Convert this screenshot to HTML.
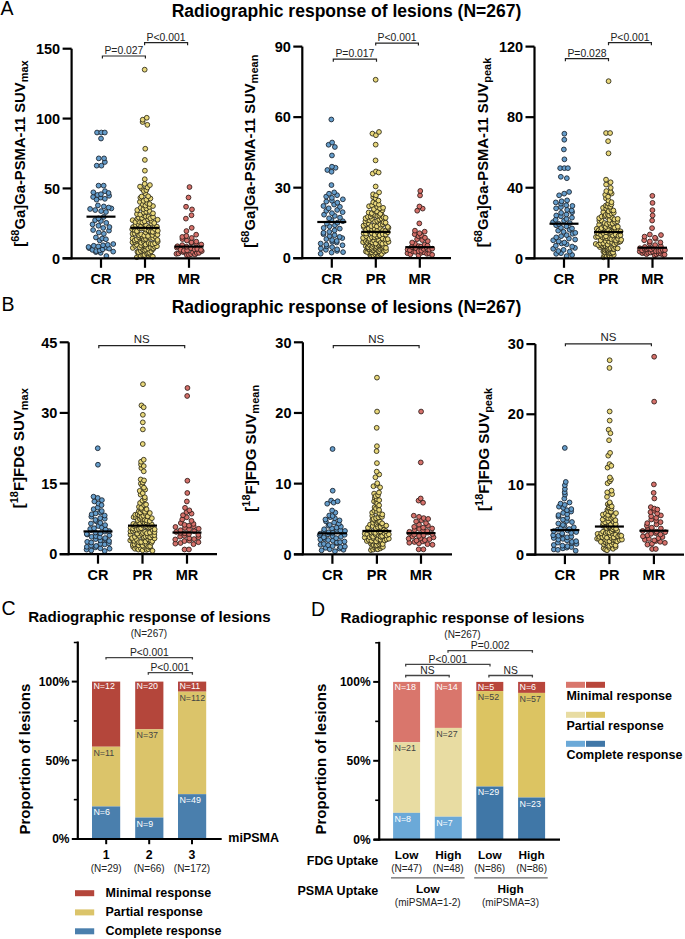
<!DOCTYPE html>
<html><head><meta charset="utf-8"><style>
html,body{margin:0;padding:0;background:#fff;width:685px;height:939px;overflow:hidden}
svg{display:block}
text{font-family:"Liberation Sans", sans-serif}
</style></head><body>
<svg width="685" height="939" viewBox="0 0 685 939" font-family='"Liberation Sans", sans-serif'>
<rect width="685" height="939" fill="#fff"/>
<text x="0.50" y="15.40" font-size="19.5" font-weight="normal" text-anchor="start" fill="#000" >A</text>
<text x="346.50" y="17.30" font-size="17.5" font-weight="bold" text-anchor="middle" fill="#000" >Radiographic response of lesions (N=267)</text>
<text x="1.60" y="311.00" font-size="19.5" font-weight="normal" text-anchor="start" fill="#000" >B</text>
<text x="346.50" y="312.60" font-size="17.5" font-weight="bold" text-anchor="middle" fill="#000" >Radiographic response of lesions (N=267)</text>
<circle cx="95.86" cy="252.08" r="2.4" fill="#659dcb" stroke="#1c2733" stroke-width="0.9"/>
<circle cx="100.65" cy="252.81" r="2.4" fill="#659dcb" stroke="#1c2733" stroke-width="0.9"/>
<circle cx="106.39" cy="256.06" r="2.4" fill="#659dcb" stroke="#1c2733" stroke-width="0.9"/>
<circle cx="89.08" cy="248.10" r="2.4" fill="#659dcb" stroke="#1c2733" stroke-width="0.9"/>
<circle cx="92.38" cy="249.88" r="2.4" fill="#659dcb" stroke="#1c2733" stroke-width="0.9"/>
<circle cx="96.20" cy="251.07" r="2.4" fill="#659dcb" stroke="#1c2733" stroke-width="0.9"/>
<circle cx="99.73" cy="250.41" r="2.4" fill="#659dcb" stroke="#1c2733" stroke-width="0.9"/>
<circle cx="102.69" cy="249.37" r="2.4" fill="#659dcb" stroke="#1c2733" stroke-width="0.9"/>
<circle cx="106.31" cy="247.68" r="2.4" fill="#659dcb" stroke="#1c2733" stroke-width="0.9"/>
<circle cx="109.13" cy="248.63" r="2.4" fill="#659dcb" stroke="#1c2733" stroke-width="0.9"/>
<circle cx="113.20" cy="251.60" r="2.4" fill="#659dcb" stroke="#1c2733" stroke-width="0.9"/>
<circle cx="88.52" cy="247.00" r="2.4" fill="#659dcb" stroke="#1c2733" stroke-width="0.9"/>
<circle cx="93.76" cy="245.77" r="2.4" fill="#659dcb" stroke="#1c2733" stroke-width="0.9"/>
<circle cx="98.27" cy="246.45" r="2.4" fill="#659dcb" stroke="#1c2733" stroke-width="0.9"/>
<circle cx="103.02" cy="245.25" r="2.4" fill="#659dcb" stroke="#1c2733" stroke-width="0.9"/>
<circle cx="107.76" cy="244.83" r="2.4" fill="#659dcb" stroke="#1c2733" stroke-width="0.9"/>
<circle cx="113.27" cy="244.03" r="2.4" fill="#659dcb" stroke="#1c2733" stroke-width="0.9"/>
<circle cx="95.89" cy="237.44" r="2.4" fill="#659dcb" stroke="#1c2733" stroke-width="0.9"/>
<circle cx="99.70" cy="240.39" r="2.4" fill="#659dcb" stroke="#1c2733" stroke-width="0.9"/>
<circle cx="102.25" cy="238.49" r="2.4" fill="#659dcb" stroke="#1c2733" stroke-width="0.9"/>
<circle cx="105.95" cy="239.23" r="2.4" fill="#659dcb" stroke="#1c2733" stroke-width="0.9"/>
<circle cx="93.11" cy="230.03" r="2.4" fill="#659dcb" stroke="#1c2733" stroke-width="0.9"/>
<circle cx="98.79" cy="232.54" r="2.4" fill="#659dcb" stroke="#1c2733" stroke-width="0.9"/>
<circle cx="103.88" cy="233.78" r="2.4" fill="#659dcb" stroke="#1c2733" stroke-width="0.9"/>
<circle cx="108.98" cy="230.65" r="2.4" fill="#659dcb" stroke="#1c2733" stroke-width="0.9"/>
<circle cx="92.55" cy="224.39" r="2.4" fill="#659dcb" stroke="#1c2733" stroke-width="0.9"/>
<circle cx="98.46" cy="225.76" r="2.4" fill="#659dcb" stroke="#1c2733" stroke-width="0.9"/>
<circle cx="103.21" cy="227.96" r="2.4" fill="#659dcb" stroke="#1c2733" stroke-width="0.9"/>
<circle cx="109.43" cy="227.04" r="2.4" fill="#659dcb" stroke="#1c2733" stroke-width="0.9"/>
<circle cx="95.10" cy="220.14" r="2.4" fill="#659dcb" stroke="#1c2733" stroke-width="0.9"/>
<circle cx="100.92" cy="221.01" r="2.4" fill="#659dcb" stroke="#1c2733" stroke-width="0.9"/>
<circle cx="106.27" cy="222.83" r="2.4" fill="#659dcb" stroke="#1c2733" stroke-width="0.9"/>
<circle cx="98.49" cy="218.41" r="2.4" fill="#659dcb" stroke="#1c2733" stroke-width="0.9"/>
<circle cx="103.72" cy="216.96" r="2.4" fill="#659dcb" stroke="#1c2733" stroke-width="0.9"/>
<circle cx="90.10" cy="208.96" r="2.4" fill="#659dcb" stroke="#1c2733" stroke-width="0.9"/>
<circle cx="95.20" cy="210.04" r="2.4" fill="#659dcb" stroke="#1c2733" stroke-width="0.9"/>
<circle cx="101.13" cy="211.09" r="2.4" fill="#659dcb" stroke="#1c2733" stroke-width="0.9"/>
<circle cx="105.96" cy="211.98" r="2.4" fill="#659dcb" stroke="#1c2733" stroke-width="0.9"/>
<circle cx="111.37" cy="208.46" r="2.4" fill="#659dcb" stroke="#1c2733" stroke-width="0.9"/>
<circle cx="97.91" cy="205.40" r="2.4" fill="#659dcb" stroke="#1c2733" stroke-width="0.9"/>
<circle cx="103.80" cy="206.44" r="2.4" fill="#659dcb" stroke="#1c2733" stroke-width="0.9"/>
<circle cx="108.70" cy="207.53" r="2.4" fill="#659dcb" stroke="#1c2733" stroke-width="0.9"/>
<circle cx="93.11" cy="196.99" r="2.4" fill="#659dcb" stroke="#1c2733" stroke-width="0.9"/>
<circle cx="96.57" cy="199.66" r="2.4" fill="#659dcb" stroke="#1c2733" stroke-width="0.9"/>
<circle cx="100.71" cy="197.61" r="2.4" fill="#659dcb" stroke="#1c2733" stroke-width="0.9"/>
<circle cx="104.88" cy="198.82" r="2.4" fill="#659dcb" stroke="#1c2733" stroke-width="0.9"/>
<circle cx="109.13" cy="195.80" r="2.4" fill="#659dcb" stroke="#1c2733" stroke-width="0.9"/>
<circle cx="93.35" cy="192.33" r="2.4" fill="#659dcb" stroke="#1c2733" stroke-width="0.9"/>
<circle cx="97.49" cy="194.96" r="2.4" fill="#659dcb" stroke="#1c2733" stroke-width="0.9"/>
<circle cx="100.97" cy="194.19" r="2.4" fill="#659dcb" stroke="#1c2733" stroke-width="0.9"/>
<circle cx="104.98" cy="191.17" r="2.4" fill="#659dcb" stroke="#1c2733" stroke-width="0.9"/>
<circle cx="108.59" cy="193.01" r="2.4" fill="#659dcb" stroke="#1c2733" stroke-width="0.9"/>
<circle cx="98.54" cy="185.64" r="2.4" fill="#659dcb" stroke="#1c2733" stroke-width="0.9"/>
<circle cx="103.68" cy="185.64" r="2.4" fill="#659dcb" stroke="#1c2733" stroke-width="0.9"/>
<circle cx="96.71" cy="165.66" r="2.4" fill="#659dcb" stroke="#1c2733" stroke-width="0.9"/>
<circle cx="101.45" cy="165.66" r="2.4" fill="#659dcb" stroke="#1c2733" stroke-width="0.9"/>
<circle cx="104.86" cy="162.02" r="2.4" fill="#659dcb" stroke="#1c2733" stroke-width="0.9"/>
<circle cx="98.78" cy="158.39" r="2.4" fill="#659dcb" stroke="#1c2733" stroke-width="0.9"/>
<circle cx="104.06" cy="158.39" r="2.4" fill="#659dcb" stroke="#1c2733" stroke-width="0.9"/>
<circle cx="101.02" cy="138.55" r="2.4" fill="#659dcb" stroke="#1c2733" stroke-width="0.9"/>
<circle cx="97.03" cy="132.54" r="2.4" fill="#659dcb" stroke="#1c2733" stroke-width="0.9"/>
<circle cx="101.28" cy="132.54" r="2.4" fill="#659dcb" stroke="#1c2733" stroke-width="0.9"/>
<circle cx="104.83" cy="132.54" r="2.4" fill="#659dcb" stroke="#1c2733" stroke-width="0.9"/>
<circle cx="136.84" cy="257.22" r="2.4" fill="#e8d77a" stroke="#33301c" stroke-width="0.9"/>
<circle cx="138.70" cy="254.11" r="2.4" fill="#e8d77a" stroke="#33301c" stroke-width="0.9"/>
<circle cx="140.82" cy="256.23" r="2.4" fill="#e8d77a" stroke="#33301c" stroke-width="0.9"/>
<circle cx="143.22" cy="255.51" r="2.4" fill="#e8d77a" stroke="#33301c" stroke-width="0.9"/>
<circle cx="144.52" cy="254.97" r="2.4" fill="#e8d77a" stroke="#33301c" stroke-width="0.9"/>
<circle cx="147.05" cy="253.70" r="2.4" fill="#e8d77a" stroke="#33301c" stroke-width="0.9"/>
<circle cx="148.94" cy="255.96" r="2.4" fill="#e8d77a" stroke="#33301c" stroke-width="0.9"/>
<circle cx="150.52" cy="254.61" r="2.4" fill="#e8d77a" stroke="#33301c" stroke-width="0.9"/>
<circle cx="152.83" cy="256.66" r="2.4" fill="#e8d77a" stroke="#33301c" stroke-width="0.9"/>
<circle cx="137.41" cy="251.86" r="2.4" fill="#e8d77a" stroke="#33301c" stroke-width="0.9"/>
<circle cx="138.46" cy="252.11" r="2.4" fill="#e8d77a" stroke="#33301c" stroke-width="0.9"/>
<circle cx="140.81" cy="250.81" r="2.4" fill="#e8d77a" stroke="#33301c" stroke-width="0.9"/>
<circle cx="142.65" cy="249.35" r="2.4" fill="#e8d77a" stroke="#33301c" stroke-width="0.9"/>
<circle cx="144.46" cy="250.49" r="2.4" fill="#e8d77a" stroke="#33301c" stroke-width="0.9"/>
<circle cx="146.06" cy="249.83" r="2.4" fill="#e8d77a" stroke="#33301c" stroke-width="0.9"/>
<circle cx="148.11" cy="253.08" r="2.4" fill="#e8d77a" stroke="#33301c" stroke-width="0.9"/>
<circle cx="149.35" cy="252.60" r="2.4" fill="#e8d77a" stroke="#33301c" stroke-width="0.9"/>
<circle cx="151.26" cy="251.25" r="2.4" fill="#e8d77a" stroke="#33301c" stroke-width="0.9"/>
<circle cx="153.01" cy="249.10" r="2.4" fill="#e8d77a" stroke="#33301c" stroke-width="0.9"/>
<circle cx="132.83" cy="247.92" r="2.4" fill="#e8d77a" stroke="#33301c" stroke-width="0.9"/>
<circle cx="135.24" cy="245.88" r="2.4" fill="#e8d77a" stroke="#33301c" stroke-width="0.9"/>
<circle cx="136.76" cy="244.76" r="2.4" fill="#e8d77a" stroke="#33301c" stroke-width="0.9"/>
<circle cx="139.77" cy="247.48" r="2.4" fill="#e8d77a" stroke="#33301c" stroke-width="0.9"/>
<circle cx="141.21" cy="245.52" r="2.4" fill="#e8d77a" stroke="#33301c" stroke-width="0.9"/>
<circle cx="144.24" cy="245.18" r="2.4" fill="#e8d77a" stroke="#33301c" stroke-width="0.9"/>
<circle cx="146.07" cy="246.46" r="2.4" fill="#e8d77a" stroke="#33301c" stroke-width="0.9"/>
<circle cx="148.19" cy="248.52" r="2.4" fill="#e8d77a" stroke="#33301c" stroke-width="0.9"/>
<circle cx="150.64" cy="247.24" r="2.4" fill="#e8d77a" stroke="#33301c" stroke-width="0.9"/>
<circle cx="153.25" cy="248.24" r="2.4" fill="#e8d77a" stroke="#33301c" stroke-width="0.9"/>
<circle cx="154.83" cy="246.80" r="2.4" fill="#e8d77a" stroke="#33301c" stroke-width="0.9"/>
<circle cx="156.93" cy="246.24" r="2.4" fill="#e8d77a" stroke="#33301c" stroke-width="0.9"/>
<circle cx="132.49" cy="242.32" r="2.4" fill="#e8d77a" stroke="#33301c" stroke-width="0.9"/>
<circle cx="134.94" cy="241.90" r="2.4" fill="#e8d77a" stroke="#33301c" stroke-width="0.9"/>
<circle cx="136.85" cy="240.94" r="2.4" fill="#e8d77a" stroke="#33301c" stroke-width="0.9"/>
<circle cx="139.26" cy="240.58" r="2.4" fill="#e8d77a" stroke="#33301c" stroke-width="0.9"/>
<circle cx="141.16" cy="242.69" r="2.4" fill="#e8d77a" stroke="#33301c" stroke-width="0.9"/>
<circle cx="143.63" cy="241.20" r="2.4" fill="#e8d77a" stroke="#33301c" stroke-width="0.9"/>
<circle cx="145.63" cy="244.48" r="2.4" fill="#e8d77a" stroke="#33301c" stroke-width="0.9"/>
<circle cx="148.59" cy="243.06" r="2.4" fill="#e8d77a" stroke="#33301c" stroke-width="0.9"/>
<circle cx="150.64" cy="243.81" r="2.4" fill="#e8d77a" stroke="#33301c" stroke-width="0.9"/>
<circle cx="152.52" cy="244.10" r="2.4" fill="#e8d77a" stroke="#33301c" stroke-width="0.9"/>
<circle cx="155.04" cy="243.30" r="2.4" fill="#e8d77a" stroke="#33301c" stroke-width="0.9"/>
<circle cx="157.73" cy="241.65" r="2.4" fill="#e8d77a" stroke="#33301c" stroke-width="0.9"/>
<circle cx="132.60" cy="238.43" r="2.4" fill="#e8d77a" stroke="#33301c" stroke-width="0.9"/>
<circle cx="134.78" cy="240.23" r="2.4" fill="#e8d77a" stroke="#33301c" stroke-width="0.9"/>
<circle cx="136.73" cy="239.26" r="2.4" fill="#e8d77a" stroke="#33301c" stroke-width="0.9"/>
<circle cx="139.04" cy="237.40" r="2.4" fill="#e8d77a" stroke="#33301c" stroke-width="0.9"/>
<circle cx="141.22" cy="236.39" r="2.4" fill="#e8d77a" stroke="#33301c" stroke-width="0.9"/>
<circle cx="144.12" cy="239.55" r="2.4" fill="#e8d77a" stroke="#33301c" stroke-width="0.9"/>
<circle cx="145.87" cy="238.95" r="2.4" fill="#e8d77a" stroke="#33301c" stroke-width="0.9"/>
<circle cx="148.02" cy="237.08" r="2.4" fill="#e8d77a" stroke="#33301c" stroke-width="0.9"/>
<circle cx="150.18" cy="237.80" r="2.4" fill="#e8d77a" stroke="#33301c" stroke-width="0.9"/>
<circle cx="153.17" cy="238.21" r="2.4" fill="#e8d77a" stroke="#33301c" stroke-width="0.9"/>
<circle cx="155.43" cy="236.78" r="2.4" fill="#e8d77a" stroke="#33301c" stroke-width="0.9"/>
<circle cx="157.47" cy="239.99" r="2.4" fill="#e8d77a" stroke="#33301c" stroke-width="0.9"/>
<circle cx="132.56" cy="233.89" r="2.4" fill="#e8d77a" stroke="#33301c" stroke-width="0.9"/>
<circle cx="134.77" cy="233.60" r="2.4" fill="#e8d77a" stroke="#33301c" stroke-width="0.9"/>
<circle cx="137.66" cy="233.24" r="2.4" fill="#e8d77a" stroke="#33301c" stroke-width="0.9"/>
<circle cx="139.23" cy="235.43" r="2.4" fill="#e8d77a" stroke="#33301c" stroke-width="0.9"/>
<circle cx="141.18" cy="234.35" r="2.4" fill="#e8d77a" stroke="#33301c" stroke-width="0.9"/>
<circle cx="144.26" cy="235.64" r="2.4" fill="#e8d77a" stroke="#33301c" stroke-width="0.9"/>
<circle cx="145.84" cy="232.47" r="2.4" fill="#e8d77a" stroke="#33301c" stroke-width="0.9"/>
<circle cx="148.04" cy="236.04" r="2.4" fill="#e8d77a" stroke="#33301c" stroke-width="0.9"/>
<circle cx="150.43" cy="232.22" r="2.4" fill="#e8d77a" stroke="#33301c" stroke-width="0.9"/>
<circle cx="152.41" cy="234.99" r="2.4" fill="#e8d77a" stroke="#33301c" stroke-width="0.9"/>
<circle cx="154.84" cy="232.85" r="2.4" fill="#e8d77a" stroke="#33301c" stroke-width="0.9"/>
<circle cx="157.46" cy="234.70" r="2.4" fill="#e8d77a" stroke="#33301c" stroke-width="0.9"/>
<circle cx="132.22" cy="229.32" r="2.4" fill="#e8d77a" stroke="#33301c" stroke-width="0.9"/>
<circle cx="134.74" cy="230.10" r="2.4" fill="#e8d77a" stroke="#33301c" stroke-width="0.9"/>
<circle cx="136.91" cy="231.15" r="2.4" fill="#e8d77a" stroke="#33301c" stroke-width="0.9"/>
<circle cx="139.49" cy="228.06" r="2.4" fill="#e8d77a" stroke="#33301c" stroke-width="0.9"/>
<circle cx="141.67" cy="228.27" r="2.4" fill="#e8d77a" stroke="#33301c" stroke-width="0.9"/>
<circle cx="144.13" cy="228.63" r="2.4" fill="#e8d77a" stroke="#33301c" stroke-width="0.9"/>
<circle cx="146.28" cy="229.76" r="2.4" fill="#e8d77a" stroke="#33301c" stroke-width="0.9"/>
<circle cx="148.57" cy="230.47" r="2.4" fill="#e8d77a" stroke="#33301c" stroke-width="0.9"/>
<circle cx="150.97" cy="231.50" r="2.4" fill="#e8d77a" stroke="#33301c" stroke-width="0.9"/>
<circle cx="152.72" cy="231.83" r="2.4" fill="#e8d77a" stroke="#33301c" stroke-width="0.9"/>
<circle cx="154.89" cy="229.02" r="2.4" fill="#e8d77a" stroke="#33301c" stroke-width="0.9"/>
<circle cx="157.78" cy="230.77" r="2.4" fill="#e8d77a" stroke="#33301c" stroke-width="0.9"/>
<circle cx="133.03" cy="227.08" r="2.4" fill="#e8d77a" stroke="#33301c" stroke-width="0.9"/>
<circle cx="135.52" cy="224.91" r="2.4" fill="#e8d77a" stroke="#33301c" stroke-width="0.9"/>
<circle cx="138.56" cy="224.33" r="2.4" fill="#e8d77a" stroke="#33301c" stroke-width="0.9"/>
<circle cx="141.08" cy="226.25" r="2.4" fill="#e8d77a" stroke="#33301c" stroke-width="0.9"/>
<circle cx="143.83" cy="223.83" r="2.4" fill="#e8d77a" stroke="#33301c" stroke-width="0.9"/>
<circle cx="146.10" cy="225.25" r="2.4" fill="#e8d77a" stroke="#33301c" stroke-width="0.9"/>
<circle cx="148.63" cy="227.50" r="2.4" fill="#e8d77a" stroke="#33301c" stroke-width="0.9"/>
<circle cx="151.47" cy="223.53" r="2.4" fill="#e8d77a" stroke="#33301c" stroke-width="0.9"/>
<circle cx="154.43" cy="225.87" r="2.4" fill="#e8d77a" stroke="#33301c" stroke-width="0.9"/>
<circle cx="156.90" cy="226.63" r="2.4" fill="#e8d77a" stroke="#33301c" stroke-width="0.9"/>
<circle cx="132.66" cy="220.19" r="2.4" fill="#e8d77a" stroke="#33301c" stroke-width="0.9"/>
<circle cx="135.35" cy="222.07" r="2.4" fill="#e8d77a" stroke="#33301c" stroke-width="0.9"/>
<circle cx="139.28" cy="221.76" r="2.4" fill="#e8d77a" stroke="#33301c" stroke-width="0.9"/>
<circle cx="142.32" cy="222.46" r="2.4" fill="#e8d77a" stroke="#33301c" stroke-width="0.9"/>
<circle cx="144.59" cy="221.32" r="2.4" fill="#e8d77a" stroke="#33301c" stroke-width="0.9"/>
<circle cx="148.10" cy="219.48" r="2.4" fill="#e8d77a" stroke="#33301c" stroke-width="0.9"/>
<circle cx="151.40" cy="220.85" r="2.4" fill="#e8d77a" stroke="#33301c" stroke-width="0.9"/>
<circle cx="154.20" cy="223.07" r="2.4" fill="#e8d77a" stroke="#33301c" stroke-width="0.9"/>
<circle cx="157.61" cy="219.76" r="2.4" fill="#e8d77a" stroke="#33301c" stroke-width="0.9"/>
<circle cx="137.35" cy="218.84" r="2.4" fill="#e8d77a" stroke="#33301c" stroke-width="0.9"/>
<circle cx="138.86" cy="217.60" r="2.4" fill="#e8d77a" stroke="#33301c" stroke-width="0.9"/>
<circle cx="141.98" cy="217.97" r="2.4" fill="#e8d77a" stroke="#33301c" stroke-width="0.9"/>
<circle cx="143.64" cy="215.34" r="2.4" fill="#e8d77a" stroke="#33301c" stroke-width="0.9"/>
<circle cx="145.69" cy="216.32" r="2.4" fill="#e8d77a" stroke="#33301c" stroke-width="0.9"/>
<circle cx="148.56" cy="216.75" r="2.4" fill="#e8d77a" stroke="#33301c" stroke-width="0.9"/>
<circle cx="150.41" cy="218.34" r="2.4" fill="#e8d77a" stroke="#33301c" stroke-width="0.9"/>
<circle cx="153.10" cy="217.09" r="2.4" fill="#e8d77a" stroke="#33301c" stroke-width="0.9"/>
<circle cx="136.98" cy="214.07" r="2.4" fill="#e8d77a" stroke="#33301c" stroke-width="0.9"/>
<circle cx="140.19" cy="214.57" r="2.4" fill="#e8d77a" stroke="#33301c" stroke-width="0.9"/>
<circle cx="143.87" cy="212.57" r="2.4" fill="#e8d77a" stroke="#33301c" stroke-width="0.9"/>
<circle cx="146.20" cy="211.80" r="2.4" fill="#e8d77a" stroke="#33301c" stroke-width="0.9"/>
<circle cx="149.52" cy="211.01" r="2.4" fill="#e8d77a" stroke="#33301c" stroke-width="0.9"/>
<circle cx="152.99" cy="213.35" r="2.4" fill="#e8d77a" stroke="#33301c" stroke-width="0.9"/>
<circle cx="137.27" cy="210.03" r="2.4" fill="#e8d77a" stroke="#33301c" stroke-width="0.9"/>
<circle cx="140.69" cy="207.75" r="2.4" fill="#e8d77a" stroke="#33301c" stroke-width="0.9"/>
<circle cx="143.45" cy="209.12" r="2.4" fill="#e8d77a" stroke="#33301c" stroke-width="0.9"/>
<circle cx="146.41" cy="208.37" r="2.4" fill="#e8d77a" stroke="#33301c" stroke-width="0.9"/>
<circle cx="149.39" cy="206.89" r="2.4" fill="#e8d77a" stroke="#33301c" stroke-width="0.9"/>
<circle cx="152.97" cy="206.04" r="2.4" fill="#e8d77a" stroke="#33301c" stroke-width="0.9"/>
<circle cx="139.89" cy="201.87" r="2.4" fill="#e8d77a" stroke="#33301c" stroke-width="0.9"/>
<circle cx="142.92" cy="204.54" r="2.4" fill="#e8d77a" stroke="#33301c" stroke-width="0.9"/>
<circle cx="145.43" cy="205.59" r="2.4" fill="#e8d77a" stroke="#33301c" stroke-width="0.9"/>
<circle cx="147.07" cy="203.01" r="2.4" fill="#e8d77a" stroke="#33301c" stroke-width="0.9"/>
<circle cx="149.59" cy="204.01" r="2.4" fill="#e8d77a" stroke="#33301c" stroke-width="0.9"/>
<circle cx="140.39" cy="197.78" r="2.4" fill="#e8d77a" stroke="#33301c" stroke-width="0.9"/>
<circle cx="143.54" cy="200.88" r="2.4" fill="#e8d77a" stroke="#33301c" stroke-width="0.9"/>
<circle cx="146.40" cy="199.63" r="2.4" fill="#e8d77a" stroke="#33301c" stroke-width="0.9"/>
<circle cx="150.40" cy="198.47" r="2.4" fill="#e8d77a" stroke="#33301c" stroke-width="0.9"/>
<circle cx="141.66" cy="196.50" r="2.4" fill="#e8d77a" stroke="#33301c" stroke-width="0.9"/>
<circle cx="145.45" cy="193.60" r="2.4" fill="#e8d77a" stroke="#33301c" stroke-width="0.9"/>
<circle cx="148.18" cy="196.26" r="2.4" fill="#e8d77a" stroke="#33301c" stroke-width="0.9"/>
<circle cx="141.84" cy="188.74" r="2.4" fill="#e8d77a" stroke="#33301c" stroke-width="0.9"/>
<circle cx="143.82" cy="190.95" r="2.4" fill="#e8d77a" stroke="#33301c" stroke-width="0.9"/>
<circle cx="146.34" cy="190.06" r="2.4" fill="#e8d77a" stroke="#33301c" stroke-width="0.9"/>
<circle cx="147.50" cy="187.50" r="2.4" fill="#e8d77a" stroke="#33301c" stroke-width="0.9"/>
<circle cx="140.04" cy="186.60" r="2.4" fill="#e8d77a" stroke="#33301c" stroke-width="0.9"/>
<circle cx="144.70" cy="183.89" r="2.4" fill="#e8d77a" stroke="#33301c" stroke-width="0.9"/>
<circle cx="149.91" cy="185.07" r="2.4" fill="#e8d77a" stroke="#33301c" stroke-width="0.9"/>
<circle cx="144.75" cy="179.21" r="2.4" fill="#e8d77a" stroke="#33301c" stroke-width="0.9"/>
<circle cx="144.89" cy="170.69" r="2.4" fill="#e8d77a" stroke="#33301c" stroke-width="0.9"/>
<circle cx="144.86" cy="159.93" r="2.4" fill="#e8d77a" stroke="#33301c" stroke-width="0.9"/>
<circle cx="145.26" cy="148.75" r="2.4" fill="#e8d77a" stroke="#33301c" stroke-width="0.9"/>
<circle cx="142.60" cy="122.02" r="2.4" fill="#e8d77a" stroke="#33301c" stroke-width="0.9"/>
<circle cx="147.33" cy="124.85" r="2.4" fill="#e8d77a" stroke="#33301c" stroke-width="0.9"/>
<circle cx="142.75" cy="119.70" r="2.4" fill="#e8d77a" stroke="#33301c" stroke-width="0.9"/>
<circle cx="146.77" cy="117.77" r="2.4" fill="#e8d77a" stroke="#33301c" stroke-width="0.9"/>
<circle cx="144.69" cy="69.66" r="2.4" fill="#e8d77a" stroke="#33301c" stroke-width="0.9"/>
<circle cx="176.44" cy="253.85" r="2.4" fill="#d5706a" stroke="#38201d" stroke-width="0.9"/>
<circle cx="178.51" cy="253.41" r="2.4" fill="#d5706a" stroke="#38201d" stroke-width="0.9"/>
<circle cx="180.87" cy="251.41" r="2.4" fill="#d5706a" stroke="#38201d" stroke-width="0.9"/>
<circle cx="183.24" cy="252.12" r="2.4" fill="#d5706a" stroke="#38201d" stroke-width="0.9"/>
<circle cx="185.15" cy="251.72" r="2.4" fill="#d5706a" stroke="#38201d" stroke-width="0.9"/>
<circle cx="186.86" cy="255.10" r="2.4" fill="#d5706a" stroke="#38201d" stroke-width="0.9"/>
<circle cx="188.91" cy="254.92" r="2.4" fill="#d5706a" stroke="#38201d" stroke-width="0.9"/>
<circle cx="191.07" cy="254.19" r="2.4" fill="#d5706a" stroke="#38201d" stroke-width="0.9"/>
<circle cx="192.98" cy="252.40" r="2.4" fill="#d5706a" stroke="#38201d" stroke-width="0.9"/>
<circle cx="194.99" cy="254.51" r="2.4" fill="#d5706a" stroke="#38201d" stroke-width="0.9"/>
<circle cx="196.76" cy="253.02" r="2.4" fill="#d5706a" stroke="#38201d" stroke-width="0.9"/>
<circle cx="199.03" cy="252.82" r="2.4" fill="#d5706a" stroke="#38201d" stroke-width="0.9"/>
<circle cx="201.77" cy="251.11" r="2.4" fill="#d5706a" stroke="#38201d" stroke-width="0.9"/>
<circle cx="176.88" cy="247.60" r="2.4" fill="#d5706a" stroke="#38201d" stroke-width="0.9"/>
<circle cx="180.57" cy="249.66" r="2.4" fill="#d5706a" stroke="#38201d" stroke-width="0.9"/>
<circle cx="183.79" cy="250.77" r="2.4" fill="#d5706a" stroke="#38201d" stroke-width="0.9"/>
<circle cx="187.10" cy="250.41" r="2.4" fill="#d5706a" stroke="#38201d" stroke-width="0.9"/>
<circle cx="191.03" cy="248.20" r="2.4" fill="#d5706a" stroke="#38201d" stroke-width="0.9"/>
<circle cx="194.61" cy="249.37" r="2.4" fill="#d5706a" stroke="#38201d" stroke-width="0.9"/>
<circle cx="197.20" cy="248.89" r="2.4" fill="#d5706a" stroke="#38201d" stroke-width="0.9"/>
<circle cx="200.93" cy="249.92" r="2.4" fill="#d5706a" stroke="#38201d" stroke-width="0.9"/>
<circle cx="177.43" cy="246.27" r="2.4" fill="#d5706a" stroke="#38201d" stroke-width="0.9"/>
<circle cx="182.23" cy="245.17" r="2.4" fill="#d5706a" stroke="#38201d" stroke-width="0.9"/>
<circle cx="186.63" cy="246.74" r="2.4" fill="#d5706a" stroke="#38201d" stroke-width="0.9"/>
<circle cx="191.37" cy="242.86" r="2.4" fill="#d5706a" stroke="#38201d" stroke-width="0.9"/>
<circle cx="196.15" cy="243.59" r="2.4" fill="#d5706a" stroke="#38201d" stroke-width="0.9"/>
<circle cx="201.28" cy="244.52" r="2.4" fill="#d5706a" stroke="#38201d" stroke-width="0.9"/>
<circle cx="182.44" cy="239.03" r="2.4" fill="#d5706a" stroke="#38201d" stroke-width="0.9"/>
<circle cx="186.89" cy="240.51" r="2.4" fill="#d5706a" stroke="#38201d" stroke-width="0.9"/>
<circle cx="191.48" cy="242.25" r="2.4" fill="#d5706a" stroke="#38201d" stroke-width="0.9"/>
<circle cx="196.26" cy="241.58" r="2.4" fill="#d5706a" stroke="#38201d" stroke-width="0.9"/>
<circle cx="182.28" cy="236.94" r="2.4" fill="#d5706a" stroke="#38201d" stroke-width="0.9"/>
<circle cx="186.40" cy="235.96" r="2.4" fill="#d5706a" stroke="#38201d" stroke-width="0.9"/>
<circle cx="191.75" cy="237.98" r="2.4" fill="#d5706a" stroke="#38201d" stroke-width="0.9"/>
<circle cx="196.15" cy="234.68" r="2.4" fill="#d5706a" stroke="#38201d" stroke-width="0.9"/>
<circle cx="186.43" cy="231.05" r="2.4" fill="#d5706a" stroke="#38201d" stroke-width="0.9"/>
<circle cx="191.73" cy="227.84" r="2.4" fill="#d5706a" stroke="#38201d" stroke-width="0.9"/>
<circle cx="185.90" cy="218.62" r="2.4" fill="#d5706a" stroke="#38201d" stroke-width="0.9"/>
<circle cx="191.50" cy="215.26" r="2.4" fill="#d5706a" stroke="#38201d" stroke-width="0.9"/>
<circle cx="186.06" cy="206.74" r="2.4" fill="#d5706a" stroke="#38201d" stroke-width="0.9"/>
<circle cx="191.99" cy="209.39" r="2.4" fill="#d5706a" stroke="#38201d" stroke-width="0.9"/>
<circle cx="188.51" cy="197.52" r="2.4" fill="#d5706a" stroke="#38201d" stroke-width="0.9"/>
<circle cx="189.50" cy="187.04" r="2.4" fill="#d5706a" stroke="#38201d" stroke-width="0.9"/>
<line x1="86.50" y1="216.66" x2="115.50" y2="216.66" stroke="#000" stroke-width="2.2" stroke-linecap="butt"/>
<line x1="130.50" y1="227.84" x2="159.50" y2="227.84" stroke="#000" stroke-width="2.2" stroke-linecap="butt"/>
<line x1="174.50" y1="246.56" x2="203.50" y2="246.56" stroke="#000" stroke-width="2.2" stroke-linecap="butt"/>
<line x1="71.60" y1="48.70" x2="71.60" y2="259.30" stroke="#000" stroke-width="2.2" stroke-linecap="butt"/>
<line x1="62.60" y1="258.30" x2="220.00" y2="258.30" stroke="#000" stroke-width="2.2" stroke-linecap="butt"/>
<line x1="62.60" y1="258.30" x2="71.60" y2="258.30" stroke="#000" stroke-width="2.2" stroke-linecap="butt"/>
<text x="60.20" y="263.50" font-size="14.5" font-weight="bold" text-anchor="end" fill="#000" >0</text>
<line x1="62.60" y1="188.43" x2="71.60" y2="188.43" stroke="#000" stroke-width="2.2" stroke-linecap="butt"/>
<text x="60.20" y="193.63" font-size="14.5" font-weight="bold" text-anchor="end" fill="#000" >50</text>
<line x1="62.60" y1="118.57" x2="71.60" y2="118.57" stroke="#000" stroke-width="2.2" stroke-linecap="butt"/>
<text x="60.20" y="123.77" font-size="14.5" font-weight="bold" text-anchor="end" fill="#000" >100</text>
<line x1="62.60" y1="48.70" x2="71.60" y2="48.70" stroke="#000" stroke-width="2.2" stroke-linecap="butt"/>
<text x="60.20" y="53.90" font-size="14.5" font-weight="bold" text-anchor="end" fill="#000" >150</text>
<line x1="101.00" y1="258.30" x2="101.00" y2="267.80" stroke="#000" stroke-width="2.2" stroke-linecap="butt"/>
<text x="101.00" y="283.60" font-size="14.5" font-weight="bold" text-anchor="middle" fill="#000" >CR</text>
<line x1="145.00" y1="258.30" x2="145.00" y2="267.80" stroke="#000" stroke-width="2.2" stroke-linecap="butt"/>
<text x="145.00" y="283.60" font-size="14.5" font-weight="bold" text-anchor="middle" fill="#000" >PR</text>
<line x1="189.00" y1="258.30" x2="189.00" y2="267.80" stroke="#000" stroke-width="2.2" stroke-linecap="butt"/>
<text x="189.00" y="283.60" font-size="14.5" font-weight="bold" text-anchor="middle" fill="#000" >MR</text>
<text transform="translate(24.70,153.50) rotate(-90)" font-size="14.8" font-weight="bold" text-anchor="middle">[<tspan font-size="11" dy="-5.8">68</tspan><tspan dy="5.8">Ga]Ga-PSMA-11 SUV</tspan><tspan font-size="11" dy="3.4">max</tspan></text>
<path d="M102.40,58.50 V56.00 H145.40 V58.50" fill="none" stroke="#222" stroke-width="1.2"/>
<text x="123.90" y="54.20" font-size="10.4" font-weight="normal" text-anchor="middle" fill="#222" >P=0.027</text>
<path d="M144.60,45.20 V42.70 H187.60 V45.20" fill="none" stroke="#222" stroke-width="1.2"/>
<text x="166.10" y="40.90" font-size="10.4" font-weight="normal" text-anchor="middle" fill="#222" >P&lt;0.001</text>
<circle cx="320.67" cy="253.75" r="2.4" fill="#659dcb" stroke="#1c2733" stroke-width="0.9"/>
<circle cx="325.90" cy="249.79" r="2.4" fill="#659dcb" stroke="#1c2733" stroke-width="0.9"/>
<circle cx="331.58" cy="252.58" r="2.4" fill="#659dcb" stroke="#1c2733" stroke-width="0.9"/>
<circle cx="337.05" cy="250.90" r="2.4" fill="#659dcb" stroke="#1c2733" stroke-width="0.9"/>
<circle cx="343.06" cy="252.13" r="2.4" fill="#659dcb" stroke="#1c2733" stroke-width="0.9"/>
<circle cx="320.86" cy="248.43" r="2.4" fill="#659dcb" stroke="#1c2733" stroke-width="0.9"/>
<circle cx="326.72" cy="246.35" r="2.4" fill="#659dcb" stroke="#1c2733" stroke-width="0.9"/>
<circle cx="332.12" cy="247.18" r="2.4" fill="#659dcb" stroke="#1c2733" stroke-width="0.9"/>
<circle cx="337.13" cy="249.34" r="2.4" fill="#659dcb" stroke="#1c2733" stroke-width="0.9"/>
<circle cx="320.69" cy="243.54" r="2.4" fill="#659dcb" stroke="#1c2733" stroke-width="0.9"/>
<circle cx="326.26" cy="244.62" r="2.4" fill="#659dcb" stroke="#1c2733" stroke-width="0.9"/>
<circle cx="332.20" cy="241.76" r="2.4" fill="#659dcb" stroke="#1c2733" stroke-width="0.9"/>
<circle cx="336.73" cy="242.47" r="2.4" fill="#659dcb" stroke="#1c2733" stroke-width="0.9"/>
<circle cx="342.51" cy="245.26" r="2.4" fill="#659dcb" stroke="#1c2733" stroke-width="0.9"/>
<circle cx="326.36" cy="239.06" r="2.4" fill="#659dcb" stroke="#1c2733" stroke-width="0.9"/>
<circle cx="332.10" cy="240.03" r="2.4" fill="#659dcb" stroke="#1c2733" stroke-width="0.9"/>
<circle cx="336.76" cy="240.94" r="2.4" fill="#659dcb" stroke="#1c2733" stroke-width="0.9"/>
<circle cx="342.29" cy="238.11" r="2.4" fill="#659dcb" stroke="#1c2733" stroke-width="0.9"/>
<circle cx="323.47" cy="234.15" r="2.4" fill="#659dcb" stroke="#1c2733" stroke-width="0.9"/>
<circle cx="329.56" cy="236.07" r="2.4" fill="#659dcb" stroke="#1c2733" stroke-width="0.9"/>
<circle cx="334.62" cy="235.17" r="2.4" fill="#659dcb" stroke="#1c2733" stroke-width="0.9"/>
<circle cx="339.66" cy="236.93" r="2.4" fill="#659dcb" stroke="#1c2733" stroke-width="0.9"/>
<circle cx="323.50" cy="232.84" r="2.4" fill="#659dcb" stroke="#1c2733" stroke-width="0.9"/>
<circle cx="329.32" cy="231.85" r="2.4" fill="#659dcb" stroke="#1c2733" stroke-width="0.9"/>
<circle cx="334.60" cy="230.35" r="2.4" fill="#659dcb" stroke="#1c2733" stroke-width="0.9"/>
<circle cx="323.68" cy="227.95" r="2.4" fill="#659dcb" stroke="#1c2733" stroke-width="0.9"/>
<circle cx="329.56" cy="226.33" r="2.4" fill="#659dcb" stroke="#1c2733" stroke-width="0.9"/>
<circle cx="334.95" cy="225.27" r="2.4" fill="#659dcb" stroke="#1c2733" stroke-width="0.9"/>
<circle cx="339.79" cy="228.63" r="2.4" fill="#659dcb" stroke="#1c2733" stroke-width="0.9"/>
<circle cx="326.83" cy="223.55" r="2.4" fill="#659dcb" stroke="#1c2733" stroke-width="0.9"/>
<circle cx="331.48" cy="220.08" r="2.4" fill="#659dcb" stroke="#1c2733" stroke-width="0.9"/>
<circle cx="337.50" cy="222.71" r="2.4" fill="#659dcb" stroke="#1c2733" stroke-width="0.9"/>
<circle cx="342.84" cy="221.21" r="2.4" fill="#659dcb" stroke="#1c2733" stroke-width="0.9"/>
<circle cx="324.06" cy="214.67" r="2.4" fill="#659dcb" stroke="#1c2733" stroke-width="0.9"/>
<circle cx="329.06" cy="218.31" r="2.4" fill="#659dcb" stroke="#1c2733" stroke-width="0.9"/>
<circle cx="334.78" cy="215.94" r="2.4" fill="#659dcb" stroke="#1c2733" stroke-width="0.9"/>
<circle cx="340.00" cy="217.63" r="2.4" fill="#659dcb" stroke="#1c2733" stroke-width="0.9"/>
<circle cx="326.31" cy="210.82" r="2.4" fill="#659dcb" stroke="#1c2733" stroke-width="0.9"/>
<circle cx="331.95" cy="213.16" r="2.4" fill="#659dcb" stroke="#1c2733" stroke-width="0.9"/>
<circle cx="337.18" cy="209.92" r="2.4" fill="#659dcb" stroke="#1c2733" stroke-width="0.9"/>
<circle cx="342.64" cy="212.15" r="2.4" fill="#659dcb" stroke="#1c2733" stroke-width="0.9"/>
<circle cx="323.46" cy="205.98" r="2.4" fill="#659dcb" stroke="#1c2733" stroke-width="0.9"/>
<circle cx="328.68" cy="208.32" r="2.4" fill="#659dcb" stroke="#1c2733" stroke-width="0.9"/>
<circle cx="334.10" cy="204.56" r="2.4" fill="#659dcb" stroke="#1c2733" stroke-width="0.9"/>
<circle cx="339.90" cy="206.82" r="2.4" fill="#659dcb" stroke="#1c2733" stroke-width="0.9"/>
<circle cx="326.32" cy="201.59" r="2.4" fill="#659dcb" stroke="#1c2733" stroke-width="0.9"/>
<circle cx="331.92" cy="200.73" r="2.4" fill="#659dcb" stroke="#1c2733" stroke-width="0.9"/>
<circle cx="337.37" cy="202.71" r="2.4" fill="#659dcb" stroke="#1c2733" stroke-width="0.9"/>
<circle cx="342.85" cy="199.31" r="2.4" fill="#659dcb" stroke="#1c2733" stroke-width="0.9"/>
<circle cx="326.19" cy="196.58" r="2.4" fill="#659dcb" stroke="#1c2733" stroke-width="0.9"/>
<circle cx="331.87" cy="197.84" r="2.4" fill="#659dcb" stroke="#1c2733" stroke-width="0.9"/>
<circle cx="337.07" cy="195.17" r="2.4" fill="#659dcb" stroke="#1c2733" stroke-width="0.9"/>
<circle cx="329.04" cy="193.71" r="2.4" fill="#659dcb" stroke="#1c2733" stroke-width="0.9"/>
<circle cx="334.19" cy="192.38" r="2.4" fill="#659dcb" stroke="#1c2733" stroke-width="0.9"/>
<circle cx="331.45" cy="185.08" r="2.4" fill="#659dcb" stroke="#1c2733" stroke-width="0.9"/>
<circle cx="327.36" cy="170.02" r="2.4" fill="#659dcb" stroke="#1c2733" stroke-width="0.9"/>
<circle cx="331.55" cy="171.76" r="2.4" fill="#659dcb" stroke="#1c2733" stroke-width="0.9"/>
<circle cx="335.55" cy="167.78" r="2.4" fill="#659dcb" stroke="#1c2733" stroke-width="0.9"/>
<circle cx="331.95" cy="166.68" r="2.4" fill="#659dcb" stroke="#1c2733" stroke-width="0.9"/>
<circle cx="331.95" cy="155.46" r="2.4" fill="#659dcb" stroke="#1c2733" stroke-width="0.9"/>
<circle cx="328.60" cy="144.76" r="2.4" fill="#659dcb" stroke="#1c2733" stroke-width="0.9"/>
<circle cx="334.88" cy="146.99" r="2.4" fill="#659dcb" stroke="#1c2733" stroke-width="0.9"/>
<circle cx="332.14" cy="142.53" r="2.4" fill="#659dcb" stroke="#1c2733" stroke-width="0.9"/>
<circle cx="331.34" cy="119.48" r="2.4" fill="#659dcb" stroke="#1c2733" stroke-width="0.9"/>
<circle cx="370.13" cy="254.90" r="2.4" fill="#e8d77a" stroke="#33301c" stroke-width="0.9"/>
<circle cx="370.83" cy="255.27" r="2.4" fill="#e8d77a" stroke="#33301c" stroke-width="0.9"/>
<circle cx="371.40" cy="253.76" r="2.4" fill="#e8d77a" stroke="#33301c" stroke-width="0.9"/>
<circle cx="372.39" cy="253.03" r="2.4" fill="#e8d77a" stroke="#33301c" stroke-width="0.9"/>
<circle cx="373.61" cy="255.51" r="2.4" fill="#e8d77a" stroke="#33301c" stroke-width="0.9"/>
<circle cx="374.82" cy="252.77" r="2.4" fill="#e8d77a" stroke="#33301c" stroke-width="0.9"/>
<circle cx="375.29" cy="254.37" r="2.4" fill="#e8d77a" stroke="#33301c" stroke-width="0.9"/>
<circle cx="376.02" cy="252.55" r="2.4" fill="#e8d77a" stroke="#33301c" stroke-width="0.9"/>
<circle cx="377.65" cy="256.17" r="2.4" fill="#e8d77a" stroke="#33301c" stroke-width="0.9"/>
<circle cx="378.09" cy="256.41" r="2.4" fill="#e8d77a" stroke="#33301c" stroke-width="0.9"/>
<circle cx="379.12" cy="255.87" r="2.4" fill="#e8d77a" stroke="#33301c" stroke-width="0.9"/>
<circle cx="380.07" cy="253.34" r="2.4" fill="#e8d77a" stroke="#33301c" stroke-width="0.9"/>
<circle cx="380.61" cy="254.59" r="2.4" fill="#e8d77a" stroke="#33301c" stroke-width="0.9"/>
<circle cx="381.67" cy="253.96" r="2.4" fill="#e8d77a" stroke="#33301c" stroke-width="0.9"/>
<circle cx="365.86" cy="251.45" r="2.4" fill="#e8d77a" stroke="#33301c" stroke-width="0.9"/>
<circle cx="367.21" cy="252.00" r="2.4" fill="#e8d77a" stroke="#33301c" stroke-width="0.9"/>
<circle cx="368.85" cy="249.77" r="2.4" fill="#e8d77a" stroke="#33301c" stroke-width="0.9"/>
<circle cx="369.40" cy="249.22" r="2.4" fill="#e8d77a" stroke="#33301c" stroke-width="0.9"/>
<circle cx="371.63" cy="252.15" r="2.4" fill="#e8d77a" stroke="#33301c" stroke-width="0.9"/>
<circle cx="372.60" cy="250.35" r="2.4" fill="#e8d77a" stroke="#33301c" stroke-width="0.9"/>
<circle cx="373.69" cy="250.06" r="2.4" fill="#e8d77a" stroke="#33301c" stroke-width="0.9"/>
<circle cx="375.43" cy="248.99" r="2.4" fill="#e8d77a" stroke="#33301c" stroke-width="0.9"/>
<circle cx="376.23" cy="248.73" r="2.4" fill="#e8d77a" stroke="#33301c" stroke-width="0.9"/>
<circle cx="378.29" cy="250.84" r="2.4" fill="#e8d77a" stroke="#33301c" stroke-width="0.9"/>
<circle cx="379.21" cy="251.10" r="2.4" fill="#e8d77a" stroke="#33301c" stroke-width="0.9"/>
<circle cx="380.33" cy="249.53" r="2.4" fill="#e8d77a" stroke="#33301c" stroke-width="0.9"/>
<circle cx="382.06" cy="248.52" r="2.4" fill="#e8d77a" stroke="#33301c" stroke-width="0.9"/>
<circle cx="383.08" cy="248.16" r="2.4" fill="#e8d77a" stroke="#33301c" stroke-width="0.9"/>
<circle cx="384.14" cy="251.60" r="2.4" fill="#e8d77a" stroke="#33301c" stroke-width="0.9"/>
<circle cx="386.04" cy="250.57" r="2.4" fill="#e8d77a" stroke="#33301c" stroke-width="0.9"/>
<circle cx="365.81" cy="246.22" r="2.4" fill="#e8d77a" stroke="#33301c" stroke-width="0.9"/>
<circle cx="367.62" cy="247.34" r="2.4" fill="#e8d77a" stroke="#33301c" stroke-width="0.9"/>
<circle cx="368.29" cy="247.07" r="2.4" fill="#e8d77a" stroke="#33301c" stroke-width="0.9"/>
<circle cx="369.81" cy="245.19" r="2.4" fill="#e8d77a" stroke="#33301c" stroke-width="0.9"/>
<circle cx="371.67" cy="247.69" r="2.4" fill="#e8d77a" stroke="#33301c" stroke-width="0.9"/>
<circle cx="372.47" cy="246.02" r="2.4" fill="#e8d77a" stroke="#33301c" stroke-width="0.9"/>
<circle cx="373.87" cy="244.59" r="2.4" fill="#e8d77a" stroke="#33301c" stroke-width="0.9"/>
<circle cx="375.65" cy="244.10" r="2.4" fill="#e8d77a" stroke="#33301c" stroke-width="0.9"/>
<circle cx="376.83" cy="246.63" r="2.4" fill="#e8d77a" stroke="#33301c" stroke-width="0.9"/>
<circle cx="378.51" cy="245.38" r="2.4" fill="#e8d77a" stroke="#33301c" stroke-width="0.9"/>
<circle cx="379.81" cy="244.82" r="2.4" fill="#e8d77a" stroke="#33301c" stroke-width="0.9"/>
<circle cx="381.60" cy="244.27" r="2.4" fill="#e8d77a" stroke="#33301c" stroke-width="0.9"/>
<circle cx="383.03" cy="245.81" r="2.4" fill="#e8d77a" stroke="#33301c" stroke-width="0.9"/>
<circle cx="384.08" cy="246.85" r="2.4" fill="#e8d77a" stroke="#33301c" stroke-width="0.9"/>
<circle cx="385.92" cy="247.92" r="2.4" fill="#e8d77a" stroke="#33301c" stroke-width="0.9"/>
<circle cx="363.06" cy="242.12" r="2.4" fill="#e8d77a" stroke="#33301c" stroke-width="0.9"/>
<circle cx="365.58" cy="241.01" r="2.4" fill="#e8d77a" stroke="#33301c" stroke-width="0.9"/>
<circle cx="367.41" cy="242.58" r="2.4" fill="#e8d77a" stroke="#33301c" stroke-width="0.9"/>
<circle cx="368.87" cy="241.24" r="2.4" fill="#e8d77a" stroke="#33301c" stroke-width="0.9"/>
<circle cx="370.61" cy="241.50" r="2.4" fill="#e8d77a" stroke="#33301c" stroke-width="0.9"/>
<circle cx="372.39" cy="242.41" r="2.4" fill="#e8d77a" stroke="#33301c" stroke-width="0.9"/>
<circle cx="374.06" cy="240.70" r="2.4" fill="#e8d77a" stroke="#33301c" stroke-width="0.9"/>
<circle cx="375.79" cy="243.53" r="2.4" fill="#e8d77a" stroke="#33301c" stroke-width="0.9"/>
<circle cx="377.22" cy="239.89" r="2.4" fill="#e8d77a" stroke="#33301c" stroke-width="0.9"/>
<circle cx="378.81" cy="240.34" r="2.4" fill="#e8d77a" stroke="#33301c" stroke-width="0.9"/>
<circle cx="380.63" cy="242.86" r="2.4" fill="#e8d77a" stroke="#33301c" stroke-width="0.9"/>
<circle cx="382.35" cy="243.72" r="2.4" fill="#e8d77a" stroke="#33301c" stroke-width="0.9"/>
<circle cx="384.27" cy="240.03" r="2.4" fill="#e8d77a" stroke="#33301c" stroke-width="0.9"/>
<circle cx="386.00" cy="243.22" r="2.4" fill="#e8d77a" stroke="#33301c" stroke-width="0.9"/>
<circle cx="388.51" cy="241.81" r="2.4" fill="#e8d77a" stroke="#33301c" stroke-width="0.9"/>
<circle cx="363.06" cy="237.95" r="2.4" fill="#e8d77a" stroke="#33301c" stroke-width="0.9"/>
<circle cx="366.36" cy="236.24" r="2.4" fill="#e8d77a" stroke="#33301c" stroke-width="0.9"/>
<circle cx="369.46" cy="238.78" r="2.4" fill="#e8d77a" stroke="#33301c" stroke-width="0.9"/>
<circle cx="371.92" cy="237.36" r="2.4" fill="#e8d77a" stroke="#33301c" stroke-width="0.9"/>
<circle cx="374.41" cy="237.10" r="2.4" fill="#e8d77a" stroke="#33301c" stroke-width="0.9"/>
<circle cx="377.21" cy="236.61" r="2.4" fill="#e8d77a" stroke="#33301c" stroke-width="0.9"/>
<circle cx="379.78" cy="235.80" r="2.4" fill="#e8d77a" stroke="#33301c" stroke-width="0.9"/>
<circle cx="382.57" cy="238.38" r="2.4" fill="#e8d77a" stroke="#33301c" stroke-width="0.9"/>
<circle cx="385.78" cy="239.52" r="2.4" fill="#e8d77a" stroke="#33301c" stroke-width="0.9"/>
<circle cx="387.68" cy="239.13" r="2.4" fill="#e8d77a" stroke="#33301c" stroke-width="0.9"/>
<circle cx="363.71" cy="233.30" r="2.4" fill="#e8d77a" stroke="#33301c" stroke-width="0.9"/>
<circle cx="366.00" cy="233.59" r="2.4" fill="#e8d77a" stroke="#33301c" stroke-width="0.9"/>
<circle cx="369.02" cy="231.44" r="2.4" fill="#e8d77a" stroke="#33301c" stroke-width="0.9"/>
<circle cx="371.64" cy="232.92" r="2.4" fill="#e8d77a" stroke="#33301c" stroke-width="0.9"/>
<circle cx="374.72" cy="234.80" r="2.4" fill="#e8d77a" stroke="#33301c" stroke-width="0.9"/>
<circle cx="377.19" cy="231.97" r="2.4" fill="#e8d77a" stroke="#33301c" stroke-width="0.9"/>
<circle cx="379.67" cy="235.26" r="2.4" fill="#e8d77a" stroke="#33301c" stroke-width="0.9"/>
<circle cx="382.78" cy="234.15" r="2.4" fill="#e8d77a" stroke="#33301c" stroke-width="0.9"/>
<circle cx="385.83" cy="234.53" r="2.4" fill="#e8d77a" stroke="#33301c" stroke-width="0.9"/>
<circle cx="387.82" cy="232.27" r="2.4" fill="#e8d77a" stroke="#33301c" stroke-width="0.9"/>
<circle cx="363.88" cy="227.23" r="2.4" fill="#e8d77a" stroke="#33301c" stroke-width="0.9"/>
<circle cx="366.06" cy="229.90" r="2.4" fill="#e8d77a" stroke="#33301c" stroke-width="0.9"/>
<circle cx="368.71" cy="228.51" r="2.4" fill="#e8d77a" stroke="#33301c" stroke-width="0.9"/>
<circle cx="372.11" cy="229.52" r="2.4" fill="#e8d77a" stroke="#33301c" stroke-width="0.9"/>
<circle cx="374.56" cy="228.95" r="2.4" fill="#e8d77a" stroke="#33301c" stroke-width="0.9"/>
<circle cx="377.36" cy="230.57" r="2.4" fill="#e8d77a" stroke="#33301c" stroke-width="0.9"/>
<circle cx="380.07" cy="228.01" r="2.4" fill="#e8d77a" stroke="#33301c" stroke-width="0.9"/>
<circle cx="383.11" cy="230.25" r="2.4" fill="#e8d77a" stroke="#33301c" stroke-width="0.9"/>
<circle cx="385.34" cy="231.12" r="2.4" fill="#e8d77a" stroke="#33301c" stroke-width="0.9"/>
<circle cx="388.44" cy="227.80" r="2.4" fill="#e8d77a" stroke="#33301c" stroke-width="0.9"/>
<circle cx="363.57" cy="225.62" r="2.4" fill="#e8d77a" stroke="#33301c" stroke-width="0.9"/>
<circle cx="365.90" cy="223.87" r="2.4" fill="#e8d77a" stroke="#33301c" stroke-width="0.9"/>
<circle cx="368.50" cy="223.36" r="2.4" fill="#e8d77a" stroke="#33301c" stroke-width="0.9"/>
<circle cx="371.31" cy="226.08" r="2.4" fill="#e8d77a" stroke="#33301c" stroke-width="0.9"/>
<circle cx="374.56" cy="225.13" r="2.4" fill="#e8d77a" stroke="#33301c" stroke-width="0.9"/>
<circle cx="376.83" cy="226.41" r="2.4" fill="#e8d77a" stroke="#33301c" stroke-width="0.9"/>
<circle cx="380.38" cy="224.60" r="2.4" fill="#e8d77a" stroke="#33301c" stroke-width="0.9"/>
<circle cx="382.83" cy="224.39" r="2.4" fill="#e8d77a" stroke="#33301c" stroke-width="0.9"/>
<circle cx="384.90" cy="222.89" r="2.4" fill="#e8d77a" stroke="#33301c" stroke-width="0.9"/>
<circle cx="387.74" cy="226.87" r="2.4" fill="#e8d77a" stroke="#33301c" stroke-width="0.9"/>
<circle cx="365.41" cy="221.27" r="2.4" fill="#e8d77a" stroke="#33301c" stroke-width="0.9"/>
<circle cx="367.73" cy="220.10" r="2.4" fill="#e8d77a" stroke="#33301c" stroke-width="0.9"/>
<circle cx="369.86" cy="220.49" r="2.4" fill="#e8d77a" stroke="#33301c" stroke-width="0.9"/>
<circle cx="372.00" cy="219.03" r="2.4" fill="#e8d77a" stroke="#33301c" stroke-width="0.9"/>
<circle cx="375.04" cy="221.62" r="2.4" fill="#e8d77a" stroke="#33301c" stroke-width="0.9"/>
<circle cx="377.22" cy="220.82" r="2.4" fill="#e8d77a" stroke="#33301c" stroke-width="0.9"/>
<circle cx="379.27" cy="219.57" r="2.4" fill="#e8d77a" stroke="#33301c" stroke-width="0.9"/>
<circle cx="381.68" cy="218.72" r="2.4" fill="#e8d77a" stroke="#33301c" stroke-width="0.9"/>
<circle cx="383.71" cy="222.26" r="2.4" fill="#e8d77a" stroke="#33301c" stroke-width="0.9"/>
<circle cx="385.59" cy="222.66" r="2.4" fill="#e8d77a" stroke="#33301c" stroke-width="0.9"/>
<circle cx="365.56" cy="218.24" r="2.4" fill="#e8d77a" stroke="#33301c" stroke-width="0.9"/>
<circle cx="367.87" cy="216.85" r="2.4" fill="#e8d77a" stroke="#33301c" stroke-width="0.9"/>
<circle cx="370.67" cy="216.53" r="2.4" fill="#e8d77a" stroke="#33301c" stroke-width="0.9"/>
<circle cx="372.02" cy="214.60" r="2.4" fill="#e8d77a" stroke="#33301c" stroke-width="0.9"/>
<circle cx="374.95" cy="215.07" r="2.4" fill="#e8d77a" stroke="#33301c" stroke-width="0.9"/>
<circle cx="377.32" cy="216.08" r="2.4" fill="#e8d77a" stroke="#33301c" stroke-width="0.9"/>
<circle cx="379.40" cy="215.56" r="2.4" fill="#e8d77a" stroke="#33301c" stroke-width="0.9"/>
<circle cx="381.46" cy="214.30" r="2.4" fill="#e8d77a" stroke="#33301c" stroke-width="0.9"/>
<circle cx="383.55" cy="217.23" r="2.4" fill="#e8d77a" stroke="#33301c" stroke-width="0.9"/>
<circle cx="385.59" cy="217.83" r="2.4" fill="#e8d77a" stroke="#33301c" stroke-width="0.9"/>
<circle cx="368.65" cy="212.47" r="2.4" fill="#e8d77a" stroke="#33301c" stroke-width="0.9"/>
<circle cx="371.80" cy="213.16" r="2.4" fill="#e8d77a" stroke="#33301c" stroke-width="0.9"/>
<circle cx="374.44" cy="210.58" r="2.4" fill="#e8d77a" stroke="#33301c" stroke-width="0.9"/>
<circle cx="376.92" cy="211.44" r="2.4" fill="#e8d77a" stroke="#33301c" stroke-width="0.9"/>
<circle cx="380.36" cy="213.84" r="2.4" fill="#e8d77a" stroke="#33301c" stroke-width="0.9"/>
<circle cx="382.39" cy="210.19" r="2.4" fill="#e8d77a" stroke="#33301c" stroke-width="0.9"/>
<circle cx="369.06" cy="206.25" r="2.4" fill="#e8d77a" stroke="#33301c" stroke-width="0.9"/>
<circle cx="372.08" cy="205.44" r="2.4" fill="#e8d77a" stroke="#33301c" stroke-width="0.9"/>
<circle cx="373.90" cy="209.17" r="2.4" fill="#e8d77a" stroke="#33301c" stroke-width="0.9"/>
<circle cx="377.19" cy="206.93" r="2.4" fill="#e8d77a" stroke="#33301c" stroke-width="0.9"/>
<circle cx="379.99" cy="208.38" r="2.4" fill="#e8d77a" stroke="#33301c" stroke-width="0.9"/>
<circle cx="383.10" cy="207.78" r="2.4" fill="#e8d77a" stroke="#33301c" stroke-width="0.9"/>
<circle cx="373.26" cy="202.18" r="2.4" fill="#e8d77a" stroke="#33301c" stroke-width="0.9"/>
<circle cx="375.82" cy="203.55" r="2.4" fill="#e8d77a" stroke="#33301c" stroke-width="0.9"/>
<circle cx="378.88" cy="204.63" r="2.4" fill="#e8d77a" stroke="#33301c" stroke-width="0.9"/>
<circle cx="373.24" cy="197.17" r="2.4" fill="#e8d77a" stroke="#33301c" stroke-width="0.9"/>
<circle cx="375.53" cy="198.34" r="2.4" fill="#e8d77a" stroke="#33301c" stroke-width="0.9"/>
<circle cx="378.47" cy="200.59" r="2.4" fill="#e8d77a" stroke="#33301c" stroke-width="0.9"/>
<circle cx="373.09" cy="194.31" r="2.4" fill="#e8d77a" stroke="#33301c" stroke-width="0.9"/>
<circle cx="376.00" cy="195.32" r="2.4" fill="#e8d77a" stroke="#33301c" stroke-width="0.9"/>
<circle cx="379.09" cy="192.33" r="2.4" fill="#e8d77a" stroke="#33301c" stroke-width="0.9"/>
<circle cx="375.66" cy="186.49" r="2.4" fill="#e8d77a" stroke="#33301c" stroke-width="0.9"/>
<circle cx="372.72" cy="173.56" r="2.4" fill="#e8d77a" stroke="#33301c" stroke-width="0.9"/>
<circle cx="375.95" cy="171.44" r="2.4" fill="#e8d77a" stroke="#33301c" stroke-width="0.9"/>
<circle cx="378.67" cy="172.50" r="2.4" fill="#e8d77a" stroke="#33301c" stroke-width="0.9"/>
<circle cx="375.56" cy="160.39" r="2.4" fill="#e8d77a" stroke="#33301c" stroke-width="0.9"/>
<circle cx="375.68" cy="144.64" r="2.4" fill="#e8d77a" stroke="#33301c" stroke-width="0.9"/>
<circle cx="372.43" cy="133.59" r="2.4" fill="#e8d77a" stroke="#33301c" stroke-width="0.9"/>
<circle cx="375.89" cy="135.24" r="2.4" fill="#e8d77a" stroke="#33301c" stroke-width="0.9"/>
<circle cx="378.99" cy="131.95" r="2.4" fill="#e8d77a" stroke="#33301c" stroke-width="0.9"/>
<circle cx="375.65" cy="79.75" r="2.4" fill="#e8d77a" stroke="#33301c" stroke-width="0.9"/>
<circle cx="407.50" cy="253.20" r="2.4" fill="#d5706a" stroke="#38201d" stroke-width="0.9"/>
<circle cx="410.37" cy="254.30" r="2.4" fill="#d5706a" stroke="#38201d" stroke-width="0.9"/>
<circle cx="412.93" cy="251.55" r="2.4" fill="#d5706a" stroke="#38201d" stroke-width="0.9"/>
<circle cx="415.34" cy="251.88" r="2.4" fill="#d5706a" stroke="#38201d" stroke-width="0.9"/>
<circle cx="418.54" cy="255.25" r="2.4" fill="#d5706a" stroke="#38201d" stroke-width="0.9"/>
<circle cx="421.07" cy="252.77" r="2.4" fill="#d5706a" stroke="#38201d" stroke-width="0.9"/>
<circle cx="424.14" cy="252.34" r="2.4" fill="#d5706a" stroke="#38201d" stroke-width="0.9"/>
<circle cx="427.04" cy="253.85" r="2.4" fill="#d5706a" stroke="#38201d" stroke-width="0.9"/>
<circle cx="429.30" cy="253.61" r="2.4" fill="#d5706a" stroke="#38201d" stroke-width="0.9"/>
<circle cx="432.17" cy="254.81" r="2.4" fill="#d5706a" stroke="#38201d" stroke-width="0.9"/>
<circle cx="407.63" cy="249.51" r="2.4" fill="#d5706a" stroke="#38201d" stroke-width="0.9"/>
<circle cx="409.83" cy="250.12" r="2.4" fill="#d5706a" stroke="#38201d" stroke-width="0.9"/>
<circle cx="412.89" cy="247.28" r="2.4" fill="#d5706a" stroke="#38201d" stroke-width="0.9"/>
<circle cx="415.98" cy="248.21" r="2.4" fill="#d5706a" stroke="#38201d" stroke-width="0.9"/>
<circle cx="418.65" cy="251.10" r="2.4" fill="#d5706a" stroke="#38201d" stroke-width="0.9"/>
<circle cx="421.30" cy="250.72" r="2.4" fill="#d5706a" stroke="#38201d" stroke-width="0.9"/>
<circle cx="423.65" cy="248.89" r="2.4" fill="#d5706a" stroke="#38201d" stroke-width="0.9"/>
<circle cx="426.56" cy="247.65" r="2.4" fill="#d5706a" stroke="#38201d" stroke-width="0.9"/>
<circle cx="429.32" cy="249.77" r="2.4" fill="#d5706a" stroke="#38201d" stroke-width="0.9"/>
<circle cx="432.22" cy="248.69" r="2.4" fill="#d5706a" stroke="#38201d" stroke-width="0.9"/>
<circle cx="411.69" cy="246.89" r="2.4" fill="#d5706a" stroke="#38201d" stroke-width="0.9"/>
<circle cx="414.99" cy="243.94" r="2.4" fill="#d5706a" stroke="#38201d" stroke-width="0.9"/>
<circle cx="418.67" cy="246.20" r="2.4" fill="#d5706a" stroke="#38201d" stroke-width="0.9"/>
<circle cx="420.94" cy="246.55" r="2.4" fill="#d5706a" stroke="#38201d" stroke-width="0.9"/>
<circle cx="424.64" cy="244.73" r="2.4" fill="#d5706a" stroke="#38201d" stroke-width="0.9"/>
<circle cx="427.46" cy="245.68" r="2.4" fill="#d5706a" stroke="#38201d" stroke-width="0.9"/>
<circle cx="412.15" cy="242.54" r="2.4" fill="#d5706a" stroke="#38201d" stroke-width="0.9"/>
<circle cx="417.09" cy="239.16" r="2.4" fill="#d5706a" stroke="#38201d" stroke-width="0.9"/>
<circle cx="422.17" cy="240.04" r="2.4" fill="#d5706a" stroke="#38201d" stroke-width="0.9"/>
<circle cx="427.78" cy="241.10" r="2.4" fill="#d5706a" stroke="#38201d" stroke-width="0.9"/>
<circle cx="414.71" cy="234.25" r="2.4" fill="#d5706a" stroke="#38201d" stroke-width="0.9"/>
<circle cx="418.58" cy="236.21" r="2.4" fill="#d5706a" stroke="#38201d" stroke-width="0.9"/>
<circle cx="421.18" cy="235.48" r="2.4" fill="#d5706a" stroke="#38201d" stroke-width="0.9"/>
<circle cx="424.98" cy="237.72" r="2.4" fill="#d5706a" stroke="#38201d" stroke-width="0.9"/>
<circle cx="414.94" cy="230.67" r="2.4" fill="#d5706a" stroke="#38201d" stroke-width="0.9"/>
<circle cx="419.55" cy="233.24" r="2.4" fill="#d5706a" stroke="#38201d" stroke-width="0.9"/>
<circle cx="424.68" cy="231.67" r="2.4" fill="#d5706a" stroke="#38201d" stroke-width="0.9"/>
<circle cx="419.31" cy="223.40" r="2.4" fill="#d5706a" stroke="#38201d" stroke-width="0.9"/>
<circle cx="417.23" cy="210.71" r="2.4" fill="#d5706a" stroke="#38201d" stroke-width="0.9"/>
<circle cx="422.67" cy="208.59" r="2.4" fill="#d5706a" stroke="#38201d" stroke-width="0.9"/>
<circle cx="419.41" cy="206.48" r="2.4" fill="#d5706a" stroke="#38201d" stroke-width="0.9"/>
<circle cx="420.04" cy="195.43" r="2.4" fill="#d5706a" stroke="#38201d" stroke-width="0.9"/>
<circle cx="420.29" cy="190.96" r="2.4" fill="#d5706a" stroke="#38201d" stroke-width="0.9"/>
<line x1="317.30" y1="221.99" x2="346.30" y2="221.99" stroke="#000" stroke-width="2.2" stroke-linecap="butt"/>
<line x1="361.30" y1="231.87" x2="390.30" y2="231.87" stroke="#000" stroke-width="2.2" stroke-linecap="butt"/>
<line x1="405.30" y1="247.15" x2="434.30" y2="247.15" stroke="#000" stroke-width="2.2" stroke-linecap="butt"/>
<line x1="302.30" y1="46.60" x2="302.30" y2="259.20" stroke="#000" stroke-width="2.2" stroke-linecap="butt"/>
<line x1="293.30" y1="258.20" x2="451.00" y2="258.20" stroke="#000" stroke-width="2.2" stroke-linecap="butt"/>
<line x1="293.30" y1="258.20" x2="302.30" y2="258.20" stroke="#000" stroke-width="2.2" stroke-linecap="butt"/>
<text x="290.90" y="263.40" font-size="14.5" font-weight="bold" text-anchor="end" fill="#000" >0</text>
<line x1="293.30" y1="187.67" x2="302.30" y2="187.67" stroke="#000" stroke-width="2.2" stroke-linecap="butt"/>
<text x="290.90" y="192.87" font-size="14.5" font-weight="bold" text-anchor="end" fill="#000" >30</text>
<line x1="293.30" y1="117.13" x2="302.30" y2="117.13" stroke="#000" stroke-width="2.2" stroke-linecap="butt"/>
<text x="290.90" y="122.33" font-size="14.5" font-weight="bold" text-anchor="end" fill="#000" >60</text>
<line x1="293.30" y1="46.60" x2="302.30" y2="46.60" stroke="#000" stroke-width="2.2" stroke-linecap="butt"/>
<text x="290.90" y="51.80" font-size="14.5" font-weight="bold" text-anchor="end" fill="#000" >90</text>
<line x1="331.80" y1="258.20" x2="331.80" y2="267.70" stroke="#000" stroke-width="2.2" stroke-linecap="butt"/>
<text x="331.80" y="283.50" font-size="14.5" font-weight="bold" text-anchor="middle" fill="#000" >CR</text>
<line x1="375.80" y1="258.20" x2="375.80" y2="267.70" stroke="#000" stroke-width="2.2" stroke-linecap="butt"/>
<text x="375.80" y="283.50" font-size="14.5" font-weight="bold" text-anchor="middle" fill="#000" >PR</text>
<line x1="419.80" y1="258.20" x2="419.80" y2="267.70" stroke="#000" stroke-width="2.2" stroke-linecap="butt"/>
<text x="419.80" y="283.50" font-size="14.5" font-weight="bold" text-anchor="middle" fill="#000" >MR</text>
<text transform="translate(255.00,151.20) rotate(-90)" font-size="14.8" font-weight="bold" text-anchor="middle">[<tspan font-size="11" dy="-5.8">68</tspan><tspan dy="5.8">Ga]Ga-PSMA-11 SUV</tspan><tspan font-size="11" dy="3.4">mean</tspan></text>
<path d="M333.30,61.70 V59.20 H376.50 V61.70" fill="none" stroke="#222" stroke-width="1.2"/>
<text x="354.90" y="57.40" font-size="10.4" font-weight="normal" text-anchor="middle" fill="#222" >P=0.017</text>
<path d="M375.70,45.60 V43.10 H418.40 V45.60" fill="none" stroke="#222" stroke-width="1.2"/>
<text x="397.05" y="41.30" font-size="10.4" font-weight="normal" text-anchor="middle" fill="#222" >P&lt;0.001</text>
<circle cx="556.18" cy="253.85" r="2.4" fill="#659dcb" stroke="#1c2733" stroke-width="0.9"/>
<circle cx="561.01" cy="253.15" r="2.4" fill="#659dcb" stroke="#1c2733" stroke-width="0.9"/>
<circle cx="566.60" cy="256.13" r="2.4" fill="#659dcb" stroke="#1c2733" stroke-width="0.9"/>
<circle cx="572.13" cy="254.98" r="2.4" fill="#659dcb" stroke="#1c2733" stroke-width="0.9"/>
<circle cx="553.19" cy="248.79" r="2.4" fill="#659dcb" stroke="#1c2733" stroke-width="0.9"/>
<circle cx="558.31" cy="251.02" r="2.4" fill="#659dcb" stroke="#1c2733" stroke-width="0.9"/>
<circle cx="563.58" cy="249.89" r="2.4" fill="#659dcb" stroke="#1c2733" stroke-width="0.9"/>
<circle cx="569.74" cy="251.60" r="2.4" fill="#659dcb" stroke="#1c2733" stroke-width="0.9"/>
<circle cx="574.97" cy="247.94" r="2.4" fill="#659dcb" stroke="#1c2733" stroke-width="0.9"/>
<circle cx="555.82" cy="245.71" r="2.4" fill="#659dcb" stroke="#1c2733" stroke-width="0.9"/>
<circle cx="561.63" cy="243.50" r="2.4" fill="#659dcb" stroke="#1c2733" stroke-width="0.9"/>
<circle cx="566.67" cy="244.28" r="2.4" fill="#659dcb" stroke="#1c2733" stroke-width="0.9"/>
<circle cx="572.16" cy="246.60" r="2.4" fill="#659dcb" stroke="#1c2733" stroke-width="0.9"/>
<circle cx="553.20" cy="240.29" r="2.4" fill="#659dcb" stroke="#1c2733" stroke-width="0.9"/>
<circle cx="558.64" cy="241.38" r="2.4" fill="#659dcb" stroke="#1c2733" stroke-width="0.9"/>
<circle cx="564.36" cy="242.57" r="2.4" fill="#659dcb" stroke="#1c2733" stroke-width="0.9"/>
<circle cx="568.91" cy="238.57" r="2.4" fill="#659dcb" stroke="#1c2733" stroke-width="0.9"/>
<circle cx="575.14" cy="239.53" r="2.4" fill="#659dcb" stroke="#1c2733" stroke-width="0.9"/>
<circle cx="556.24" cy="237.39" r="2.4" fill="#659dcb" stroke="#1c2733" stroke-width="0.9"/>
<circle cx="561.17" cy="236.16" r="2.4" fill="#659dcb" stroke="#1c2733" stroke-width="0.9"/>
<circle cx="566.62" cy="235.13" r="2.4" fill="#659dcb" stroke="#1c2733" stroke-width="0.9"/>
<circle cx="572.56" cy="233.79" r="2.4" fill="#659dcb" stroke="#1c2733" stroke-width="0.9"/>
<circle cx="558.12" cy="230.66" r="2.4" fill="#659dcb" stroke="#1c2733" stroke-width="0.9"/>
<circle cx="563.55" cy="231.83" r="2.4" fill="#659dcb" stroke="#1c2733" stroke-width="0.9"/>
<circle cx="569.64" cy="229.77" r="2.4" fill="#659dcb" stroke="#1c2733" stroke-width="0.9"/>
<circle cx="575.30" cy="232.85" r="2.4" fill="#659dcb" stroke="#1c2733" stroke-width="0.9"/>
<circle cx="556.16" cy="225.26" r="2.4" fill="#659dcb" stroke="#1c2733" stroke-width="0.9"/>
<circle cx="560.94" cy="227.74" r="2.4" fill="#659dcb" stroke="#1c2733" stroke-width="0.9"/>
<circle cx="566.41" cy="226.34" r="2.4" fill="#659dcb" stroke="#1c2733" stroke-width="0.9"/>
<circle cx="572.02" cy="228.47" r="2.4" fill="#659dcb" stroke="#1c2733" stroke-width="0.9"/>
<circle cx="553.04" cy="222.12" r="2.4" fill="#659dcb" stroke="#1c2733" stroke-width="0.9"/>
<circle cx="558.88" cy="223.97" r="2.4" fill="#659dcb" stroke="#1c2733" stroke-width="0.9"/>
<circle cx="564.05" cy="220.82" r="2.4" fill="#659dcb" stroke="#1c2733" stroke-width="0.9"/>
<circle cx="569.81" cy="223.08" r="2.4" fill="#659dcb" stroke="#1c2733" stroke-width="0.9"/>
<circle cx="555.65" cy="219.73" r="2.4" fill="#659dcb" stroke="#1c2733" stroke-width="0.9"/>
<circle cx="560.85" cy="216.29" r="2.4" fill="#659dcb" stroke="#1c2733" stroke-width="0.9"/>
<circle cx="566.49" cy="218.93" r="2.4" fill="#659dcb" stroke="#1c2733" stroke-width="0.9"/>
<circle cx="571.96" cy="217.64" r="2.4" fill="#659dcb" stroke="#1c2733" stroke-width="0.9"/>
<circle cx="556.27" cy="215.47" r="2.4" fill="#659dcb" stroke="#1c2733" stroke-width="0.9"/>
<circle cx="561.14" cy="212.82" r="2.4" fill="#659dcb" stroke="#1c2733" stroke-width="0.9"/>
<circle cx="566.40" cy="214.52" r="2.4" fill="#659dcb" stroke="#1c2733" stroke-width="0.9"/>
<circle cx="572.09" cy="212.26" r="2.4" fill="#659dcb" stroke="#1c2733" stroke-width="0.9"/>
<circle cx="556.11" cy="208.36" r="2.4" fill="#659dcb" stroke="#1c2733" stroke-width="0.9"/>
<circle cx="560.93" cy="207.14" r="2.4" fill="#659dcb" stroke="#1c2733" stroke-width="0.9"/>
<circle cx="567.17" cy="209.84" r="2.4" fill="#659dcb" stroke="#1c2733" stroke-width="0.9"/>
<circle cx="571.69" cy="210.58" r="2.4" fill="#659dcb" stroke="#1c2733" stroke-width="0.9"/>
<circle cx="555.80" cy="202.41" r="2.4" fill="#659dcb" stroke="#1c2733" stroke-width="0.9"/>
<circle cx="560.91" cy="203.69" r="2.4" fill="#659dcb" stroke="#1c2733" stroke-width="0.9"/>
<circle cx="566.25" cy="205.22" r="2.4" fill="#659dcb" stroke="#1c2733" stroke-width="0.9"/>
<circle cx="572.42" cy="205.91" r="2.4" fill="#659dcb" stroke="#1c2733" stroke-width="0.9"/>
<circle cx="561.59" cy="201.27" r="2.4" fill="#659dcb" stroke="#1c2733" stroke-width="0.9"/>
<circle cx="567.11" cy="200.37" r="2.4" fill="#659dcb" stroke="#1c2733" stroke-width="0.9"/>
<circle cx="559.13" cy="195.32" r="2.4" fill="#659dcb" stroke="#1c2733" stroke-width="0.9"/>
<circle cx="564.20" cy="193.64" r="2.4" fill="#659dcb" stroke="#1c2733" stroke-width="0.9"/>
<circle cx="569.10" cy="191.97" r="2.4" fill="#659dcb" stroke="#1c2733" stroke-width="0.9"/>
<circle cx="560.84" cy="176.80" r="2.4" fill="#659dcb" stroke="#1c2733" stroke-width="0.9"/>
<circle cx="566.83" cy="178.21" r="2.4" fill="#659dcb" stroke="#1c2733" stroke-width="0.9"/>
<circle cx="560.16" cy="168.15" r="2.4" fill="#659dcb" stroke="#1c2733" stroke-width="0.9"/>
<circle cx="564.37" cy="168.15" r="2.4" fill="#659dcb" stroke="#1c2733" stroke-width="0.9"/>
<circle cx="567.92" cy="168.15" r="2.4" fill="#659dcb" stroke="#1c2733" stroke-width="0.9"/>
<circle cx="564.41" cy="159.33" r="2.4" fill="#659dcb" stroke="#1c2733" stroke-width="0.9"/>
<circle cx="563.87" cy="149.45" r="2.4" fill="#659dcb" stroke="#1c2733" stroke-width="0.9"/>
<circle cx="564.29" cy="139.75" r="2.4" fill="#659dcb" stroke="#1c2733" stroke-width="0.9"/>
<circle cx="564.36" cy="133.75" r="2.4" fill="#659dcb" stroke="#1c2733" stroke-width="0.9"/>
<circle cx="603.51" cy="257.25" r="2.4" fill="#e8d77a" stroke="#33301c" stroke-width="0.9"/>
<circle cx="604.45" cy="254.68" r="2.4" fill="#e8d77a" stroke="#33301c" stroke-width="0.9"/>
<circle cx="605.71" cy="253.66" r="2.4" fill="#e8d77a" stroke="#33301c" stroke-width="0.9"/>
<circle cx="606.84" cy="256.34" r="2.4" fill="#e8d77a" stroke="#33301c" stroke-width="0.9"/>
<circle cx="608.81" cy="255.32" r="2.4" fill="#e8d77a" stroke="#33301c" stroke-width="0.9"/>
<circle cx="609.54" cy="255.82" r="2.4" fill="#e8d77a" stroke="#33301c" stroke-width="0.9"/>
<circle cx="611.08" cy="254.14" r="2.4" fill="#e8d77a" stroke="#33301c" stroke-width="0.9"/>
<circle cx="612.11" cy="256.87" r="2.4" fill="#e8d77a" stroke="#33301c" stroke-width="0.9"/>
<circle cx="613.78" cy="254.97" r="2.4" fill="#e8d77a" stroke="#33301c" stroke-width="0.9"/>
<circle cx="603.34" cy="251.45" r="2.4" fill="#e8d77a" stroke="#33301c" stroke-width="0.9"/>
<circle cx="604.29" cy="250.50" r="2.4" fill="#e8d77a" stroke="#33301c" stroke-width="0.9"/>
<circle cx="604.56" cy="251.91" r="2.4" fill="#e8d77a" stroke="#33301c" stroke-width="0.9"/>
<circle cx="605.34" cy="250.17" r="2.4" fill="#e8d77a" stroke="#33301c" stroke-width="0.9"/>
<circle cx="607.07" cy="249.92" r="2.4" fill="#e8d77a" stroke="#33301c" stroke-width="0.9"/>
<circle cx="607.71" cy="250.75" r="2.4" fill="#e8d77a" stroke="#33301c" stroke-width="0.9"/>
<circle cx="608.10" cy="249.62" r="2.4" fill="#e8d77a" stroke="#33301c" stroke-width="0.9"/>
<circle cx="608.95" cy="252.81" r="2.4" fill="#e8d77a" stroke="#33301c" stroke-width="0.9"/>
<circle cx="609.42" cy="251.60" r="2.4" fill="#e8d77a" stroke="#33301c" stroke-width="0.9"/>
<circle cx="610.70" cy="251.01" r="2.4" fill="#e8d77a" stroke="#33301c" stroke-width="0.9"/>
<circle cx="611.12" cy="253.22" r="2.4" fill="#e8d77a" stroke="#33301c" stroke-width="0.9"/>
<circle cx="612.41" cy="252.34" r="2.4" fill="#e8d77a" stroke="#33301c" stroke-width="0.9"/>
<circle cx="613.00" cy="252.60" r="2.4" fill="#e8d77a" stroke="#33301c" stroke-width="0.9"/>
<circle cx="613.82" cy="249.33" r="2.4" fill="#e8d77a" stroke="#33301c" stroke-width="0.9"/>
<circle cx="599.87" cy="247.07" r="2.4" fill="#e8d77a" stroke="#33301c" stroke-width="0.9"/>
<circle cx="601.09" cy="245.36" r="2.4" fill="#e8d77a" stroke="#33301c" stroke-width="0.9"/>
<circle cx="603.22" cy="246.38" r="2.4" fill="#e8d77a" stroke="#33301c" stroke-width="0.9"/>
<circle cx="604.82" cy="245.66" r="2.4" fill="#e8d77a" stroke="#33301c" stroke-width="0.9"/>
<circle cx="605.61" cy="246.09" r="2.4" fill="#e8d77a" stroke="#33301c" stroke-width="0.9"/>
<circle cx="607.78" cy="246.88" r="2.4" fill="#e8d77a" stroke="#33301c" stroke-width="0.9"/>
<circle cx="609.22" cy="248.76" r="2.4" fill="#e8d77a" stroke="#33301c" stroke-width="0.9"/>
<circle cx="610.57" cy="248.12" r="2.4" fill="#e8d77a" stroke="#33301c" stroke-width="0.9"/>
<circle cx="613.05" cy="247.62" r="2.4" fill="#e8d77a" stroke="#33301c" stroke-width="0.9"/>
<circle cx="613.98" cy="249.04" r="2.4" fill="#e8d77a" stroke="#33301c" stroke-width="0.9"/>
<circle cx="615.93" cy="247.78" r="2.4" fill="#e8d77a" stroke="#33301c" stroke-width="0.9"/>
<circle cx="617.64" cy="248.40" r="2.4" fill="#e8d77a" stroke="#33301c" stroke-width="0.9"/>
<circle cx="595.74" cy="243.95" r="2.4" fill="#e8d77a" stroke="#33301c" stroke-width="0.9"/>
<circle cx="598.19" cy="245.04" r="2.4" fill="#e8d77a" stroke="#33301c" stroke-width="0.9"/>
<circle cx="600.52" cy="243.51" r="2.4" fill="#e8d77a" stroke="#33301c" stroke-width="0.9"/>
<circle cx="603.31" cy="243.14" r="2.4" fill="#e8d77a" stroke="#33301c" stroke-width="0.9"/>
<circle cx="605.55" cy="241.07" r="2.4" fill="#e8d77a" stroke="#33301c" stroke-width="0.9"/>
<circle cx="607.72" cy="244.57" r="2.4" fill="#e8d77a" stroke="#33301c" stroke-width="0.9"/>
<circle cx="609.17" cy="241.67" r="2.4" fill="#e8d77a" stroke="#33301c" stroke-width="0.9"/>
<circle cx="612.14" cy="242.43" r="2.4" fill="#e8d77a" stroke="#33301c" stroke-width="0.9"/>
<circle cx="614.30" cy="244.30" r="2.4" fill="#e8d77a" stroke="#33301c" stroke-width="0.9"/>
<circle cx="616.47" cy="242.75" r="2.4" fill="#e8d77a" stroke="#33301c" stroke-width="0.9"/>
<circle cx="619.05" cy="242.00" r="2.4" fill="#e8d77a" stroke="#33301c" stroke-width="0.9"/>
<circle cx="620.36" cy="241.46" r="2.4" fill="#e8d77a" stroke="#33301c" stroke-width="0.9"/>
<circle cx="595.96" cy="237.04" r="2.4" fill="#e8d77a" stroke="#33301c" stroke-width="0.9"/>
<circle cx="598.06" cy="236.69" r="2.4" fill="#e8d77a" stroke="#33301c" stroke-width="0.9"/>
<circle cx="600.65" cy="240.25" r="2.4" fill="#e8d77a" stroke="#33301c" stroke-width="0.9"/>
<circle cx="602.58" cy="237.32" r="2.4" fill="#e8d77a" stroke="#33301c" stroke-width="0.9"/>
<circle cx="604.88" cy="237.74" r="2.4" fill="#e8d77a" stroke="#33301c" stroke-width="0.9"/>
<circle cx="607.02" cy="238.39" r="2.4" fill="#e8d77a" stroke="#33301c" stroke-width="0.9"/>
<circle cx="609.80" cy="238.15" r="2.4" fill="#e8d77a" stroke="#33301c" stroke-width="0.9"/>
<circle cx="611.37" cy="239.20" r="2.4" fill="#e8d77a" stroke="#33301c" stroke-width="0.9"/>
<circle cx="614.31" cy="239.60" r="2.4" fill="#e8d77a" stroke="#33301c" stroke-width="0.9"/>
<circle cx="616.02" cy="240.56" r="2.4" fill="#e8d77a" stroke="#33301c" stroke-width="0.9"/>
<circle cx="618.10" cy="238.84" r="2.4" fill="#e8d77a" stroke="#33301c" stroke-width="0.9"/>
<circle cx="621.23" cy="239.80" r="2.4" fill="#e8d77a" stroke="#33301c" stroke-width="0.9"/>
<circle cx="596.97" cy="232.84" r="2.4" fill="#e8d77a" stroke="#33301c" stroke-width="0.9"/>
<circle cx="598.72" cy="233.64" r="2.4" fill="#e8d77a" stroke="#33301c" stroke-width="0.9"/>
<circle cx="601.03" cy="234.85" r="2.4" fill="#e8d77a" stroke="#33301c" stroke-width="0.9"/>
<circle cx="603.32" cy="233.22" r="2.4" fill="#e8d77a" stroke="#33301c" stroke-width="0.9"/>
<circle cx="605.97" cy="236.35" r="2.4" fill="#e8d77a" stroke="#33301c" stroke-width="0.9"/>
<circle cx="608.33" cy="232.66" r="2.4" fill="#e8d77a" stroke="#33301c" stroke-width="0.9"/>
<circle cx="611.14" cy="234.06" r="2.4" fill="#e8d77a" stroke="#33301c" stroke-width="0.9"/>
<circle cx="612.98" cy="235.49" r="2.4" fill="#e8d77a" stroke="#33301c" stroke-width="0.9"/>
<circle cx="615.65" cy="234.42" r="2.4" fill="#e8d77a" stroke="#33301c" stroke-width="0.9"/>
<circle cx="618.49" cy="235.82" r="2.4" fill="#e8d77a" stroke="#33301c" stroke-width="0.9"/>
<circle cx="620.44" cy="235.12" r="2.4" fill="#e8d77a" stroke="#33301c" stroke-width="0.9"/>
<circle cx="596.80" cy="228.75" r="2.4" fill="#e8d77a" stroke="#33301c" stroke-width="0.9"/>
<circle cx="598.66" cy="230.34" r="2.4" fill="#e8d77a" stroke="#33301c" stroke-width="0.9"/>
<circle cx="600.91" cy="231.02" r="2.4" fill="#e8d77a" stroke="#33301c" stroke-width="0.9"/>
<circle cx="603.66" cy="228.42" r="2.4" fill="#e8d77a" stroke="#33301c" stroke-width="0.9"/>
<circle cx="606.08" cy="232.29" r="2.4" fill="#e8d77a" stroke="#33301c" stroke-width="0.9"/>
<circle cx="608.15" cy="229.55" r="2.4" fill="#e8d77a" stroke="#33301c" stroke-width="0.9"/>
<circle cx="610.91" cy="231.91" r="2.4" fill="#e8d77a" stroke="#33301c" stroke-width="0.9"/>
<circle cx="613.43" cy="229.09" r="2.4" fill="#e8d77a" stroke="#33301c" stroke-width="0.9"/>
<circle cx="615.99" cy="229.98" r="2.4" fill="#e8d77a" stroke="#33301c" stroke-width="0.9"/>
<circle cx="618.53" cy="230.66" r="2.4" fill="#e8d77a" stroke="#33301c" stroke-width="0.9"/>
<circle cx="620.56" cy="231.35" r="2.4" fill="#e8d77a" stroke="#33301c" stroke-width="0.9"/>
<circle cx="599.10" cy="224.68" r="2.4" fill="#e8d77a" stroke="#33301c" stroke-width="0.9"/>
<circle cx="601.54" cy="228.11" r="2.4" fill="#e8d77a" stroke="#33301c" stroke-width="0.9"/>
<circle cx="604.40" cy="226.10" r="2.4" fill="#e8d77a" stroke="#33301c" stroke-width="0.9"/>
<circle cx="605.81" cy="226.96" r="2.4" fill="#e8d77a" stroke="#33301c" stroke-width="0.9"/>
<circle cx="608.73" cy="225.73" r="2.4" fill="#e8d77a" stroke="#33301c" stroke-width="0.9"/>
<circle cx="610.54" cy="225.34" r="2.4" fill="#e8d77a" stroke="#33301c" stroke-width="0.9"/>
<circle cx="613.48" cy="227.27" r="2.4" fill="#e8d77a" stroke="#33301c" stroke-width="0.9"/>
<circle cx="614.77" cy="227.60" r="2.4" fill="#e8d77a" stroke="#33301c" stroke-width="0.9"/>
<circle cx="617.81" cy="226.65" r="2.4" fill="#e8d77a" stroke="#33301c" stroke-width="0.9"/>
<circle cx="599.36" cy="220.80" r="2.4" fill="#e8d77a" stroke="#33301c" stroke-width="0.9"/>
<circle cx="601.61" cy="220.47" r="2.4" fill="#e8d77a" stroke="#33301c" stroke-width="0.9"/>
<circle cx="604.55" cy="223.08" r="2.4" fill="#e8d77a" stroke="#33301c" stroke-width="0.9"/>
<circle cx="606.99" cy="224.01" r="2.4" fill="#e8d77a" stroke="#33301c" stroke-width="0.9"/>
<circle cx="609.47" cy="222.68" r="2.4" fill="#e8d77a" stroke="#33301c" stroke-width="0.9"/>
<circle cx="612.70" cy="223.56" r="2.4" fill="#e8d77a" stroke="#33301c" stroke-width="0.9"/>
<circle cx="614.95" cy="221.93" r="2.4" fill="#e8d77a" stroke="#33301c" stroke-width="0.9"/>
<circle cx="617.23" cy="221.29" r="2.4" fill="#e8d77a" stroke="#33301c" stroke-width="0.9"/>
<circle cx="599.18" cy="218.20" r="2.4" fill="#e8d77a" stroke="#33301c" stroke-width="0.9"/>
<circle cx="601.71" cy="216.48" r="2.4" fill="#e8d77a" stroke="#33301c" stroke-width="0.9"/>
<circle cx="604.81" cy="216.12" r="2.4" fill="#e8d77a" stroke="#33301c" stroke-width="0.9"/>
<circle cx="607.34" cy="217.07" r="2.4" fill="#e8d77a" stroke="#33301c" stroke-width="0.9"/>
<circle cx="609.48" cy="219.96" r="2.4" fill="#e8d77a" stroke="#33301c" stroke-width="0.9"/>
<circle cx="612.17" cy="217.70" r="2.4" fill="#e8d77a" stroke="#33301c" stroke-width="0.9"/>
<circle cx="614.44" cy="219.31" r="2.4" fill="#e8d77a" stroke="#33301c" stroke-width="0.9"/>
<circle cx="617.69" cy="218.84" r="2.4" fill="#e8d77a" stroke="#33301c" stroke-width="0.9"/>
<circle cx="603.28" cy="212.14" r="2.4" fill="#e8d77a" stroke="#33301c" stroke-width="0.9"/>
<circle cx="605.64" cy="214.94" r="2.4" fill="#e8d77a" stroke="#33301c" stroke-width="0.9"/>
<circle cx="607.95" cy="214.58" r="2.4" fill="#e8d77a" stroke="#33301c" stroke-width="0.9"/>
<circle cx="609.09" cy="215.46" r="2.4" fill="#e8d77a" stroke="#33301c" stroke-width="0.9"/>
<circle cx="611.41" cy="213.61" r="2.4" fill="#e8d77a" stroke="#33301c" stroke-width="0.9"/>
<circle cx="613.76" cy="212.80" r="2.4" fill="#e8d77a" stroke="#33301c" stroke-width="0.9"/>
<circle cx="603.04" cy="207.86" r="2.4" fill="#e8d77a" stroke="#33301c" stroke-width="0.9"/>
<circle cx="606.20" cy="208.66" r="2.4" fill="#e8d77a" stroke="#33301c" stroke-width="0.9"/>
<circle cx="608.57" cy="211.16" r="2.4" fill="#e8d77a" stroke="#33301c" stroke-width="0.9"/>
<circle cx="611.36" cy="209.80" r="2.4" fill="#e8d77a" stroke="#33301c" stroke-width="0.9"/>
<circle cx="613.36" cy="210.47" r="2.4" fill="#e8d77a" stroke="#33301c" stroke-width="0.9"/>
<circle cx="605.82" cy="205.57" r="2.4" fill="#e8d77a" stroke="#33301c" stroke-width="0.9"/>
<circle cx="607.37" cy="206.15" r="2.4" fill="#e8d77a" stroke="#33301c" stroke-width="0.9"/>
<circle cx="608.32" cy="203.63" r="2.4" fill="#e8d77a" stroke="#33301c" stroke-width="0.9"/>
<circle cx="610.21" cy="206.83" r="2.4" fill="#e8d77a" stroke="#33301c" stroke-width="0.9"/>
<circle cx="611.38" cy="204.42" r="2.4" fill="#e8d77a" stroke="#33301c" stroke-width="0.9"/>
<circle cx="605.95" cy="198.36" r="2.4" fill="#e8d77a" stroke="#33301c" stroke-width="0.9"/>
<circle cx="608.49" cy="200.53" r="2.4" fill="#e8d77a" stroke="#33301c" stroke-width="0.9"/>
<circle cx="611.51" cy="202.15" r="2.4" fill="#e8d77a" stroke="#33301c" stroke-width="0.9"/>
<circle cx="605.24" cy="194.76" r="2.4" fill="#e8d77a" stroke="#33301c" stroke-width="0.9"/>
<circle cx="608.09" cy="196.72" r="2.4" fill="#e8d77a" stroke="#33301c" stroke-width="0.9"/>
<circle cx="611.62" cy="193.54" r="2.4" fill="#e8d77a" stroke="#33301c" stroke-width="0.9"/>
<circle cx="606.31" cy="191.09" r="2.4" fill="#e8d77a" stroke="#33301c" stroke-width="0.9"/>
<circle cx="610.56" cy="191.88" r="2.4" fill="#e8d77a" stroke="#33301c" stroke-width="0.9"/>
<circle cx="606.10" cy="184.56" r="2.4" fill="#e8d77a" stroke="#33301c" stroke-width="0.9"/>
<circle cx="610.70" cy="187.82" r="2.4" fill="#e8d77a" stroke="#33301c" stroke-width="0.9"/>
<circle cx="606.02" cy="179.62" r="2.4" fill="#e8d77a" stroke="#33301c" stroke-width="0.9"/>
<circle cx="610.60" cy="182.26" r="2.4" fill="#e8d77a" stroke="#33301c" stroke-width="0.9"/>
<circle cx="608.52" cy="153.33" r="2.4" fill="#e8d77a" stroke="#33301c" stroke-width="0.9"/>
<circle cx="608.10" cy="141.16" r="2.4" fill="#e8d77a" stroke="#33301c" stroke-width="0.9"/>
<circle cx="606.05" cy="133.04" r="2.4" fill="#e8d77a" stroke="#33301c" stroke-width="0.9"/>
<circle cx="610.12" cy="133.04" r="2.4" fill="#e8d77a" stroke="#33301c" stroke-width="0.9"/>
<circle cx="608.59" cy="81.18" r="2.4" fill="#e8d77a" stroke="#33301c" stroke-width="0.9"/>
<circle cx="639.73" cy="251.58" r="2.4" fill="#d5706a" stroke="#38201d" stroke-width="0.9"/>
<circle cx="642.39" cy="253.17" r="2.4" fill="#d5706a" stroke="#38201d" stroke-width="0.9"/>
<circle cx="644.07" cy="252.18" r="2.4" fill="#d5706a" stroke="#38201d" stroke-width="0.9"/>
<circle cx="646.53" cy="254.17" r="2.4" fill="#d5706a" stroke="#38201d" stroke-width="0.9"/>
<circle cx="648.17" cy="252.86" r="2.4" fill="#d5706a" stroke="#38201d" stroke-width="0.9"/>
<circle cx="650.49" cy="252.46" r="2.4" fill="#d5706a" stroke="#38201d" stroke-width="0.9"/>
<circle cx="652.92" cy="251.84" r="2.4" fill="#d5706a" stroke="#38201d" stroke-width="0.9"/>
<circle cx="654.67" cy="255.30" r="2.4" fill="#d5706a" stroke="#38201d" stroke-width="0.9"/>
<circle cx="656.35" cy="254.37" r="2.4" fill="#d5706a" stroke="#38201d" stroke-width="0.9"/>
<circle cx="658.67" cy="253.54" r="2.4" fill="#d5706a" stroke="#38201d" stroke-width="0.9"/>
<circle cx="660.63" cy="253.68" r="2.4" fill="#d5706a" stroke="#38201d" stroke-width="0.9"/>
<circle cx="663.20" cy="254.98" r="2.4" fill="#d5706a" stroke="#38201d" stroke-width="0.9"/>
<circle cx="664.59" cy="254.68" r="2.4" fill="#d5706a" stroke="#38201d" stroke-width="0.9"/>
<circle cx="639.82" cy="248.27" r="2.4" fill="#d5706a" stroke="#38201d" stroke-width="0.9"/>
<circle cx="642.07" cy="250.34" r="2.4" fill="#d5706a" stroke="#38201d" stroke-width="0.9"/>
<circle cx="644.47" cy="248.73" r="2.4" fill="#d5706a" stroke="#38201d" stroke-width="0.9"/>
<circle cx="646.82" cy="249.14" r="2.4" fill="#d5706a" stroke="#38201d" stroke-width="0.9"/>
<circle cx="648.93" cy="248.46" r="2.4" fill="#d5706a" stroke="#38201d" stroke-width="0.9"/>
<circle cx="651.13" cy="249.39" r="2.4" fill="#d5706a" stroke="#38201d" stroke-width="0.9"/>
<circle cx="653.21" cy="247.94" r="2.4" fill="#d5706a" stroke="#38201d" stroke-width="0.9"/>
<circle cx="655.90" cy="251.20" r="2.4" fill="#d5706a" stroke="#38201d" stroke-width="0.9"/>
<circle cx="658.43" cy="251.01" r="2.4" fill="#d5706a" stroke="#38201d" stroke-width="0.9"/>
<circle cx="660.44" cy="250.68" r="2.4" fill="#d5706a" stroke="#38201d" stroke-width="0.9"/>
<circle cx="662.63" cy="249.80" r="2.4" fill="#d5706a" stroke="#38201d" stroke-width="0.9"/>
<circle cx="664.95" cy="250.08" r="2.4" fill="#d5706a" stroke="#38201d" stroke-width="0.9"/>
<circle cx="644.89" cy="246.94" r="2.4" fill="#d5706a" stroke="#38201d" stroke-width="0.9"/>
<circle cx="649.64" cy="243.33" r="2.4" fill="#d5706a" stroke="#38201d" stroke-width="0.9"/>
<circle cx="655.14" cy="245.04" r="2.4" fill="#d5706a" stroke="#38201d" stroke-width="0.9"/>
<circle cx="660.82" cy="246.23" r="2.4" fill="#d5706a" stroke="#38201d" stroke-width="0.9"/>
<circle cx="644.19" cy="240.26" r="2.4" fill="#d5706a" stroke="#38201d" stroke-width="0.9"/>
<circle cx="649.88" cy="241.44" r="2.4" fill="#d5706a" stroke="#38201d" stroke-width="0.9"/>
<circle cx="655.64" cy="238.78" r="2.4" fill="#d5706a" stroke="#38201d" stroke-width="0.9"/>
<circle cx="660.40" cy="242.39" r="2.4" fill="#d5706a" stroke="#38201d" stroke-width="0.9"/>
<circle cx="644.56" cy="236.61" r="2.4" fill="#d5706a" stroke="#38201d" stroke-width="0.9"/>
<circle cx="649.82" cy="234.53" r="2.4" fill="#d5706a" stroke="#38201d" stroke-width="0.9"/>
<circle cx="654.95" cy="237.74" r="2.4" fill="#d5706a" stroke="#38201d" stroke-width="0.9"/>
<circle cx="660.99" cy="235.05" r="2.4" fill="#d5706a" stroke="#38201d" stroke-width="0.9"/>
<circle cx="652.06" cy="228.13" r="2.4" fill="#d5706a" stroke="#38201d" stroke-width="0.9"/>
<circle cx="652.16" cy="220.55" r="2.4" fill="#d5706a" stroke="#38201d" stroke-width="0.9"/>
<circle cx="652.61" cy="215.43" r="2.4" fill="#d5706a" stroke="#38201d" stroke-width="0.9"/>
<circle cx="652.44" cy="210.14" r="2.4" fill="#d5706a" stroke="#38201d" stroke-width="0.9"/>
<circle cx="652.52" cy="202.91" r="2.4" fill="#d5706a" stroke="#38201d" stroke-width="0.9"/>
<circle cx="652.35" cy="195.85" r="2.4" fill="#d5706a" stroke="#38201d" stroke-width="0.9"/>
<line x1="549.50" y1="223.72" x2="578.50" y2="223.72" stroke="#000" stroke-width="2.2" stroke-linecap="butt"/>
<line x1="594.00" y1="232.01" x2="623.00" y2="232.01" stroke="#000" stroke-width="2.2" stroke-linecap="butt"/>
<line x1="638.00" y1="247.72" x2="667.00" y2="247.72" stroke="#000" stroke-width="2.2" stroke-linecap="butt"/>
<line x1="534.50" y1="46.60" x2="534.50" y2="259.30" stroke="#000" stroke-width="2.2" stroke-linecap="butt"/>
<line x1="525.50" y1="258.30" x2="683.00" y2="258.30" stroke="#000" stroke-width="2.2" stroke-linecap="butt"/>
<line x1="525.50" y1="258.30" x2="534.50" y2="258.30" stroke="#000" stroke-width="2.2" stroke-linecap="butt"/>
<text x="523.10" y="263.50" font-size="14.5" font-weight="bold" text-anchor="end" fill="#000" >0</text>
<line x1="525.50" y1="187.73" x2="534.50" y2="187.73" stroke="#000" stroke-width="2.2" stroke-linecap="butt"/>
<text x="523.10" y="192.93" font-size="14.5" font-weight="bold" text-anchor="end" fill="#000" >40</text>
<line x1="525.50" y1="117.17" x2="534.50" y2="117.17" stroke="#000" stroke-width="2.2" stroke-linecap="butt"/>
<text x="523.10" y="122.37" font-size="14.5" font-weight="bold" text-anchor="end" fill="#000" >80</text>
<line x1="525.50" y1="46.60" x2="534.50" y2="46.60" stroke="#000" stroke-width="2.2" stroke-linecap="butt"/>
<text x="523.10" y="51.80" font-size="14.5" font-weight="bold" text-anchor="end" fill="#000" >120</text>
<line x1="564.00" y1="258.30" x2="564.00" y2="267.80" stroke="#000" stroke-width="2.2" stroke-linecap="butt"/>
<text x="564.00" y="283.60" font-size="14.5" font-weight="bold" text-anchor="middle" fill="#000" >CR</text>
<line x1="608.50" y1="258.30" x2="608.50" y2="267.80" stroke="#000" stroke-width="2.2" stroke-linecap="butt"/>
<text x="608.50" y="283.60" font-size="14.5" font-weight="bold" text-anchor="middle" fill="#000" >PR</text>
<line x1="652.50" y1="258.30" x2="652.50" y2="267.80" stroke="#000" stroke-width="2.2" stroke-linecap="butt"/>
<text x="652.50" y="283.60" font-size="14.5" font-weight="bold" text-anchor="middle" fill="#000" >MR</text>
<text transform="translate(488.00,152.45) rotate(-90)" font-size="14.8" font-weight="bold" text-anchor="middle">[<tspan font-size="11" dy="-5.8">68</tspan><tspan dy="5.8">Ga]Ga-PSMA-11 SUV</tspan><tspan font-size="11" dy="3.4">peak</tspan></text>
<path d="M565.40,61.20 V58.70 H608.50 V61.20" fill="none" stroke="#222" stroke-width="1.2"/>
<text x="586.95" y="56.90" font-size="10.4" font-weight="normal" text-anchor="middle" fill="#222" >P=0.028</text>
<path d="M608.50,45.20 V42.70 H651.40 V45.20" fill="none" stroke="#222" stroke-width="1.2"/>
<text x="629.95" y="40.90" font-size="10.4" font-weight="normal" text-anchor="middle" fill="#222" >P&lt;0.001</text>
<circle cx="86.55" cy="549.63" r="2.4" fill="#659dcb" stroke="#1c2733" stroke-width="0.9"/>
<circle cx="91.29" cy="550.47" r="2.4" fill="#659dcb" stroke="#1c2733" stroke-width="0.9"/>
<circle cx="95.56" cy="547.30" r="2.4" fill="#659dcb" stroke="#1c2733" stroke-width="0.9"/>
<circle cx="100.37" cy="548.31" r="2.4" fill="#659dcb" stroke="#1c2733" stroke-width="0.9"/>
<circle cx="104.69" cy="551.00" r="2.4" fill="#659dcb" stroke="#1c2733" stroke-width="0.9"/>
<circle cx="109.58" cy="548.67" r="2.4" fill="#659dcb" stroke="#1c2733" stroke-width="0.9"/>
<circle cx="86.84" cy="546.83" r="2.4" fill="#659dcb" stroke="#1c2733" stroke-width="0.9"/>
<circle cx="91.10" cy="545.48" r="2.4" fill="#659dcb" stroke="#1c2733" stroke-width="0.9"/>
<circle cx="96.20" cy="545.97" r="2.4" fill="#659dcb" stroke="#1c2733" stroke-width="0.9"/>
<circle cx="100.43" cy="543.80" r="2.4" fill="#659dcb" stroke="#1c2733" stroke-width="0.9"/>
<circle cx="104.78" cy="544.45" r="2.4" fill="#659dcb" stroke="#1c2733" stroke-width="0.9"/>
<circle cx="108.85" cy="543.26" r="2.4" fill="#659dcb" stroke="#1c2733" stroke-width="0.9"/>
<circle cx="87.21" cy="541.81" r="2.4" fill="#659dcb" stroke="#1c2733" stroke-width="0.9"/>
<circle cx="91.24" cy="542.52" r="2.4" fill="#659dcb" stroke="#1c2733" stroke-width="0.9"/>
<circle cx="95.69" cy="539.10" r="2.4" fill="#659dcb" stroke="#1c2733" stroke-width="0.9"/>
<circle cx="100.37" cy="540.28" r="2.4" fill="#659dcb" stroke="#1c2733" stroke-width="0.9"/>
<circle cx="105.25" cy="539.54" r="2.4" fill="#659dcb" stroke="#1c2733" stroke-width="0.9"/>
<circle cx="109.09" cy="541.02" r="2.4" fill="#659dcb" stroke="#1c2733" stroke-width="0.9"/>
<circle cx="87.23" cy="534.48" r="2.4" fill="#659dcb" stroke="#1c2733" stroke-width="0.9"/>
<circle cx="91.58" cy="536.80" r="2.4" fill="#659dcb" stroke="#1c2733" stroke-width="0.9"/>
<circle cx="95.76" cy="536.12" r="2.4" fill="#659dcb" stroke="#1c2733" stroke-width="0.9"/>
<circle cx="99.86" cy="537.25" r="2.4" fill="#659dcb" stroke="#1c2733" stroke-width="0.9"/>
<circle cx="105.14" cy="538.07" r="2.4" fill="#659dcb" stroke="#1c2733" stroke-width="0.9"/>
<circle cx="109.44" cy="535.31" r="2.4" fill="#659dcb" stroke="#1c2733" stroke-width="0.9"/>
<circle cx="86.75" cy="533.92" r="2.4" fill="#659dcb" stroke="#1c2733" stroke-width="0.9"/>
<circle cx="90.94" cy="530.13" r="2.4" fill="#659dcb" stroke="#1c2733" stroke-width="0.9"/>
<circle cx="95.43" cy="532.58" r="2.4" fill="#659dcb" stroke="#1c2733" stroke-width="0.9"/>
<circle cx="100.38" cy="533.23" r="2.4" fill="#659dcb" stroke="#1c2733" stroke-width="0.9"/>
<circle cx="104.85" cy="531.62" r="2.4" fill="#659dcb" stroke="#1c2733" stroke-width="0.9"/>
<circle cx="109.10" cy="531.11" r="2.4" fill="#659dcb" stroke="#1c2733" stroke-width="0.9"/>
<circle cx="90.21" cy="529.01" r="2.4" fill="#659dcb" stroke="#1c2733" stroke-width="0.9"/>
<circle cx="94.05" cy="528.26" r="2.4" fill="#659dcb" stroke="#1c2733" stroke-width="0.9"/>
<circle cx="98.42" cy="526.01" r="2.4" fill="#659dcb" stroke="#1c2733" stroke-width="0.9"/>
<circle cx="101.90" cy="527.46" r="2.4" fill="#659dcb" stroke="#1c2733" stroke-width="0.9"/>
<circle cx="105.60" cy="529.57" r="2.4" fill="#659dcb" stroke="#1c2733" stroke-width="0.9"/>
<circle cx="90.93" cy="523.53" r="2.4" fill="#659dcb" stroke="#1c2733" stroke-width="0.9"/>
<circle cx="96.02" cy="521.19" r="2.4" fill="#659dcb" stroke="#1c2733" stroke-width="0.9"/>
<circle cx="100.32" cy="522.89" r="2.4" fill="#659dcb" stroke="#1c2733" stroke-width="0.9"/>
<circle cx="105.12" cy="525.08" r="2.4" fill="#659dcb" stroke="#1c2733" stroke-width="0.9"/>
<circle cx="91.35" cy="516.70" r="2.4" fill="#659dcb" stroke="#1c2733" stroke-width="0.9"/>
<circle cx="95.40" cy="519.99" r="2.4" fill="#659dcb" stroke="#1c2733" stroke-width="0.9"/>
<circle cx="100.27" cy="518.12" r="2.4" fill="#659dcb" stroke="#1c2733" stroke-width="0.9"/>
<circle cx="104.76" cy="518.77" r="2.4" fill="#659dcb" stroke="#1c2733" stroke-width="0.9"/>
<circle cx="91.70" cy="514.33" r="2.4" fill="#659dcb" stroke="#1c2733" stroke-width="0.9"/>
<circle cx="95.74" cy="513.37" r="2.4" fill="#659dcb" stroke="#1c2733" stroke-width="0.9"/>
<circle cx="100.22" cy="512.43" r="2.4" fill="#659dcb" stroke="#1c2733" stroke-width="0.9"/>
<circle cx="104.68" cy="515.54" r="2.4" fill="#659dcb" stroke="#1c2733" stroke-width="0.9"/>
<circle cx="93.64" cy="509.17" r="2.4" fill="#659dcb" stroke="#1c2733" stroke-width="0.9"/>
<circle cx="97.74" cy="507.56" r="2.4" fill="#659dcb" stroke="#1c2733" stroke-width="0.9"/>
<circle cx="101.78" cy="511.05" r="2.4" fill="#659dcb" stroke="#1c2733" stroke-width="0.9"/>
<circle cx="94.36" cy="501.44" r="2.4" fill="#659dcb" stroke="#1c2733" stroke-width="0.9"/>
<circle cx="98.45" cy="503.61" r="2.4" fill="#659dcb" stroke="#1c2733" stroke-width="0.9"/>
<circle cx="101.56" cy="505.15" r="2.4" fill="#659dcb" stroke="#1c2733" stroke-width="0.9"/>
<circle cx="93.52" cy="496.69" r="2.4" fill="#659dcb" stroke="#1c2733" stroke-width="0.9"/>
<circle cx="97.72" cy="497.97" r="2.4" fill="#659dcb" stroke="#1c2733" stroke-width="0.9"/>
<circle cx="101.90" cy="500.14" r="2.4" fill="#659dcb" stroke="#1c2733" stroke-width="0.9"/>
<circle cx="97.94" cy="464.73" r="2.4" fill="#659dcb" stroke="#1c2733" stroke-width="0.9"/>
<circle cx="97.75" cy="448.25" r="2.4" fill="#659dcb" stroke="#1c2733" stroke-width="0.9"/>
<circle cx="133.17" cy="546.83" r="2.4" fill="#e8d77a" stroke="#33301c" stroke-width="0.9"/>
<circle cx="134.98" cy="548.75" r="2.4" fill="#e8d77a" stroke="#33301c" stroke-width="0.9"/>
<circle cx="137.24" cy="548.07" r="2.4" fill="#e8d77a" stroke="#33301c" stroke-width="0.9"/>
<circle cx="138.31" cy="549.59" r="2.4" fill="#e8d77a" stroke="#33301c" stroke-width="0.9"/>
<circle cx="140.86" cy="548.35" r="2.4" fill="#e8d77a" stroke="#33301c" stroke-width="0.9"/>
<circle cx="142.66" cy="550.28" r="2.4" fill="#e8d77a" stroke="#33301c" stroke-width="0.9"/>
<circle cx="144.80" cy="547.28" r="2.4" fill="#e8d77a" stroke="#33301c" stroke-width="0.9"/>
<circle cx="146.68" cy="549.90" r="2.4" fill="#e8d77a" stroke="#33301c" stroke-width="0.9"/>
<circle cx="148.29" cy="549.19" r="2.4" fill="#e8d77a" stroke="#33301c" stroke-width="0.9"/>
<circle cx="150.30" cy="547.55" r="2.4" fill="#e8d77a" stroke="#33301c" stroke-width="0.9"/>
<circle cx="152.47" cy="550.82" r="2.4" fill="#e8d77a" stroke="#33301c" stroke-width="0.9"/>
<circle cx="132.78" cy="544.88" r="2.4" fill="#e8d77a" stroke="#33301c" stroke-width="0.9"/>
<circle cx="134.49" cy="544.27" r="2.4" fill="#e8d77a" stroke="#33301c" stroke-width="0.9"/>
<circle cx="137.25" cy="543.85" r="2.4" fill="#e8d77a" stroke="#33301c" stroke-width="0.9"/>
<circle cx="138.62" cy="545.26" r="2.4" fill="#e8d77a" stroke="#33301c" stroke-width="0.9"/>
<circle cx="141.03" cy="543.46" r="2.4" fill="#e8d77a" stroke="#33301c" stroke-width="0.9"/>
<circle cx="142.69" cy="545.61" r="2.4" fill="#e8d77a" stroke="#33301c" stroke-width="0.9"/>
<circle cx="144.64" cy="543.05" r="2.4" fill="#e8d77a" stroke="#33301c" stroke-width="0.9"/>
<circle cx="146.63" cy="544.65" r="2.4" fill="#e8d77a" stroke="#33301c" stroke-width="0.9"/>
<circle cx="148.33" cy="546.55" r="2.4" fill="#e8d77a" stroke="#33301c" stroke-width="0.9"/>
<circle cx="150.05" cy="546.18" r="2.4" fill="#e8d77a" stroke="#33301c" stroke-width="0.9"/>
<circle cx="151.55" cy="542.65" r="2.4" fill="#e8d77a" stroke="#33301c" stroke-width="0.9"/>
<circle cx="130.24" cy="540.39" r="2.4" fill="#e8d77a" stroke="#33301c" stroke-width="0.9"/>
<circle cx="132.19" cy="539.05" r="2.4" fill="#e8d77a" stroke="#33301c" stroke-width="0.9"/>
<circle cx="134.23" cy="540.86" r="2.4" fill="#e8d77a" stroke="#33301c" stroke-width="0.9"/>
<circle cx="136.77" cy="539.69" r="2.4" fill="#e8d77a" stroke="#33301c" stroke-width="0.9"/>
<circle cx="139.06" cy="542.17" r="2.4" fill="#e8d77a" stroke="#33301c" stroke-width="0.9"/>
<circle cx="141.08" cy="541.97" r="2.4" fill="#e8d77a" stroke="#33301c" stroke-width="0.9"/>
<circle cx="143.43" cy="538.67" r="2.4" fill="#e8d77a" stroke="#33301c" stroke-width="0.9"/>
<circle cx="145.49" cy="541.52" r="2.4" fill="#e8d77a" stroke="#33301c" stroke-width="0.9"/>
<circle cx="148.30" cy="539.35" r="2.4" fill="#e8d77a" stroke="#33301c" stroke-width="0.9"/>
<circle cx="150.50" cy="540.11" r="2.4" fill="#e8d77a" stroke="#33301c" stroke-width="0.9"/>
<circle cx="152.30" cy="541.16" r="2.4" fill="#e8d77a" stroke="#33301c" stroke-width="0.9"/>
<circle cx="154.54" cy="538.38" r="2.4" fill="#e8d77a" stroke="#33301c" stroke-width="0.9"/>
<circle cx="130.46" cy="534.78" r="2.4" fill="#e8d77a" stroke="#33301c" stroke-width="0.9"/>
<circle cx="132.11" cy="538.00" r="2.4" fill="#e8d77a" stroke="#33301c" stroke-width="0.9"/>
<circle cx="134.84" cy="536.81" r="2.4" fill="#e8d77a" stroke="#33301c" stroke-width="0.9"/>
<circle cx="137.01" cy="534.37" r="2.4" fill="#e8d77a" stroke="#33301c" stroke-width="0.9"/>
<circle cx="139.11" cy="535.80" r="2.4" fill="#e8d77a" stroke="#33301c" stroke-width="0.9"/>
<circle cx="141.65" cy="534.02" r="2.4" fill="#e8d77a" stroke="#33301c" stroke-width="0.9"/>
<circle cx="143.95" cy="537.49" r="2.4" fill="#e8d77a" stroke="#33301c" stroke-width="0.9"/>
<circle cx="145.47" cy="536.57" r="2.4" fill="#e8d77a" stroke="#33301c" stroke-width="0.9"/>
<circle cx="147.88" cy="536.11" r="2.4" fill="#e8d77a" stroke="#33301c" stroke-width="0.9"/>
<circle cx="150.19" cy="537.25" r="2.4" fill="#e8d77a" stroke="#33301c" stroke-width="0.9"/>
<circle cx="152.27" cy="535.41" r="2.4" fill="#e8d77a" stroke="#33301c" stroke-width="0.9"/>
<circle cx="154.36" cy="535.09" r="2.4" fill="#e8d77a" stroke="#33301c" stroke-width="0.9"/>
<circle cx="130.47" cy="531.36" r="2.4" fill="#e8d77a" stroke="#33301c" stroke-width="0.9"/>
<circle cx="132.76" cy="531.01" r="2.4" fill="#e8d77a" stroke="#33301c" stroke-width="0.9"/>
<circle cx="134.97" cy="530.41" r="2.4" fill="#e8d77a" stroke="#33301c" stroke-width="0.9"/>
<circle cx="137.27" cy="533.69" r="2.4" fill="#e8d77a" stroke="#33301c" stroke-width="0.9"/>
<circle cx="139.61" cy="530.80" r="2.4" fill="#e8d77a" stroke="#33301c" stroke-width="0.9"/>
<circle cx="142.99" cy="532.93" r="2.4" fill="#e8d77a" stroke="#33301c" stroke-width="0.9"/>
<circle cx="145.15" cy="531.75" r="2.4" fill="#e8d77a" stroke="#33301c" stroke-width="0.9"/>
<circle cx="146.88" cy="533.20" r="2.4" fill="#e8d77a" stroke="#33301c" stroke-width="0.9"/>
<circle cx="149.92" cy="532.55" r="2.4" fill="#e8d77a" stroke="#33301c" stroke-width="0.9"/>
<circle cx="152.58" cy="530.06" r="2.4" fill="#e8d77a" stroke="#33301c" stroke-width="0.9"/>
<circle cx="154.56" cy="532.08" r="2.4" fill="#e8d77a" stroke="#33301c" stroke-width="0.9"/>
<circle cx="130.63" cy="527.73" r="2.4" fill="#e8d77a" stroke="#33301c" stroke-width="0.9"/>
<circle cx="133.12" cy="528.53" r="2.4" fill="#e8d77a" stroke="#33301c" stroke-width="0.9"/>
<circle cx="135.02" cy="526.65" r="2.4" fill="#e8d77a" stroke="#33301c" stroke-width="0.9"/>
<circle cx="136.80" cy="529.53" r="2.4" fill="#e8d77a" stroke="#33301c" stroke-width="0.9"/>
<circle cx="138.97" cy="528.95" r="2.4" fill="#e8d77a" stroke="#33301c" stroke-width="0.9"/>
<circle cx="141.05" cy="528.23" r="2.4" fill="#e8d77a" stroke="#33301c" stroke-width="0.9"/>
<circle cx="143.12" cy="525.54" r="2.4" fill="#e8d77a" stroke="#33301c" stroke-width="0.9"/>
<circle cx="146.05" cy="526.33" r="2.4" fill="#e8d77a" stroke="#33301c" stroke-width="0.9"/>
<circle cx="148.29" cy="527.46" r="2.4" fill="#e8d77a" stroke="#33301c" stroke-width="0.9"/>
<circle cx="149.93" cy="526.95" r="2.4" fill="#e8d77a" stroke="#33301c" stroke-width="0.9"/>
<circle cx="152.00" cy="525.99" r="2.4" fill="#e8d77a" stroke="#33301c" stroke-width="0.9"/>
<circle cx="154.64" cy="529.26" r="2.4" fill="#e8d77a" stroke="#33301c" stroke-width="0.9"/>
<circle cx="133.32" cy="523.91" r="2.4" fill="#e8d77a" stroke="#33301c" stroke-width="0.9"/>
<circle cx="135.62" cy="525.25" r="2.4" fill="#e8d77a" stroke="#33301c" stroke-width="0.9"/>
<circle cx="138.05" cy="521.90" r="2.4" fill="#e8d77a" stroke="#33301c" stroke-width="0.9"/>
<circle cx="140.12" cy="523.42" r="2.4" fill="#e8d77a" stroke="#33301c" stroke-width="0.9"/>
<circle cx="142.83" cy="521.52" r="2.4" fill="#e8d77a" stroke="#33301c" stroke-width="0.9"/>
<circle cx="144.49" cy="522.96" r="2.4" fill="#e8d77a" stroke="#33301c" stroke-width="0.9"/>
<circle cx="146.54" cy="522.55" r="2.4" fill="#e8d77a" stroke="#33301c" stroke-width="0.9"/>
<circle cx="149.32" cy="524.81" r="2.4" fill="#e8d77a" stroke="#33301c" stroke-width="0.9"/>
<circle cx="151.63" cy="524.37" r="2.4" fill="#e8d77a" stroke="#33301c" stroke-width="0.9"/>
<circle cx="133.60" cy="517.15" r="2.4" fill="#e8d77a" stroke="#33301c" stroke-width="0.9"/>
<circle cx="135.88" cy="517.61" r="2.4" fill="#e8d77a" stroke="#33301c" stroke-width="0.9"/>
<circle cx="137.64" cy="520.18" r="2.4" fill="#e8d77a" stroke="#33301c" stroke-width="0.9"/>
<circle cx="139.98" cy="519.02" r="2.4" fill="#e8d77a" stroke="#33301c" stroke-width="0.9"/>
<circle cx="142.14" cy="518.75" r="2.4" fill="#e8d77a" stroke="#33301c" stroke-width="0.9"/>
<circle cx="144.89" cy="519.65" r="2.4" fill="#e8d77a" stroke="#33301c" stroke-width="0.9"/>
<circle cx="146.90" cy="520.47" r="2.4" fill="#e8d77a" stroke="#33301c" stroke-width="0.9"/>
<circle cx="149.73" cy="521.10" r="2.4" fill="#e8d77a" stroke="#33301c" stroke-width="0.9"/>
<circle cx="151.85" cy="518.19" r="2.4" fill="#e8d77a" stroke="#33301c" stroke-width="0.9"/>
<circle cx="135.28" cy="514.75" r="2.4" fill="#e8d77a" stroke="#33301c" stroke-width="0.9"/>
<circle cx="137.66" cy="514.30" r="2.4" fill="#e8d77a" stroke="#33301c" stroke-width="0.9"/>
<circle cx="139.51" cy="515.39" r="2.4" fill="#e8d77a" stroke="#33301c" stroke-width="0.9"/>
<circle cx="141.42" cy="516.86" r="2.4" fill="#e8d77a" stroke="#33301c" stroke-width="0.9"/>
<circle cx="143.34" cy="515.76" r="2.4" fill="#e8d77a" stroke="#33301c" stroke-width="0.9"/>
<circle cx="145.44" cy="513.82" r="2.4" fill="#e8d77a" stroke="#33301c" stroke-width="0.9"/>
<circle cx="147.67" cy="516.33" r="2.4" fill="#e8d77a" stroke="#33301c" stroke-width="0.9"/>
<circle cx="149.83" cy="513.01" r="2.4" fill="#e8d77a" stroke="#33301c" stroke-width="0.9"/>
<circle cx="138.80" cy="511.25" r="2.4" fill="#e8d77a" stroke="#33301c" stroke-width="0.9"/>
<circle cx="140.28" cy="512.42" r="2.4" fill="#e8d77a" stroke="#33301c" stroke-width="0.9"/>
<circle cx="141.77" cy="509.66" r="2.4" fill="#e8d77a" stroke="#33301c" stroke-width="0.9"/>
<circle cx="143.27" cy="510.58" r="2.4" fill="#e8d77a" stroke="#33301c" stroke-width="0.9"/>
<circle cx="144.94" cy="511.77" r="2.4" fill="#e8d77a" stroke="#33301c" stroke-width="0.9"/>
<circle cx="146.52" cy="509.12" r="2.4" fill="#e8d77a" stroke="#33301c" stroke-width="0.9"/>
<circle cx="138.96" cy="506.85" r="2.4" fill="#e8d77a" stroke="#33301c" stroke-width="0.9"/>
<circle cx="141.29" cy="507.87" r="2.4" fill="#e8d77a" stroke="#33301c" stroke-width="0.9"/>
<circle cx="144.14" cy="505.19" r="2.4" fill="#e8d77a" stroke="#33301c" stroke-width="0.9"/>
<circle cx="146.06" cy="504.52" r="2.4" fill="#e8d77a" stroke="#33301c" stroke-width="0.9"/>
<circle cx="140.07" cy="502.97" r="2.4" fill="#e8d77a" stroke="#33301c" stroke-width="0.9"/>
<circle cx="142.42" cy="500.65" r="2.4" fill="#e8d77a" stroke="#33301c" stroke-width="0.9"/>
<circle cx="144.87" cy="499.28" r="2.4" fill="#e8d77a" stroke="#33301c" stroke-width="0.9"/>
<circle cx="140.62" cy="494.64" r="2.4" fill="#e8d77a" stroke="#33301c" stroke-width="0.9"/>
<circle cx="144.78" cy="497.24" r="2.4" fill="#e8d77a" stroke="#33301c" stroke-width="0.9"/>
<circle cx="139.72" cy="490.85" r="2.4" fill="#e8d77a" stroke="#33301c" stroke-width="0.9"/>
<circle cx="142.74" cy="493.15" r="2.4" fill="#e8d77a" stroke="#33301c" stroke-width="0.9"/>
<circle cx="145.19" cy="489.55" r="2.4" fill="#e8d77a" stroke="#33301c" stroke-width="0.9"/>
<circle cx="140.86" cy="483.70" r="2.4" fill="#e8d77a" stroke="#33301c" stroke-width="0.9"/>
<circle cx="142.24" cy="485.70" r="2.4" fill="#e8d77a" stroke="#33301c" stroke-width="0.9"/>
<circle cx="143.94" cy="487.65" r="2.4" fill="#e8d77a" stroke="#33301c" stroke-width="0.9"/>
<circle cx="140.68" cy="479.47" r="2.4" fill="#e8d77a" stroke="#33301c" stroke-width="0.9"/>
<circle cx="142.89" cy="482.51" r="2.4" fill="#e8d77a" stroke="#33301c" stroke-width="0.9"/>
<circle cx="144.05" cy="480.41" r="2.4" fill="#e8d77a" stroke="#33301c" stroke-width="0.9"/>
<circle cx="141.36" cy="468.07" r="2.4" fill="#e8d77a" stroke="#33301c" stroke-width="0.9"/>
<circle cx="143.75" cy="471.31" r="2.4" fill="#e8d77a" stroke="#33301c" stroke-width="0.9"/>
<circle cx="141.03" cy="464.61" r="2.4" fill="#e8d77a" stroke="#33301c" stroke-width="0.9"/>
<circle cx="143.75" cy="466.05" r="2.4" fill="#e8d77a" stroke="#33301c" stroke-width="0.9"/>
<circle cx="141.05" cy="461.75" r="2.4" fill="#e8d77a" stroke="#33301c" stroke-width="0.9"/>
<circle cx="143.73" cy="459.74" r="2.4" fill="#e8d77a" stroke="#33301c" stroke-width="0.9"/>
<circle cx="142.74" cy="444.01" r="2.4" fill="#e8d77a" stroke="#33301c" stroke-width="0.9"/>
<circle cx="142.85" cy="429.41" r="2.4" fill="#e8d77a" stroke="#33301c" stroke-width="0.9"/>
<circle cx="142.80" cy="422.35" r="2.4" fill="#e8d77a" stroke="#33301c" stroke-width="0.9"/>
<circle cx="142.86" cy="414.82" r="2.4" fill="#e8d77a" stroke="#33301c" stroke-width="0.9"/>
<circle cx="141.46" cy="405.40" r="2.4" fill="#e8d77a" stroke="#33301c" stroke-width="0.9"/>
<circle cx="143.69" cy="407.28" r="2.4" fill="#e8d77a" stroke="#33301c" stroke-width="0.9"/>
<circle cx="142.97" cy="384.21" r="2.4" fill="#e8d77a" stroke="#33301c" stroke-width="0.9"/>
<circle cx="184.50" cy="549.49" r="2.4" fill="#d5706a" stroke="#38201d" stroke-width="0.9"/>
<circle cx="188.94" cy="549.49" r="2.4" fill="#d5706a" stroke="#38201d" stroke-width="0.9"/>
<circle cx="175.36" cy="543.62" r="2.4" fill="#d5706a" stroke="#38201d" stroke-width="0.9"/>
<circle cx="180.55" cy="543.00" r="2.4" fill="#d5706a" stroke="#38201d" stroke-width="0.9"/>
<circle cx="184.44" cy="541.06" r="2.4" fill="#d5706a" stroke="#38201d" stroke-width="0.9"/>
<circle cx="189.30" cy="540.66" r="2.4" fill="#d5706a" stroke="#38201d" stroke-width="0.9"/>
<circle cx="193.54" cy="544.18" r="2.4" fill="#d5706a" stroke="#38201d" stroke-width="0.9"/>
<circle cx="198.44" cy="542.21" r="2.4" fill="#d5706a" stroke="#38201d" stroke-width="0.9"/>
<circle cx="175.26" cy="539.45" r="2.4" fill="#d5706a" stroke="#38201d" stroke-width="0.9"/>
<circle cx="180.09" cy="536.61" r="2.4" fill="#d5706a" stroke="#38201d" stroke-width="0.9"/>
<circle cx="184.40" cy="535.82" r="2.4" fill="#d5706a" stroke="#38201d" stroke-width="0.9"/>
<circle cx="189.25" cy="538.29" r="2.4" fill="#d5706a" stroke="#38201d" stroke-width="0.9"/>
<circle cx="194.12" cy="539.04" r="2.4" fill="#d5706a" stroke="#38201d" stroke-width="0.9"/>
<circle cx="198.55" cy="537.22" r="2.4" fill="#d5706a" stroke="#38201d" stroke-width="0.9"/>
<circle cx="176.22" cy="531.95" r="2.4" fill="#d5706a" stroke="#38201d" stroke-width="0.9"/>
<circle cx="180.44" cy="532.85" r="2.4" fill="#d5706a" stroke="#38201d" stroke-width="0.9"/>
<circle cx="184.70" cy="533.29" r="2.4" fill="#d5706a" stroke="#38201d" stroke-width="0.9"/>
<circle cx="188.98" cy="534.04" r="2.4" fill="#d5706a" stroke="#38201d" stroke-width="0.9"/>
<circle cx="194.21" cy="531.17" r="2.4" fill="#d5706a" stroke="#38201d" stroke-width="0.9"/>
<circle cx="198.27" cy="534.81" r="2.4" fill="#d5706a" stroke="#38201d" stroke-width="0.9"/>
<circle cx="175.46" cy="526.97" r="2.4" fill="#d5706a" stroke="#38201d" stroke-width="0.9"/>
<circle cx="180.57" cy="530.26" r="2.4" fill="#d5706a" stroke="#38201d" stroke-width="0.9"/>
<circle cx="184.98" cy="527.91" r="2.4" fill="#d5706a" stroke="#38201d" stroke-width="0.9"/>
<circle cx="189.08" cy="529.47" r="2.4" fill="#d5706a" stroke="#38201d" stroke-width="0.9"/>
<circle cx="193.72" cy="526.41" r="2.4" fill="#d5706a" stroke="#38201d" stroke-width="0.9"/>
<circle cx="198.69" cy="528.76" r="2.4" fill="#d5706a" stroke="#38201d" stroke-width="0.9"/>
<circle cx="180.83" cy="523.02" r="2.4" fill="#d5706a" stroke="#38201d" stroke-width="0.9"/>
<circle cx="184.52" cy="524.85" r="2.4" fill="#d5706a" stroke="#38201d" stroke-width="0.9"/>
<circle cx="188.96" cy="525.62" r="2.4" fill="#d5706a" stroke="#38201d" stroke-width="0.9"/>
<circle cx="193.49" cy="523.94" r="2.4" fill="#d5706a" stroke="#38201d" stroke-width="0.9"/>
<circle cx="182.27" cy="519.46" r="2.4" fill="#d5706a" stroke="#38201d" stroke-width="0.9"/>
<circle cx="186.77" cy="517.32" r="2.4" fill="#d5706a" stroke="#38201d" stroke-width="0.9"/>
<circle cx="191.50" cy="520.87" r="2.4" fill="#d5706a" stroke="#38201d" stroke-width="0.9"/>
<circle cx="182.99" cy="515.22" r="2.4" fill="#d5706a" stroke="#38201d" stroke-width="0.9"/>
<circle cx="186.53" cy="512.19" r="2.4" fill="#d5706a" stroke="#38201d" stroke-width="0.9"/>
<circle cx="191.56" cy="513.63" r="2.4" fill="#d5706a" stroke="#38201d" stroke-width="0.9"/>
<circle cx="185.02" cy="507.80" r="2.4" fill="#d5706a" stroke="#38201d" stroke-width="0.9"/>
<circle cx="189.38" cy="510.36" r="2.4" fill="#d5706a" stroke="#38201d" stroke-width="0.9"/>
<circle cx="186.86" cy="501.46" r="2.4" fill="#d5706a" stroke="#38201d" stroke-width="0.9"/>
<circle cx="187.29" cy="492.98" r="2.4" fill="#d5706a" stroke="#38201d" stroke-width="0.9"/>
<circle cx="187.37" cy="480.74" r="2.4" fill="#d5706a" stroke="#38201d" stroke-width="0.9"/>
<circle cx="187.18" cy="395.98" r="2.4" fill="#d5706a" stroke="#38201d" stroke-width="0.9"/>
<circle cx="187.46" cy="387.98" r="2.4" fill="#d5706a" stroke="#38201d" stroke-width="0.9"/>
<line x1="83.50" y1="531.41" x2="112.50" y2="531.41" stroke="#000" stroke-width="2.2" stroke-linecap="butt"/>
<line x1="128.00" y1="525.62" x2="157.00" y2="525.62" stroke="#000" stroke-width="2.2" stroke-linecap="butt"/>
<line x1="172.50" y1="532.54" x2="201.50" y2="532.54" stroke="#000" stroke-width="2.2" stroke-linecap="butt"/>
<line x1="68.70" y1="342.30" x2="68.70" y2="555.20" stroke="#000" stroke-width="2.2" stroke-linecap="butt"/>
<line x1="59.70" y1="554.20" x2="217.00" y2="554.20" stroke="#000" stroke-width="2.2" stroke-linecap="butt"/>
<line x1="59.70" y1="554.20" x2="68.70" y2="554.20" stroke="#000" stroke-width="2.2" stroke-linecap="butt"/>
<text x="57.30" y="559.40" font-size="14.5" font-weight="bold" text-anchor="end" fill="#000" >0</text>
<line x1="59.70" y1="483.57" x2="68.70" y2="483.57" stroke="#000" stroke-width="2.2" stroke-linecap="butt"/>
<text x="57.30" y="488.77" font-size="14.5" font-weight="bold" text-anchor="end" fill="#000" >15</text>
<line x1="59.70" y1="412.93" x2="68.70" y2="412.93" stroke="#000" stroke-width="2.2" stroke-linecap="butt"/>
<text x="57.30" y="418.13" font-size="14.5" font-weight="bold" text-anchor="end" fill="#000" >30</text>
<line x1="59.70" y1="342.30" x2="68.70" y2="342.30" stroke="#000" stroke-width="2.2" stroke-linecap="butt"/>
<text x="57.30" y="347.50" font-size="14.5" font-weight="bold" text-anchor="end" fill="#000" >45</text>
<line x1="98.00" y1="554.20" x2="98.00" y2="563.70" stroke="#000" stroke-width="2.2" stroke-linecap="butt"/>
<text x="98.00" y="579.50" font-size="14.5" font-weight="bold" text-anchor="middle" fill="#000" >CR</text>
<line x1="142.50" y1="554.20" x2="142.50" y2="563.70" stroke="#000" stroke-width="2.2" stroke-linecap="butt"/>
<text x="142.50" y="579.50" font-size="14.5" font-weight="bold" text-anchor="middle" fill="#000" >PR</text>
<line x1="187.00" y1="554.20" x2="187.00" y2="563.70" stroke="#000" stroke-width="2.2" stroke-linecap="butt"/>
<text x="187.00" y="579.50" font-size="14.5" font-weight="bold" text-anchor="middle" fill="#000" >MR</text>
<text transform="translate(24.10,448.25) rotate(-90)" font-size="15" font-weight="bold" text-anchor="middle">[<tspan font-size="11" dy="-5.8">18</tspan><tspan dy="5.8">F]FDG SUV</tspan><tspan font-size="11" dy="3.4">max</tspan></text>
<path d="M98.80,348.20 V345.70 H184.70 V348.20" fill="none" stroke="#222" stroke-width="1.2"/>
<text x="141.75" y="342.70" font-size="11.5" font-weight="normal" text-anchor="middle" fill="#222" >NS</text>
<circle cx="321.61" cy="550.35" r="2.4" fill="#659dcb" stroke="#1c2733" stroke-width="0.9"/>
<circle cx="325.75" cy="547.80" r="2.4" fill="#659dcb" stroke="#1c2733" stroke-width="0.9"/>
<circle cx="329.73" cy="549.24" r="2.4" fill="#659dcb" stroke="#1c2733" stroke-width="0.9"/>
<circle cx="334.96" cy="551.26" r="2.4" fill="#659dcb" stroke="#1c2733" stroke-width="0.9"/>
<circle cx="339.53" cy="548.59" r="2.4" fill="#659dcb" stroke="#1c2733" stroke-width="0.9"/>
<circle cx="343.49" cy="549.78" r="2.4" fill="#659dcb" stroke="#1c2733" stroke-width="0.9"/>
<circle cx="320.52" cy="544.75" r="2.4" fill="#659dcb" stroke="#1c2733" stroke-width="0.9"/>
<circle cx="323.91" cy="543.98" r="2.4" fill="#659dcb" stroke="#1c2733" stroke-width="0.9"/>
<circle cx="328.13" cy="545.22" r="2.4" fill="#659dcb" stroke="#1c2733" stroke-width="0.9"/>
<circle cx="332.65" cy="546.09" r="2.4" fill="#659dcb" stroke="#1c2733" stroke-width="0.9"/>
<circle cx="336.65" cy="543.29" r="2.4" fill="#659dcb" stroke="#1c2733" stroke-width="0.9"/>
<circle cx="340.51" cy="547.09" r="2.4" fill="#659dcb" stroke="#1c2733" stroke-width="0.9"/>
<circle cx="344.88" cy="546.57" r="2.4" fill="#659dcb" stroke="#1c2733" stroke-width="0.9"/>
<circle cx="320.38" cy="539.54" r="2.4" fill="#659dcb" stroke="#1c2733" stroke-width="0.9"/>
<circle cx="324.69" cy="538.87" r="2.4" fill="#659dcb" stroke="#1c2733" stroke-width="0.9"/>
<circle cx="328.20" cy="540.08" r="2.4" fill="#659dcb" stroke="#1c2733" stroke-width="0.9"/>
<circle cx="332.84" cy="540.59" r="2.4" fill="#659dcb" stroke="#1c2733" stroke-width="0.9"/>
<circle cx="336.87" cy="542.53" r="2.4" fill="#659dcb" stroke="#1c2733" stroke-width="0.9"/>
<circle cx="340.13" cy="542.22" r="2.4" fill="#659dcb" stroke="#1c2733" stroke-width="0.9"/>
<circle cx="344.52" cy="541.53" r="2.4" fill="#659dcb" stroke="#1c2733" stroke-width="0.9"/>
<circle cx="319.69" cy="535.40" r="2.4" fill="#659dcb" stroke="#1c2733" stroke-width="0.9"/>
<circle cx="323.86" cy="537.33" r="2.4" fill="#659dcb" stroke="#1c2733" stroke-width="0.9"/>
<circle cx="327.94" cy="534.34" r="2.4" fill="#659dcb" stroke="#1c2733" stroke-width="0.9"/>
<circle cx="332.67" cy="536.13" r="2.4" fill="#659dcb" stroke="#1c2733" stroke-width="0.9"/>
<circle cx="336.09" cy="538.17" r="2.4" fill="#659dcb" stroke="#1c2733" stroke-width="0.9"/>
<circle cx="340.91" cy="536.79" r="2.4" fill="#659dcb" stroke="#1c2733" stroke-width="0.9"/>
<circle cx="344.62" cy="534.78" r="2.4" fill="#659dcb" stroke="#1c2733" stroke-width="0.9"/>
<circle cx="320.34" cy="533.74" r="2.4" fill="#659dcb" stroke="#1c2733" stroke-width="0.9"/>
<circle cx="323.96" cy="531.57" r="2.4" fill="#659dcb" stroke="#1c2733" stroke-width="0.9"/>
<circle cx="328.51" cy="532.30" r="2.4" fill="#659dcb" stroke="#1c2733" stroke-width="0.9"/>
<circle cx="332.66" cy="532.81" r="2.4" fill="#659dcb" stroke="#1c2733" stroke-width="0.9"/>
<circle cx="336.78" cy="529.91" r="2.4" fill="#659dcb" stroke="#1c2733" stroke-width="0.9"/>
<circle cx="340.41" cy="530.47" r="2.4" fill="#659dcb" stroke="#1c2733" stroke-width="0.9"/>
<circle cx="344.97" cy="530.97" r="2.4" fill="#659dcb" stroke="#1c2733" stroke-width="0.9"/>
<circle cx="324.15" cy="529.25" r="2.4" fill="#659dcb" stroke="#1c2733" stroke-width="0.9"/>
<circle cx="328.46" cy="525.72" r="2.4" fill="#659dcb" stroke="#1c2733" stroke-width="0.9"/>
<circle cx="332.00" cy="528.44" r="2.4" fill="#659dcb" stroke="#1c2733" stroke-width="0.9"/>
<circle cx="336.71" cy="527.62" r="2.4" fill="#659dcb" stroke="#1c2733" stroke-width="0.9"/>
<circle cx="340.88" cy="526.68" r="2.4" fill="#659dcb" stroke="#1c2733" stroke-width="0.9"/>
<circle cx="325.91" cy="521.37" r="2.4" fill="#659dcb" stroke="#1c2733" stroke-width="0.9"/>
<circle cx="329.74" cy="524.90" r="2.4" fill="#659dcb" stroke="#1c2733" stroke-width="0.9"/>
<circle cx="334.18" cy="522.57" r="2.4" fill="#659dcb" stroke="#1c2733" stroke-width="0.9"/>
<circle cx="338.78" cy="523.61" r="2.4" fill="#659dcb" stroke="#1c2733" stroke-width="0.9"/>
<circle cx="325.41" cy="519.49" r="2.4" fill="#659dcb" stroke="#1c2733" stroke-width="0.9"/>
<circle cx="330.26" cy="517.18" r="2.4" fill="#659dcb" stroke="#1c2733" stroke-width="0.9"/>
<circle cx="334.89" cy="518.19" r="2.4" fill="#659dcb" stroke="#1c2733" stroke-width="0.9"/>
<circle cx="339.55" cy="520.38" r="2.4" fill="#659dcb" stroke="#1c2733" stroke-width="0.9"/>
<circle cx="329.25" cy="515.48" r="2.4" fill="#659dcb" stroke="#1c2733" stroke-width="0.9"/>
<circle cx="332.61" cy="516.00" r="2.4" fill="#659dcb" stroke="#1c2733" stroke-width="0.9"/>
<circle cx="335.34" cy="512.61" r="2.4" fill="#659dcb" stroke="#1c2733" stroke-width="0.9"/>
<circle cx="332.11" cy="510.49" r="2.4" fill="#659dcb" stroke="#1c2733" stroke-width="0.9"/>
<circle cx="327.22" cy="503.70" r="2.4" fill="#659dcb" stroke="#1c2733" stroke-width="0.9"/>
<circle cx="331.14" cy="500.58" r="2.4" fill="#659dcb" stroke="#1c2733" stroke-width="0.9"/>
<circle cx="333.67" cy="502.62" r="2.4" fill="#659dcb" stroke="#1c2733" stroke-width="0.9"/>
<circle cx="337.63" cy="501.25" r="2.4" fill="#659dcb" stroke="#1c2733" stroke-width="0.9"/>
<circle cx="332.71" cy="490.70" r="2.4" fill="#659dcb" stroke="#1c2733" stroke-width="0.9"/>
<circle cx="332.57" cy="449.01" r="2.4" fill="#659dcb" stroke="#1c2733" stroke-width="0.9"/>
<circle cx="370.94" cy="550.09" r="2.4" fill="#e8d77a" stroke="#33301c" stroke-width="0.9"/>
<circle cx="372.12" cy="547.57" r="2.4" fill="#e8d77a" stroke="#33301c" stroke-width="0.9"/>
<circle cx="373.22" cy="549.62" r="2.4" fill="#e8d77a" stroke="#33301c" stroke-width="0.9"/>
<circle cx="375.16" cy="548.08" r="2.4" fill="#e8d77a" stroke="#33301c" stroke-width="0.9"/>
<circle cx="376.62" cy="548.96" r="2.4" fill="#e8d77a" stroke="#33301c" stroke-width="0.9"/>
<circle cx="377.87" cy="549.37" r="2.4" fill="#e8d77a" stroke="#33301c" stroke-width="0.9"/>
<circle cx="379.30" cy="546.28" r="2.4" fill="#e8d77a" stroke="#33301c" stroke-width="0.9"/>
<circle cx="380.37" cy="548.34" r="2.4" fill="#e8d77a" stroke="#33301c" stroke-width="0.9"/>
<circle cx="381.31" cy="546.69" r="2.4" fill="#e8d77a" stroke="#33301c" stroke-width="0.9"/>
<circle cx="382.90" cy="546.93" r="2.4" fill="#e8d77a" stroke="#33301c" stroke-width="0.9"/>
<circle cx="370.81" cy="543.52" r="2.4" fill="#e8d77a" stroke="#33301c" stroke-width="0.9"/>
<circle cx="372.16" cy="542.76" r="2.4" fill="#e8d77a" stroke="#33301c" stroke-width="0.9"/>
<circle cx="373.48" cy="544.88" r="2.4" fill="#e8d77a" stroke="#33301c" stroke-width="0.9"/>
<circle cx="374.44" cy="541.77" r="2.4" fill="#e8d77a" stroke="#33301c" stroke-width="0.9"/>
<circle cx="375.87" cy="545.64" r="2.4" fill="#e8d77a" stroke="#33301c" stroke-width="0.9"/>
<circle cx="376.86" cy="545.15" r="2.4" fill="#e8d77a" stroke="#33301c" stroke-width="0.9"/>
<circle cx="378.18" cy="542.47" r="2.4" fill="#e8d77a" stroke="#33301c" stroke-width="0.9"/>
<circle cx="379.27" cy="544.42" r="2.4" fill="#e8d77a" stroke="#33301c" stroke-width="0.9"/>
<circle cx="380.65" cy="543.20" r="2.4" fill="#e8d77a" stroke="#33301c" stroke-width="0.9"/>
<circle cx="381.67" cy="542.13" r="2.4" fill="#e8d77a" stroke="#33301c" stroke-width="0.9"/>
<circle cx="382.74" cy="544.05" r="2.4" fill="#e8d77a" stroke="#33301c" stroke-width="0.9"/>
<circle cx="364.73" cy="537.50" r="2.4" fill="#e8d77a" stroke="#33301c" stroke-width="0.9"/>
<circle cx="366.88" cy="541.01" r="2.4" fill="#e8d77a" stroke="#33301c" stroke-width="0.9"/>
<circle cx="368.80" cy="539.91" r="2.4" fill="#e8d77a" stroke="#33301c" stroke-width="0.9"/>
<circle cx="371.42" cy="540.72" r="2.4" fill="#e8d77a" stroke="#33301c" stroke-width="0.9"/>
<circle cx="373.31" cy="538.30" r="2.4" fill="#e8d77a" stroke="#33301c" stroke-width="0.9"/>
<circle cx="376.19" cy="541.37" r="2.4" fill="#e8d77a" stroke="#33301c" stroke-width="0.9"/>
<circle cx="377.99" cy="538.90" r="2.4" fill="#e8d77a" stroke="#33301c" stroke-width="0.9"/>
<circle cx="380.48" cy="539.62" r="2.4" fill="#e8d77a" stroke="#33301c" stroke-width="0.9"/>
<circle cx="382.51" cy="537.85" r="2.4" fill="#e8d77a" stroke="#33301c" stroke-width="0.9"/>
<circle cx="384.70" cy="540.38" r="2.4" fill="#e8d77a" stroke="#33301c" stroke-width="0.9"/>
<circle cx="386.68" cy="539.35" r="2.4" fill="#e8d77a" stroke="#33301c" stroke-width="0.9"/>
<circle cx="388.84" cy="538.68" r="2.4" fill="#e8d77a" stroke="#33301c" stroke-width="0.9"/>
<circle cx="364.74" cy="533.69" r="2.4" fill="#e8d77a" stroke="#33301c" stroke-width="0.9"/>
<circle cx="367.16" cy="534.09" r="2.4" fill="#e8d77a" stroke="#33301c" stroke-width="0.9"/>
<circle cx="369.47" cy="537.12" r="2.4" fill="#e8d77a" stroke="#33301c" stroke-width="0.9"/>
<circle cx="371.68" cy="535.84" r="2.4" fill="#e8d77a" stroke="#33301c" stroke-width="0.9"/>
<circle cx="373.09" cy="536.76" r="2.4" fill="#e8d77a" stroke="#33301c" stroke-width="0.9"/>
<circle cx="375.66" cy="534.59" r="2.4" fill="#e8d77a" stroke="#33301c" stroke-width="0.9"/>
<circle cx="378.35" cy="534.95" r="2.4" fill="#e8d77a" stroke="#33301c" stroke-width="0.9"/>
<circle cx="380.57" cy="536.55" r="2.4" fill="#e8d77a" stroke="#33301c" stroke-width="0.9"/>
<circle cx="382.11" cy="536.02" r="2.4" fill="#e8d77a" stroke="#33301c" stroke-width="0.9"/>
<circle cx="384.38" cy="533.27" r="2.4" fill="#e8d77a" stroke="#33301c" stroke-width="0.9"/>
<circle cx="386.72" cy="535.48" r="2.4" fill="#e8d77a" stroke="#33301c" stroke-width="0.9"/>
<circle cx="388.80" cy="534.33" r="2.4" fill="#e8d77a" stroke="#33301c" stroke-width="0.9"/>
<circle cx="368.10" cy="530.35" r="2.4" fill="#e8d77a" stroke="#33301c" stroke-width="0.9"/>
<circle cx="369.65" cy="530.89" r="2.4" fill="#e8d77a" stroke="#33301c" stroke-width="0.9"/>
<circle cx="371.48" cy="532.56" r="2.4" fill="#e8d77a" stroke="#33301c" stroke-width="0.9"/>
<circle cx="373.60" cy="532.11" r="2.4" fill="#e8d77a" stroke="#33301c" stroke-width="0.9"/>
<circle cx="375.36" cy="532.90" r="2.4" fill="#e8d77a" stroke="#33301c" stroke-width="0.9"/>
<circle cx="376.55" cy="529.05" r="2.4" fill="#e8d77a" stroke="#33301c" stroke-width="0.9"/>
<circle cx="378.88" cy="531.86" r="2.4" fill="#e8d77a" stroke="#33301c" stroke-width="0.9"/>
<circle cx="380.37" cy="531.44" r="2.4" fill="#e8d77a" stroke="#33301c" stroke-width="0.9"/>
<circle cx="382.32" cy="529.54" r="2.4" fill="#e8d77a" stroke="#33301c" stroke-width="0.9"/>
<circle cx="383.84" cy="529.85" r="2.4" fill="#e8d77a" stroke="#33301c" stroke-width="0.9"/>
<circle cx="385.77" cy="531.06" r="2.4" fill="#e8d77a" stroke="#33301c" stroke-width="0.9"/>
<circle cx="367.97" cy="527.68" r="2.4" fill="#e8d77a" stroke="#33301c" stroke-width="0.9"/>
<circle cx="370.03" cy="524.62" r="2.4" fill="#e8d77a" stroke="#33301c" stroke-width="0.9"/>
<circle cx="372.72" cy="526.06" r="2.4" fill="#e8d77a" stroke="#33301c" stroke-width="0.9"/>
<circle cx="375.83" cy="528.26" r="2.4" fill="#e8d77a" stroke="#33301c" stroke-width="0.9"/>
<circle cx="377.96" cy="527.17" r="2.4" fill="#e8d77a" stroke="#33301c" stroke-width="0.9"/>
<circle cx="380.58" cy="526.85" r="2.4" fill="#e8d77a" stroke="#33301c" stroke-width="0.9"/>
<circle cx="383.07" cy="525.07" r="2.4" fill="#e8d77a" stroke="#33301c" stroke-width="0.9"/>
<circle cx="386.23" cy="525.62" r="2.4" fill="#e8d77a" stroke="#33301c" stroke-width="0.9"/>
<circle cx="372.36" cy="519.98" r="2.4" fill="#e8d77a" stroke="#33301c" stroke-width="0.9"/>
<circle cx="373.12" cy="522.75" r="2.4" fill="#e8d77a" stroke="#33301c" stroke-width="0.9"/>
<circle cx="375.04" cy="520.72" r="2.4" fill="#e8d77a" stroke="#33301c" stroke-width="0.9"/>
<circle cx="376.61" cy="523.81" r="2.4" fill="#e8d77a" stroke="#33301c" stroke-width="0.9"/>
<circle cx="377.83" cy="522.42" r="2.4" fill="#e8d77a" stroke="#33301c" stroke-width="0.9"/>
<circle cx="378.92" cy="521.33" r="2.4" fill="#e8d77a" stroke="#33301c" stroke-width="0.9"/>
<circle cx="380.01" cy="521.62" r="2.4" fill="#e8d77a" stroke="#33301c" stroke-width="0.9"/>
<circle cx="382.15" cy="523.34" r="2.4" fill="#e8d77a" stroke="#33301c" stroke-width="0.9"/>
<circle cx="372.25" cy="515.94" r="2.4" fill="#e8d77a" stroke="#33301c" stroke-width="0.9"/>
<circle cx="373.53" cy="518.93" r="2.4" fill="#e8d77a" stroke="#33301c" stroke-width="0.9"/>
<circle cx="376.02" cy="518.19" r="2.4" fill="#e8d77a" stroke="#33301c" stroke-width="0.9"/>
<circle cx="378.38" cy="517.27" r="2.4" fill="#e8d77a" stroke="#33301c" stroke-width="0.9"/>
<circle cx="380.25" cy="515.22" r="2.4" fill="#e8d77a" stroke="#33301c" stroke-width="0.9"/>
<circle cx="381.98" cy="516.85" r="2.4" fill="#e8d77a" stroke="#33301c" stroke-width="0.9"/>
<circle cx="372.16" cy="512.67" r="2.4" fill="#e8d77a" stroke="#33301c" stroke-width="0.9"/>
<circle cx="374.28" cy="510.84" r="2.4" fill="#e8d77a" stroke="#33301c" stroke-width="0.9"/>
<circle cx="376.93" cy="511.81" r="2.4" fill="#e8d77a" stroke="#33301c" stroke-width="0.9"/>
<circle cx="379.40" cy="513.19" r="2.4" fill="#e8d77a" stroke="#33301c" stroke-width="0.9"/>
<circle cx="382.30" cy="514.44" r="2.4" fill="#e8d77a" stroke="#33301c" stroke-width="0.9"/>
<circle cx="374.60" cy="507.16" r="2.4" fill="#e8d77a" stroke="#33301c" stroke-width="0.9"/>
<circle cx="376.00" cy="508.53" r="2.4" fill="#e8d77a" stroke="#33301c" stroke-width="0.9"/>
<circle cx="378.23" cy="506.54" r="2.4" fill="#e8d77a" stroke="#33301c" stroke-width="0.9"/>
<circle cx="379.08" cy="509.97" r="2.4" fill="#e8d77a" stroke="#33301c" stroke-width="0.9"/>
<circle cx="374.04" cy="501.41" r="2.4" fill="#e8d77a" stroke="#33301c" stroke-width="0.9"/>
<circle cx="376.32" cy="502.71" r="2.4" fill="#e8d77a" stroke="#33301c" stroke-width="0.9"/>
<circle cx="377.24" cy="503.60" r="2.4" fill="#e8d77a" stroke="#33301c" stroke-width="0.9"/>
<circle cx="379.13" cy="505.33" r="2.4" fill="#e8d77a" stroke="#33301c" stroke-width="0.9"/>
<circle cx="374.83" cy="497.79" r="2.4" fill="#e8d77a" stroke="#33301c" stroke-width="0.9"/>
<circle cx="376.69" cy="498.90" r="2.4" fill="#e8d77a" stroke="#33301c" stroke-width="0.9"/>
<circle cx="379.23" cy="500.20" r="2.4" fill="#e8d77a" stroke="#33301c" stroke-width="0.9"/>
<circle cx="374.12" cy="493.60" r="2.4" fill="#e8d77a" stroke="#33301c" stroke-width="0.9"/>
<circle cx="375.64" cy="496.12" r="2.4" fill="#e8d77a" stroke="#33301c" stroke-width="0.9"/>
<circle cx="378.05" cy="495.18" r="2.4" fill="#e8d77a" stroke="#33301c" stroke-width="0.9"/>
<circle cx="379.00" cy="492.51" r="2.4" fill="#e8d77a" stroke="#33301c" stroke-width="0.9"/>
<circle cx="373.46" cy="486.22" r="2.4" fill="#e8d77a" stroke="#33301c" stroke-width="0.9"/>
<circle cx="377.08" cy="484.87" r="2.4" fill="#e8d77a" stroke="#33301c" stroke-width="0.9"/>
<circle cx="380.11" cy="487.37" r="2.4" fill="#e8d77a" stroke="#33301c" stroke-width="0.9"/>
<circle cx="377.26" cy="483.24" r="2.4" fill="#e8d77a" stroke="#33301c" stroke-width="0.9"/>
<circle cx="375.40" cy="477.27" r="2.4" fill="#e8d77a" stroke="#33301c" stroke-width="0.9"/>
<circle cx="379.22" cy="474.45" r="2.4" fill="#e8d77a" stroke="#33301c" stroke-width="0.9"/>
<circle cx="376.72" cy="471.62" r="2.4" fill="#e8d77a" stroke="#33301c" stroke-width="0.9"/>
<circle cx="376.92" cy="463.14" r="2.4" fill="#e8d77a" stroke="#33301c" stroke-width="0.9"/>
<circle cx="376.59" cy="451.13" r="2.4" fill="#e8d77a" stroke="#33301c" stroke-width="0.9"/>
<circle cx="376.92" cy="446.18" r="2.4" fill="#e8d77a" stroke="#33301c" stroke-width="0.9"/>
<circle cx="376.71" cy="427.81" r="2.4" fill="#e8d77a" stroke="#33301c" stroke-width="0.9"/>
<circle cx="377.06" cy="411.55" r="2.4" fill="#e8d77a" stroke="#33301c" stroke-width="0.9"/>
<circle cx="376.96" cy="377.63" r="2.4" fill="#e8d77a" stroke="#33301c" stroke-width="0.9"/>
<circle cx="418.68" cy="549.35" r="2.4" fill="#d5706a" stroke="#38201d" stroke-width="0.9"/>
<circle cx="423.39" cy="549.35" r="2.4" fill="#d5706a" stroke="#38201d" stroke-width="0.9"/>
<circle cx="409.26" cy="542.74" r="2.4" fill="#d5706a" stroke="#38201d" stroke-width="0.9"/>
<circle cx="414.47" cy="542.02" r="2.4" fill="#d5706a" stroke="#38201d" stroke-width="0.9"/>
<circle cx="418.99" cy="543.43" r="2.4" fill="#d5706a" stroke="#38201d" stroke-width="0.9"/>
<circle cx="422.91" cy="541.43" r="2.4" fill="#d5706a" stroke="#38201d" stroke-width="0.9"/>
<circle cx="427.47" cy="544.15" r="2.4" fill="#d5706a" stroke="#38201d" stroke-width="0.9"/>
<circle cx="432.47" cy="544.76" r="2.4" fill="#d5706a" stroke="#38201d" stroke-width="0.9"/>
<circle cx="408.67" cy="538.64" r="2.4" fill="#d5706a" stroke="#38201d" stroke-width="0.9"/>
<circle cx="412.50" cy="536.61" r="2.4" fill="#d5706a" stroke="#38201d" stroke-width="0.9"/>
<circle cx="416.49" cy="540.57" r="2.4" fill="#d5706a" stroke="#38201d" stroke-width="0.9"/>
<circle cx="420.55" cy="538.16" r="2.4" fill="#d5706a" stroke="#38201d" stroke-width="0.9"/>
<circle cx="424.82" cy="540.14" r="2.4" fill="#d5706a" stroke="#38201d" stroke-width="0.9"/>
<circle cx="429.53" cy="539.17" r="2.4" fill="#d5706a" stroke="#38201d" stroke-width="0.9"/>
<circle cx="433.51" cy="537.37" r="2.4" fill="#d5706a" stroke="#38201d" stroke-width="0.9"/>
<circle cx="409.41" cy="533.10" r="2.4" fill="#d5706a" stroke="#38201d" stroke-width="0.9"/>
<circle cx="414.20" cy="534.65" r="2.4" fill="#d5706a" stroke="#38201d" stroke-width="0.9"/>
<circle cx="419.01" cy="535.98" r="2.4" fill="#d5706a" stroke="#38201d" stroke-width="0.9"/>
<circle cx="423.62" cy="535.23" r="2.4" fill="#d5706a" stroke="#38201d" stroke-width="0.9"/>
<circle cx="428.05" cy="532.63" r="2.4" fill="#d5706a" stroke="#38201d" stroke-width="0.9"/>
<circle cx="432.46" cy="533.99" r="2.4" fill="#d5706a" stroke="#38201d" stroke-width="0.9"/>
<circle cx="409.40" cy="531.78" r="2.4" fill="#d5706a" stroke="#38201d" stroke-width="0.9"/>
<circle cx="414.55" cy="529.84" r="2.4" fill="#d5706a" stroke="#38201d" stroke-width="0.9"/>
<circle cx="419.23" cy="528.97" r="2.4" fill="#d5706a" stroke="#38201d" stroke-width="0.9"/>
<circle cx="423.14" cy="530.47" r="2.4" fill="#d5706a" stroke="#38201d" stroke-width="0.9"/>
<circle cx="427.28" cy="531.06" r="2.4" fill="#d5706a" stroke="#38201d" stroke-width="0.9"/>
<circle cx="432.13" cy="528.49" r="2.4" fill="#d5706a" stroke="#38201d" stroke-width="0.9"/>
<circle cx="414.21" cy="526.80" r="2.4" fill="#d5706a" stroke="#38201d" stroke-width="0.9"/>
<circle cx="418.98" cy="524.61" r="2.4" fill="#d5706a" stroke="#38201d" stroke-width="0.9"/>
<circle cx="423.18" cy="527.63" r="2.4" fill="#d5706a" stroke="#38201d" stroke-width="0.9"/>
<circle cx="427.93" cy="525.60" r="2.4" fill="#d5706a" stroke="#38201d" stroke-width="0.9"/>
<circle cx="416.12" cy="521.44" r="2.4" fill="#d5706a" stroke="#38201d" stroke-width="0.9"/>
<circle cx="421.42" cy="520.22" r="2.4" fill="#d5706a" stroke="#38201d" stroke-width="0.9"/>
<circle cx="426.00" cy="523.14" r="2.4" fill="#d5706a" stroke="#38201d" stroke-width="0.9"/>
<circle cx="413.77" cy="515.70" r="2.4" fill="#d5706a" stroke="#38201d" stroke-width="0.9"/>
<circle cx="419.03" cy="516.86" r="2.4" fill="#d5706a" stroke="#38201d" stroke-width="0.9"/>
<circle cx="423.64" cy="518.09" r="2.4" fill="#d5706a" stroke="#38201d" stroke-width="0.9"/>
<circle cx="428.16" cy="518.91" r="2.4" fill="#d5706a" stroke="#38201d" stroke-width="0.9"/>
<circle cx="418.53" cy="500.59" r="2.4" fill="#d5706a" stroke="#38201d" stroke-width="0.9"/>
<circle cx="423.05" cy="502.71" r="2.4" fill="#d5706a" stroke="#38201d" stroke-width="0.9"/>
<circle cx="420.70" cy="498.47" r="2.4" fill="#d5706a" stroke="#38201d" stroke-width="0.9"/>
<circle cx="420.77" cy="462.43" r="2.4" fill="#d5706a" stroke="#38201d" stroke-width="0.9"/>
<circle cx="421.08" cy="411.55" r="2.4" fill="#d5706a" stroke="#38201d" stroke-width="0.9"/>
<line x1="317.90" y1="533.31" x2="346.90" y2="533.31" stroke="#000" stroke-width="2.2" stroke-linecap="butt"/>
<line x1="362.40" y1="530.98" x2="391.40" y2="530.98" stroke="#000" stroke-width="2.2" stroke-linecap="butt"/>
<line x1="406.50" y1="533.10" x2="435.50" y2="533.10" stroke="#000" stroke-width="2.2" stroke-linecap="butt"/>
<line x1="302.90" y1="342.30" x2="302.90" y2="555.30" stroke="#000" stroke-width="2.2" stroke-linecap="butt"/>
<line x1="293.90" y1="554.30" x2="452.00" y2="554.30" stroke="#000" stroke-width="2.2" stroke-linecap="butt"/>
<line x1="293.90" y1="554.30" x2="302.90" y2="554.30" stroke="#000" stroke-width="2.2" stroke-linecap="butt"/>
<text x="291.50" y="559.50" font-size="14.5" font-weight="bold" text-anchor="end" fill="#000" >0</text>
<line x1="293.90" y1="483.63" x2="302.90" y2="483.63" stroke="#000" stroke-width="2.2" stroke-linecap="butt"/>
<text x="291.50" y="488.83" font-size="14.5" font-weight="bold" text-anchor="end" fill="#000" >10</text>
<line x1="293.90" y1="412.97" x2="302.90" y2="412.97" stroke="#000" stroke-width="2.2" stroke-linecap="butt"/>
<text x="291.50" y="418.17" font-size="14.5" font-weight="bold" text-anchor="end" fill="#000" >20</text>
<line x1="293.90" y1="342.30" x2="302.90" y2="342.30" stroke="#000" stroke-width="2.2" stroke-linecap="butt"/>
<text x="291.50" y="347.50" font-size="14.5" font-weight="bold" text-anchor="end" fill="#000" >30</text>
<line x1="332.40" y1="554.30" x2="332.40" y2="563.80" stroke="#000" stroke-width="2.2" stroke-linecap="butt"/>
<text x="332.40" y="579.60" font-size="14.5" font-weight="bold" text-anchor="middle" fill="#000" >CR</text>
<line x1="376.90" y1="554.30" x2="376.90" y2="563.80" stroke="#000" stroke-width="2.2" stroke-linecap="butt"/>
<text x="376.90" y="579.60" font-size="14.5" font-weight="bold" text-anchor="middle" fill="#000" >PR</text>
<line x1="421.00" y1="554.30" x2="421.00" y2="563.80" stroke="#000" stroke-width="2.2" stroke-linecap="butt"/>
<text x="421.00" y="579.60" font-size="14.5" font-weight="bold" text-anchor="middle" fill="#000" >MR</text>
<text transform="translate(255.60,448.30) rotate(-90)" font-size="15" font-weight="bold" text-anchor="middle">[<tspan font-size="11" dy="-5.8">18</tspan><tspan dy="5.8">F]FDG SUV</tspan><tspan font-size="11" dy="3.4">mean</tspan></text>
<path d="M333.30,348.20 V345.70 H419.10 V348.20" fill="none" stroke="#222" stroke-width="1.2"/>
<text x="376.20" y="342.70" font-size="11.5" font-weight="normal" text-anchor="middle" fill="#222" >NS</text>
<circle cx="553.84" cy="549.41" r="2.4" fill="#659dcb" stroke="#1c2733" stroke-width="0.9"/>
<circle cx="557.88" cy="549.82" r="2.4" fill="#659dcb" stroke="#1c2733" stroke-width="0.9"/>
<circle cx="562.90" cy="548.38" r="2.4" fill="#659dcb" stroke="#1c2733" stroke-width="0.9"/>
<circle cx="566.80" cy="547.63" r="2.4" fill="#659dcb" stroke="#1c2733" stroke-width="0.9"/>
<circle cx="571.41" cy="547.05" r="2.4" fill="#659dcb" stroke="#1c2733" stroke-width="0.9"/>
<circle cx="575.68" cy="550.76" r="2.4" fill="#659dcb" stroke="#1c2733" stroke-width="0.9"/>
<circle cx="553.81" cy="544.96" r="2.4" fill="#659dcb" stroke="#1c2733" stroke-width="0.9"/>
<circle cx="557.87" cy="542.59" r="2.4" fill="#659dcb" stroke="#1c2733" stroke-width="0.9"/>
<circle cx="562.39" cy="545.67" r="2.4" fill="#659dcb" stroke="#1c2733" stroke-width="0.9"/>
<circle cx="567.42" cy="546.16" r="2.4" fill="#659dcb" stroke="#1c2733" stroke-width="0.9"/>
<circle cx="571.66" cy="543.10" r="2.4" fill="#659dcb" stroke="#1c2733" stroke-width="0.9"/>
<circle cx="576.47" cy="543.93" r="2.4" fill="#659dcb" stroke="#1c2733" stroke-width="0.9"/>
<circle cx="553.77" cy="538.00" r="2.4" fill="#659dcb" stroke="#1c2733" stroke-width="0.9"/>
<circle cx="558.34" cy="539.67" r="2.4" fill="#659dcb" stroke="#1c2733" stroke-width="0.9"/>
<circle cx="562.96" cy="538.87" r="2.4" fill="#659dcb" stroke="#1c2733" stroke-width="0.9"/>
<circle cx="566.99" cy="540.38" r="2.4" fill="#659dcb" stroke="#1c2733" stroke-width="0.9"/>
<circle cx="571.96" cy="541.86" r="2.4" fill="#659dcb" stroke="#1c2733" stroke-width="0.9"/>
<circle cx="576.11" cy="541.18" r="2.4" fill="#659dcb" stroke="#1c2733" stroke-width="0.9"/>
<circle cx="553.18" cy="535.24" r="2.4" fill="#659dcb" stroke="#1c2733" stroke-width="0.9"/>
<circle cx="558.44" cy="535.75" r="2.4" fill="#659dcb" stroke="#1c2733" stroke-width="0.9"/>
<circle cx="562.30" cy="534.39" r="2.4" fill="#659dcb" stroke="#1c2733" stroke-width="0.9"/>
<circle cx="567.16" cy="537.35" r="2.4" fill="#659dcb" stroke="#1c2733" stroke-width="0.9"/>
<circle cx="571.32" cy="536.64" r="2.4" fill="#659dcb" stroke="#1c2733" stroke-width="0.9"/>
<circle cx="553.86" cy="531.08" r="2.4" fill="#659dcb" stroke="#1c2733" stroke-width="0.9"/>
<circle cx="557.72" cy="529.70" r="2.4" fill="#659dcb" stroke="#1c2733" stroke-width="0.9"/>
<circle cx="562.15" cy="533.34" r="2.4" fill="#659dcb" stroke="#1c2733" stroke-width="0.9"/>
<circle cx="567.53" cy="530.37" r="2.4" fill="#659dcb" stroke="#1c2733" stroke-width="0.9"/>
<circle cx="571.19" cy="532.89" r="2.4" fill="#659dcb" stroke="#1c2733" stroke-width="0.9"/>
<circle cx="576.18" cy="532.02" r="2.4" fill="#659dcb" stroke="#1c2733" stroke-width="0.9"/>
<circle cx="560.77" cy="528.43" r="2.4" fill="#659dcb" stroke="#1c2733" stroke-width="0.9"/>
<circle cx="564.45" cy="525.74" r="2.4" fill="#659dcb" stroke="#1c2733" stroke-width="0.9"/>
<circle cx="569.27" cy="529.04" r="2.4" fill="#659dcb" stroke="#1c2733" stroke-width="0.9"/>
<circle cx="573.81" cy="527.31" r="2.4" fill="#659dcb" stroke="#1c2733" stroke-width="0.9"/>
<circle cx="558.32" cy="523.54" r="2.4" fill="#659dcb" stroke="#1c2733" stroke-width="0.9"/>
<circle cx="562.90" cy="524.91" r="2.4" fill="#659dcb" stroke="#1c2733" stroke-width="0.9"/>
<circle cx="566.78" cy="520.98" r="2.4" fill="#659dcb" stroke="#1c2733" stroke-width="0.9"/>
<circle cx="571.98" cy="522.02" r="2.4" fill="#659dcb" stroke="#1c2733" stroke-width="0.9"/>
<circle cx="558.48" cy="516.67" r="2.4" fill="#659dcb" stroke="#1c2733" stroke-width="0.9"/>
<circle cx="562.95" cy="519.64" r="2.4" fill="#659dcb" stroke="#1c2733" stroke-width="0.9"/>
<circle cx="567.24" cy="517.87" r="2.4" fill="#659dcb" stroke="#1c2733" stroke-width="0.9"/>
<circle cx="558.47" cy="515.11" r="2.4" fill="#659dcb" stroke="#1c2733" stroke-width="0.9"/>
<circle cx="563.18" cy="512.96" r="2.4" fill="#659dcb" stroke="#1c2733" stroke-width="0.9"/>
<circle cx="567.20" cy="514.13" r="2.4" fill="#659dcb" stroke="#1c2733" stroke-width="0.9"/>
<circle cx="571.15" cy="511.56" r="2.4" fill="#659dcb" stroke="#1c2733" stroke-width="0.9"/>
<circle cx="558.96" cy="506.69" r="2.4" fill="#659dcb" stroke="#1c2733" stroke-width="0.9"/>
<circle cx="563.28" cy="507.76" r="2.4" fill="#659dcb" stroke="#1c2733" stroke-width="0.9"/>
<circle cx="566.98" cy="510.20" r="2.4" fill="#659dcb" stroke="#1c2733" stroke-width="0.9"/>
<circle cx="571.33" cy="509.05" r="2.4" fill="#659dcb" stroke="#1c2733" stroke-width="0.9"/>
<circle cx="560.56" cy="503.64" r="2.4" fill="#659dcb" stroke="#1c2733" stroke-width="0.9"/>
<circle cx="564.79" cy="504.88" r="2.4" fill="#659dcb" stroke="#1c2733" stroke-width="0.9"/>
<circle cx="569.53" cy="502.44" r="2.4" fill="#659dcb" stroke="#1c2733" stroke-width="0.9"/>
<circle cx="564.31" cy="498.58" r="2.4" fill="#659dcb" stroke="#1c2733" stroke-width="0.9"/>
<circle cx="564.99" cy="494.62" r="2.4" fill="#659dcb" stroke="#1c2733" stroke-width="0.9"/>
<circle cx="564.69" cy="492.20" r="2.4" fill="#659dcb" stroke="#1c2733" stroke-width="0.9"/>
<circle cx="564.90" cy="489.01" r="2.4" fill="#659dcb" stroke="#1c2733" stroke-width="0.9"/>
<circle cx="564.85" cy="485.23" r="2.4" fill="#659dcb" stroke="#1c2733" stroke-width="0.9"/>
<circle cx="565.78" cy="481.93" r="2.4" fill="#659dcb" stroke="#1c2733" stroke-width="0.9"/>
<circle cx="564.82" cy="447.95" r="2.4" fill="#659dcb" stroke="#1c2733" stroke-width="0.9"/>
<circle cx="603.69" cy="548.23" r="2.4" fill="#e8d77a" stroke="#33301c" stroke-width="0.9"/>
<circle cx="605.25" cy="549.53" r="2.4" fill="#e8d77a" stroke="#33301c" stroke-width="0.9"/>
<circle cx="607.04" cy="550.25" r="2.4" fill="#e8d77a" stroke="#33301c" stroke-width="0.9"/>
<circle cx="609.42" cy="547.76" r="2.4" fill="#e8d77a" stroke="#33301c" stroke-width="0.9"/>
<circle cx="611.78" cy="546.56" r="2.4" fill="#e8d77a" stroke="#33301c" stroke-width="0.9"/>
<circle cx="613.06" cy="548.80" r="2.4" fill="#e8d77a" stroke="#33301c" stroke-width="0.9"/>
<circle cx="615.64" cy="546.99" r="2.4" fill="#e8d77a" stroke="#33301c" stroke-width="0.9"/>
<circle cx="603.68" cy="544.02" r="2.4" fill="#e8d77a" stroke="#33301c" stroke-width="0.9"/>
<circle cx="605.26" cy="542.31" r="2.4" fill="#e8d77a" stroke="#33301c" stroke-width="0.9"/>
<circle cx="607.59" cy="543.36" r="2.4" fill="#e8d77a" stroke="#33301c" stroke-width="0.9"/>
<circle cx="609.17" cy="545.86" r="2.4" fill="#e8d77a" stroke="#33301c" stroke-width="0.9"/>
<circle cx="611.79" cy="544.50" r="2.4" fill="#e8d77a" stroke="#33301c" stroke-width="0.9"/>
<circle cx="613.37" cy="542.81" r="2.4" fill="#e8d77a" stroke="#33301c" stroke-width="0.9"/>
<circle cx="615.52" cy="545.31" r="2.4" fill="#e8d77a" stroke="#33301c" stroke-width="0.9"/>
<circle cx="597.10" cy="538.69" r="2.4" fill="#e8d77a" stroke="#33301c" stroke-width="0.9"/>
<circle cx="599.06" cy="538.98" r="2.4" fill="#e8d77a" stroke="#33301c" stroke-width="0.9"/>
<circle cx="600.86" cy="541.82" r="2.4" fill="#e8d77a" stroke="#33301c" stroke-width="0.9"/>
<circle cx="603.64" cy="538.12" r="2.4" fill="#e8d77a" stroke="#33301c" stroke-width="0.9"/>
<circle cx="604.84" cy="539.22" r="2.4" fill="#e8d77a" stroke="#33301c" stroke-width="0.9"/>
<circle cx="607.13" cy="540.84" r="2.4" fill="#e8d77a" stroke="#33301c" stroke-width="0.9"/>
<circle cx="609.44" cy="541.21" r="2.4" fill="#e8d77a" stroke="#33301c" stroke-width="0.9"/>
<circle cx="611.61" cy="538.26" r="2.4" fill="#e8d77a" stroke="#33301c" stroke-width="0.9"/>
<circle cx="613.85" cy="540.26" r="2.4" fill="#e8d77a" stroke="#33301c" stroke-width="0.9"/>
<circle cx="615.46" cy="540.53" r="2.4" fill="#e8d77a" stroke="#33301c" stroke-width="0.9"/>
<circle cx="617.18" cy="541.41" r="2.4" fill="#e8d77a" stroke="#33301c" stroke-width="0.9"/>
<circle cx="619.54" cy="539.92" r="2.4" fill="#e8d77a" stroke="#33301c" stroke-width="0.9"/>
<circle cx="621.92" cy="539.58" r="2.4" fill="#e8d77a" stroke="#33301c" stroke-width="0.9"/>
<circle cx="597.58" cy="533.88" r="2.4" fill="#e8d77a" stroke="#33301c" stroke-width="0.9"/>
<circle cx="599.38" cy="536.79" r="2.4" fill="#e8d77a" stroke="#33301c" stroke-width="0.9"/>
<circle cx="601.26" cy="534.93" r="2.4" fill="#e8d77a" stroke="#33301c" stroke-width="0.9"/>
<circle cx="602.37" cy="537.08" r="2.4" fill="#e8d77a" stroke="#33301c" stroke-width="0.9"/>
<circle cx="604.77" cy="536.08" r="2.4" fill="#e8d77a" stroke="#33301c" stroke-width="0.9"/>
<circle cx="606.89" cy="537.66" r="2.4" fill="#e8d77a" stroke="#33301c" stroke-width="0.9"/>
<circle cx="608.79" cy="533.70" r="2.4" fill="#e8d77a" stroke="#33301c" stroke-width="0.9"/>
<circle cx="610.56" cy="535.47" r="2.4" fill="#e8d77a" stroke="#33301c" stroke-width="0.9"/>
<circle cx="612.67" cy="534.18" r="2.4" fill="#e8d77a" stroke="#33301c" stroke-width="0.9"/>
<circle cx="613.80" cy="537.37" r="2.4" fill="#e8d77a" stroke="#33301c" stroke-width="0.9"/>
<circle cx="615.70" cy="534.65" r="2.4" fill="#e8d77a" stroke="#33301c" stroke-width="0.9"/>
<circle cx="618.14" cy="536.42" r="2.4" fill="#e8d77a" stroke="#33301c" stroke-width="0.9"/>
<circle cx="620.05" cy="535.30" r="2.4" fill="#e8d77a" stroke="#33301c" stroke-width="0.9"/>
<circle cx="621.32" cy="535.79" r="2.4" fill="#e8d77a" stroke="#33301c" stroke-width="0.9"/>
<circle cx="601.25" cy="533.30" r="2.4" fill="#e8d77a" stroke="#33301c" stroke-width="0.9"/>
<circle cx="603.09" cy="531.67" r="2.4" fill="#e8d77a" stroke="#33301c" stroke-width="0.9"/>
<circle cx="605.77" cy="532.99" r="2.4" fill="#e8d77a" stroke="#33301c" stroke-width="0.9"/>
<circle cx="607.43" cy="532.00" r="2.4" fill="#e8d77a" stroke="#33301c" stroke-width="0.9"/>
<circle cx="609.42" cy="532.61" r="2.4" fill="#e8d77a" stroke="#33301c" stroke-width="0.9"/>
<circle cx="611.57" cy="531.14" r="2.4" fill="#e8d77a" stroke="#33301c" stroke-width="0.9"/>
<circle cx="613.80" cy="530.08" r="2.4" fill="#e8d77a" stroke="#33301c" stroke-width="0.9"/>
<circle cx="615.03" cy="529.48" r="2.4" fill="#e8d77a" stroke="#33301c" stroke-width="0.9"/>
<circle cx="617.24" cy="530.71" r="2.4" fill="#e8d77a" stroke="#33301c" stroke-width="0.9"/>
<circle cx="602.80" cy="525.67" r="2.4" fill="#e8d77a" stroke="#33301c" stroke-width="0.9"/>
<circle cx="604.83" cy="526.04" r="2.4" fill="#e8d77a" stroke="#33301c" stroke-width="0.9"/>
<circle cx="606.39" cy="527.96" r="2.4" fill="#e8d77a" stroke="#33301c" stroke-width="0.9"/>
<circle cx="608.82" cy="526.71" r="2.4" fill="#e8d77a" stroke="#33301c" stroke-width="0.9"/>
<circle cx="610.62" cy="527.03" r="2.4" fill="#e8d77a" stroke="#33301c" stroke-width="0.9"/>
<circle cx="612.52" cy="529.09" r="2.4" fill="#e8d77a" stroke="#33301c" stroke-width="0.9"/>
<circle cx="613.69" cy="527.47" r="2.4" fill="#e8d77a" stroke="#33301c" stroke-width="0.9"/>
<circle cx="616.07" cy="528.63" r="2.4" fill="#e8d77a" stroke="#33301c" stroke-width="0.9"/>
<circle cx="603.28" cy="523.36" r="2.4" fill="#e8d77a" stroke="#33301c" stroke-width="0.9"/>
<circle cx="605.13" cy="522.33" r="2.4" fill="#e8d77a" stroke="#33301c" stroke-width="0.9"/>
<circle cx="608.30" cy="521.18" r="2.4" fill="#e8d77a" stroke="#33301c" stroke-width="0.9"/>
<circle cx="610.90" cy="524.59" r="2.4" fill="#e8d77a" stroke="#33301c" stroke-width="0.9"/>
<circle cx="613.41" cy="521.86" r="2.4" fill="#e8d77a" stroke="#33301c" stroke-width="0.9"/>
<circle cx="615.68" cy="524.14" r="2.4" fill="#e8d77a" stroke="#33301c" stroke-width="0.9"/>
<circle cx="602.71" cy="519.55" r="2.4" fill="#e8d77a" stroke="#33301c" stroke-width="0.9"/>
<circle cx="605.36" cy="516.46" r="2.4" fill="#e8d77a" stroke="#33301c" stroke-width="0.9"/>
<circle cx="608.17" cy="518.18" r="2.4" fill="#e8d77a" stroke="#33301c" stroke-width="0.9"/>
<circle cx="611.09" cy="518.69" r="2.4" fill="#e8d77a" stroke="#33301c" stroke-width="0.9"/>
<circle cx="612.88" cy="517.40" r="2.4" fill="#e8d77a" stroke="#33301c" stroke-width="0.9"/>
<circle cx="615.42" cy="520.16" r="2.4" fill="#e8d77a" stroke="#33301c" stroke-width="0.9"/>
<circle cx="602.86" cy="514.60" r="2.4" fill="#e8d77a" stroke="#33301c" stroke-width="0.9"/>
<circle cx="605.76" cy="513.58" r="2.4" fill="#e8d77a" stroke="#33301c" stroke-width="0.9"/>
<circle cx="608.05" cy="514.98" r="2.4" fill="#e8d77a" stroke="#33301c" stroke-width="0.9"/>
<circle cx="610.70" cy="512.25" r="2.4" fill="#e8d77a" stroke="#33301c" stroke-width="0.9"/>
<circle cx="613.78" cy="515.93" r="2.4" fill="#e8d77a" stroke="#33301c" stroke-width="0.9"/>
<circle cx="615.99" cy="513.14" r="2.4" fill="#e8d77a" stroke="#33301c" stroke-width="0.9"/>
<circle cx="607.38" cy="509.86" r="2.4" fill="#e8d77a" stroke="#33301c" stroke-width="0.9"/>
<circle cx="608.19" cy="510.94" r="2.4" fill="#e8d77a" stroke="#33301c" stroke-width="0.9"/>
<circle cx="609.84" cy="509.45" r="2.4" fill="#e8d77a" stroke="#33301c" stroke-width="0.9"/>
<circle cx="610.86" cy="511.75" r="2.4" fill="#e8d77a" stroke="#33301c" stroke-width="0.9"/>
<circle cx="611.43" cy="508.38" r="2.4" fill="#e8d77a" stroke="#33301c" stroke-width="0.9"/>
<circle cx="607.74" cy="504.21" r="2.4" fill="#e8d77a" stroke="#33301c" stroke-width="0.9"/>
<circle cx="608.71" cy="507.16" r="2.4" fill="#e8d77a" stroke="#33301c" stroke-width="0.9"/>
<circle cx="609.44" cy="505.26" r="2.4" fill="#e8d77a" stroke="#33301c" stroke-width="0.9"/>
<circle cx="609.93" cy="503.64" r="2.4" fill="#e8d77a" stroke="#33301c" stroke-width="0.9"/>
<circle cx="611.68" cy="506.35" r="2.4" fill="#e8d77a" stroke="#33301c" stroke-width="0.9"/>
<circle cx="609.71" cy="502.35" r="2.4" fill="#e8d77a" stroke="#33301c" stroke-width="0.9"/>
<circle cx="607.02" cy="496.90" r="2.4" fill="#e8d77a" stroke="#33301c" stroke-width="0.9"/>
<circle cx="612.10" cy="494.17" r="2.4" fill="#e8d77a" stroke="#33301c" stroke-width="0.9"/>
<circle cx="607.23" cy="492.35" r="2.4" fill="#e8d77a" stroke="#33301c" stroke-width="0.9"/>
<circle cx="611.55" cy="490.66" r="2.4" fill="#e8d77a" stroke="#33301c" stroke-width="0.9"/>
<circle cx="607.57" cy="483.25" r="2.4" fill="#e8d77a" stroke="#33301c" stroke-width="0.9"/>
<circle cx="609.78" cy="481.33" r="2.4" fill="#e8d77a" stroke="#33301c" stroke-width="0.9"/>
<circle cx="610.95" cy="479.38" r="2.4" fill="#e8d77a" stroke="#33301c" stroke-width="0.9"/>
<circle cx="609.86" cy="477.43" r="2.4" fill="#e8d77a" stroke="#33301c" stroke-width="0.9"/>
<circle cx="607.54" cy="467.59" r="2.4" fill="#e8d77a" stroke="#33301c" stroke-width="0.9"/>
<circle cx="609.48" cy="464.09" r="2.4" fill="#e8d77a" stroke="#33301c" stroke-width="0.9"/>
<circle cx="611.33" cy="465.84" r="2.4" fill="#e8d77a" stroke="#33301c" stroke-width="0.9"/>
<circle cx="608.24" cy="455.67" r="2.4" fill="#e8d77a" stroke="#33301c" stroke-width="0.9"/>
<circle cx="610.09" cy="452.86" r="2.4" fill="#e8d77a" stroke="#33301c" stroke-width="0.9"/>
<circle cx="609.07" cy="440.23" r="2.4" fill="#e8d77a" stroke="#33301c" stroke-width="0.9"/>
<circle cx="608.64" cy="429.70" r="2.4" fill="#e8d77a" stroke="#33301c" stroke-width="0.9"/>
<circle cx="610.42" cy="433.21" r="2.4" fill="#e8d77a" stroke="#33301c" stroke-width="0.9"/>
<circle cx="609.68" cy="420.58" r="2.4" fill="#e8d77a" stroke="#33301c" stroke-width="0.9"/>
<circle cx="609.67" cy="411.46" r="2.4" fill="#e8d77a" stroke="#33301c" stroke-width="0.9"/>
<circle cx="609.46" cy="367.96" r="2.4" fill="#e8d77a" stroke="#33301c" stroke-width="0.9"/>
<circle cx="609.65" cy="360.24" r="2.4" fill="#e8d77a" stroke="#33301c" stroke-width="0.9"/>
<circle cx="652.09" cy="548.99" r="2.4" fill="#d5706a" stroke="#38201d" stroke-width="0.9"/>
<circle cx="655.84" cy="548.99" r="2.4" fill="#d5706a" stroke="#38201d" stroke-width="0.9"/>
<circle cx="647.46" cy="544.59" r="2.4" fill="#d5706a" stroke="#38201d" stroke-width="0.9"/>
<circle cx="651.99" cy="543.73" r="2.4" fill="#d5706a" stroke="#38201d" stroke-width="0.9"/>
<circle cx="655.78" cy="541.02" r="2.4" fill="#d5706a" stroke="#38201d" stroke-width="0.9"/>
<circle cx="660.16" cy="541.78" r="2.4" fill="#d5706a" stroke="#38201d" stroke-width="0.9"/>
<circle cx="664.86" cy="542.84" r="2.4" fill="#d5706a" stroke="#38201d" stroke-width="0.9"/>
<circle cx="644.86" cy="539.76" r="2.4" fill="#d5706a" stroke="#38201d" stroke-width="0.9"/>
<circle cx="648.94" cy="538.95" r="2.4" fill="#d5706a" stroke="#38201d" stroke-width="0.9"/>
<circle cx="654.29" cy="540.39" r="2.4" fill="#d5706a" stroke="#38201d" stroke-width="0.9"/>
<circle cx="658.43" cy="538.13" r="2.4" fill="#d5706a" stroke="#38201d" stroke-width="0.9"/>
<circle cx="662.47" cy="537.03" r="2.4" fill="#d5706a" stroke="#38201d" stroke-width="0.9"/>
<circle cx="642.92" cy="536.37" r="2.4" fill="#d5706a" stroke="#38201d" stroke-width="0.9"/>
<circle cx="647.55" cy="535.32" r="2.4" fill="#d5706a" stroke="#38201d" stroke-width="0.9"/>
<circle cx="651.16" cy="533.81" r="2.4" fill="#d5706a" stroke="#38201d" stroke-width="0.9"/>
<circle cx="655.85" cy="533.16" r="2.4" fill="#d5706a" stroke="#38201d" stroke-width="0.9"/>
<circle cx="660.50" cy="534.55" r="2.4" fill="#d5706a" stroke="#38201d" stroke-width="0.9"/>
<circle cx="642.72" cy="530.93" r="2.4" fill="#d5706a" stroke="#38201d" stroke-width="0.9"/>
<circle cx="647.57" cy="529.91" r="2.4" fill="#d5706a" stroke="#38201d" stroke-width="0.9"/>
<circle cx="651.84" cy="529.14" r="2.4" fill="#d5706a" stroke="#38201d" stroke-width="0.9"/>
<circle cx="656.56" cy="531.72" r="2.4" fill="#d5706a" stroke="#38201d" stroke-width="0.9"/>
<circle cx="660.91" cy="528.48" r="2.4" fill="#d5706a" stroke="#38201d" stroke-width="0.9"/>
<circle cx="665.22" cy="532.19" r="2.4" fill="#d5706a" stroke="#38201d" stroke-width="0.9"/>
<circle cx="646.82" cy="525.65" r="2.4" fill="#d5706a" stroke="#38201d" stroke-width="0.9"/>
<circle cx="651.80" cy="527.66" r="2.4" fill="#d5706a" stroke="#38201d" stroke-width="0.9"/>
<circle cx="656.51" cy="524.43" r="2.4" fill="#d5706a" stroke="#38201d" stroke-width="0.9"/>
<circle cx="647.26" cy="523.17" r="2.4" fill="#d5706a" stroke="#38201d" stroke-width="0.9"/>
<circle cx="651.27" cy="519.54" r="2.4" fill="#d5706a" stroke="#38201d" stroke-width="0.9"/>
<circle cx="656.15" cy="520.72" r="2.4" fill="#d5706a" stroke="#38201d" stroke-width="0.9"/>
<circle cx="660.53" cy="522.13" r="2.4" fill="#d5706a" stroke="#38201d" stroke-width="0.9"/>
<circle cx="651.15" cy="516.21" r="2.4" fill="#d5706a" stroke="#38201d" stroke-width="0.9"/>
<circle cx="656.22" cy="517.83" r="2.4" fill="#d5706a" stroke="#38201d" stroke-width="0.9"/>
<circle cx="660.90" cy="515.43" r="2.4" fill="#d5706a" stroke="#38201d" stroke-width="0.9"/>
<circle cx="650.49" cy="512.15" r="2.4" fill="#d5706a" stroke="#38201d" stroke-width="0.9"/>
<circle cx="654.38" cy="510.91" r="2.4" fill="#d5706a" stroke="#38201d" stroke-width="0.9"/>
<circle cx="657.20" cy="513.53" r="2.4" fill="#d5706a" stroke="#38201d" stroke-width="0.9"/>
<circle cx="650.80" cy="507.13" r="2.4" fill="#d5706a" stroke="#38201d" stroke-width="0.9"/>
<circle cx="654.34" cy="508.66" r="2.4" fill="#d5706a" stroke="#38201d" stroke-width="0.9"/>
<circle cx="657.36" cy="509.51" r="2.4" fill="#d5706a" stroke="#38201d" stroke-width="0.9"/>
<circle cx="654.33" cy="498.47" r="2.4" fill="#d5706a" stroke="#38201d" stroke-width="0.9"/>
<circle cx="653.66" cy="492.85" r="2.4" fill="#d5706a" stroke="#38201d" stroke-width="0.9"/>
<circle cx="653.87" cy="484.43" r="2.4" fill="#d5706a" stroke="#38201d" stroke-width="0.9"/>
<circle cx="654.16" cy="401.64" r="2.4" fill="#d5706a" stroke="#38201d" stroke-width="0.9"/>
<circle cx="654.16" cy="356.73" r="2.4" fill="#d5706a" stroke="#38201d" stroke-width="0.9"/>
<line x1="550.40" y1="530.04" x2="579.40" y2="530.04" stroke="#000" stroke-width="2.2" stroke-linecap="butt"/>
<line x1="594.90" y1="526.53" x2="623.90" y2="526.53" stroke="#000" stroke-width="2.2" stroke-linecap="butt"/>
<line x1="639.40" y1="530.74" x2="668.40" y2="530.74" stroke="#000" stroke-width="2.2" stroke-linecap="butt"/>
<line x1="535.40" y1="344.10" x2="535.40" y2="555.60" stroke="#000" stroke-width="2.2" stroke-linecap="butt"/>
<line x1="526.40" y1="554.60" x2="684.00" y2="554.60" stroke="#000" stroke-width="2.2" stroke-linecap="butt"/>
<line x1="526.40" y1="554.60" x2="535.40" y2="554.60" stroke="#000" stroke-width="2.2" stroke-linecap="butt"/>
<text x="524.00" y="559.80" font-size="14.5" font-weight="bold" text-anchor="end" fill="#000" >0</text>
<line x1="526.40" y1="484.43" x2="535.40" y2="484.43" stroke="#000" stroke-width="2.2" stroke-linecap="butt"/>
<text x="524.00" y="489.63" font-size="14.5" font-weight="bold" text-anchor="end" fill="#000" >10</text>
<line x1="526.40" y1="414.27" x2="535.40" y2="414.27" stroke="#000" stroke-width="2.2" stroke-linecap="butt"/>
<text x="524.00" y="419.47" font-size="14.5" font-weight="bold" text-anchor="end" fill="#000" >20</text>
<line x1="526.40" y1="344.10" x2="535.40" y2="344.10" stroke="#000" stroke-width="2.2" stroke-linecap="butt"/>
<text x="524.00" y="349.30" font-size="14.5" font-weight="bold" text-anchor="end" fill="#000" >30</text>
<line x1="564.90" y1="554.60" x2="564.90" y2="564.10" stroke="#000" stroke-width="2.2" stroke-linecap="butt"/>
<text x="564.90" y="579.90" font-size="14.5" font-weight="bold" text-anchor="middle" fill="#000" >CR</text>
<line x1="609.40" y1="554.60" x2="609.40" y2="564.10" stroke="#000" stroke-width="2.2" stroke-linecap="butt"/>
<text x="609.40" y="579.90" font-size="14.5" font-weight="bold" text-anchor="middle" fill="#000" >PR</text>
<line x1="653.90" y1="554.60" x2="653.90" y2="564.10" stroke="#000" stroke-width="2.2" stroke-linecap="butt"/>
<text x="653.90" y="579.90" font-size="14.5" font-weight="bold" text-anchor="middle" fill="#000" >MR</text>
<text transform="translate(489.00,449.35) rotate(-90)" font-size="15" font-weight="bold" text-anchor="middle">[<tspan font-size="11" dy="-5.8">18</tspan><tspan dy="5.8">F]FDG SUV</tspan><tspan font-size="11" dy="3.4">peak</tspan></text>
<path d="M565.40,346.30 V343.80 H651.40 V346.30" fill="none" stroke="#222" stroke-width="1.2"/>
<text x="608.40" y="340.80" font-size="11.5" font-weight="normal" text-anchor="middle" fill="#222" >NS</text>
<text x="1.50" y="615.20" font-size="19.5" font-weight="normal" text-anchor="start" fill="#000" >C</text>
<text x="28.20" y="622.40" font-size="15.1" font-weight="bold" text-anchor="start" fill="#000" >Radiographic response of lesions</text>
<text x="148.90" y="637.00" font-size="10" font-weight="normal" text-anchor="middle" fill="#222" >(N=267)</text>
<rect x="92.00" y="681.60" width="28.20" height="65.13" fill="#b4463b"/>
<rect x="92.00" y="746.73" width="28.20" height="59.70" fill="#dbc46a"/>
<rect x="92.00" y="806.43" width="28.20" height="32.57" fill="#4a7fad"/>
<text x="93.40" y="689.40" font-size="8.9" font-weight="normal" text-anchor="start" fill="#fff" >N=12</text>
<text x="93.40" y="755.73" font-size="8.9" font-weight="normal" text-anchor="start" fill="#444" >N=11</text>
<text x="93.40" y="815.43" font-size="8.9" font-weight="normal" text-anchor="start" fill="#fff" >N=6</text>
<rect x="135.20" y="681.60" width="28.20" height="47.70" fill="#b4463b"/>
<rect x="135.20" y="729.30" width="28.20" height="88.24" fill="#dbc46a"/>
<rect x="135.20" y="817.54" width="28.20" height="21.46" fill="#4a7fad"/>
<text x="136.60" y="689.40" font-size="8.9" font-weight="normal" text-anchor="start" fill="#fff" >N=20</text>
<text x="136.60" y="738.30" font-size="8.9" font-weight="normal" text-anchor="start" fill="#444" >N=37</text>
<text x="136.60" y="826.54" font-size="8.9" font-weight="normal" text-anchor="start" fill="#fff" >N=9</text>
<rect x="178.00" y="681.60" width="28.20" height="10.07" fill="#b4463b"/>
<rect x="178.00" y="691.67" width="28.20" height="102.49" fill="#dbc46a"/>
<rect x="178.00" y="794.16" width="28.20" height="44.84" fill="#4a7fad"/>
<text x="179.40" y="689.40" font-size="8.9" font-weight="normal" text-anchor="start" fill="#fff" >N=11</text>
<text x="179.40" y="700.67" font-size="8.9" font-weight="normal" text-anchor="start" fill="#444" >N=112</text>
<text x="179.40" y="803.16" font-size="8.9" font-weight="normal" text-anchor="start" fill="#fff" >N=49</text>
<line x1="77.80" y1="641.50" x2="77.80" y2="840.00" stroke="#000" stroke-width="2.2" stroke-linecap="butt"/>
<line x1="72.30" y1="839.00" x2="221.70" y2="839.00" stroke="#000" stroke-width="2.2" stroke-linecap="butt"/>
<line x1="73.80" y1="642.50" x2="77.80" y2="642.50" stroke="#000" stroke-width="1.5" stroke-linecap="butt"/>
<line x1="71.80" y1="681.60" x2="77.80" y2="681.60" stroke="#000" stroke-width="2" stroke-linecap="butt"/>
<text x="69.50" y="685.90" font-size="12" font-weight="bold" text-anchor="end" fill="#000" >100%</text>
<line x1="71.80" y1="760.30" x2="77.80" y2="760.30" stroke="#000" stroke-width="2" stroke-linecap="butt"/>
<text x="69.50" y="764.60" font-size="12" font-weight="bold" text-anchor="end" fill="#000" >50%</text>
<line x1="71.80" y1="839.00" x2="77.80" y2="839.00" stroke="#000" stroke-width="2" stroke-linecap="butt"/>
<text x="69.50" y="843.30" font-size="12" font-weight="bold" text-anchor="end" fill="#000" >0%</text>
<line x1="73.80" y1="720.95" x2="77.80" y2="720.95" stroke="#000" stroke-width="1.6" stroke-linecap="butt"/>
<line x1="73.80" y1="799.65" x2="77.80" y2="799.65" stroke="#000" stroke-width="1.6" stroke-linecap="butt"/>
<text transform="translate(29.50,759.1) rotate(-90)" font-size="15" font-weight="bold" text-anchor="middle">Proportion of lesions</text>
<line x1="106.20" y1="839.00" x2="106.20" y2="844.20" stroke="#000" stroke-width="2" stroke-linecap="butt"/>
<text x="106.20" y="859.00" font-size="12.3" font-weight="bold" text-anchor="middle" fill="#000" >1</text>
<text x="106.20" y="871.60" font-size="10" font-weight="normal" text-anchor="middle" fill="#222" >(N=29)</text>
<line x1="149.20" y1="839.00" x2="149.20" y2="844.20" stroke="#000" stroke-width="2" stroke-linecap="butt"/>
<text x="149.20" y="859.00" font-size="12.3" font-weight="bold" text-anchor="middle" fill="#000" >2</text>
<text x="149.20" y="871.60" font-size="10" font-weight="normal" text-anchor="middle" fill="#222" >(N=66)</text>
<line x1="192.00" y1="839.00" x2="192.00" y2="844.20" stroke="#000" stroke-width="2" stroke-linecap="butt"/>
<text x="192.00" y="859.00" font-size="12.3" font-weight="bold" text-anchor="middle" fill="#000" >3</text>
<text x="192.00" y="871.60" font-size="10" font-weight="normal" text-anchor="middle" fill="#222" >(N=172)</text>
<text x="228.30" y="842.40" font-size="12.5" font-weight="bold" text-anchor="start" fill="#000" >miPSMA</text>
<path d="M106.00,659.60 V657.60 H192.40 V659.60" fill="none" stroke="#444" stroke-width="1.3"/>
<text x="149.30" y="656.30" font-size="10.3" font-weight="normal" text-anchor="middle" fill="#222" >P&lt;0.001</text>
<path d="M148.30,674.70 V672.70 H192.40 V674.70" fill="none" stroke="#444" stroke-width="1.3"/>
<text x="169.80" y="671.40" font-size="10.3" font-weight="normal" text-anchor="middle" fill="#222" >P&lt;0.001</text>
<rect x="75.00" y="890.20" width="19.20" height="6.00" fill="#b4463b"/>
<text x="105.50" y="897.20" font-size="12.5" font-weight="bold" text-anchor="start" fill="#000" >Minimal response</text>
<rect x="75.00" y="909.40" width="19.20" height="6.00" fill="#dbc46a"/>
<text x="105.50" y="916.40" font-size="12.5" font-weight="bold" text-anchor="start" fill="#000" >Partial response</text>
<rect x="75.00" y="928.30" width="19.20" height="6.00" fill="#4a7fad"/>
<text x="105.50" y="935.30" font-size="12.5" font-weight="bold" text-anchor="start" fill="#000" >Complete response</text>
<text x="311.00" y="615.50" font-size="19.5" font-weight="normal" text-anchor="start" fill="#000" >D</text>
<text x="340.50" y="622.50" font-size="15.2" font-weight="bold" text-anchor="start" fill="#000" >Radiographic response of lesions</text>
<text x="462.50" y="637.50" font-size="10" font-weight="normal" text-anchor="middle" fill="#222" >(N=267)</text>
<rect x="393.10" y="681.90" width="27.00" height="60.43" fill="#d9766c"/>
<rect x="393.10" y="742.33" width="27.00" height="70.51" fill="#e8dca2"/>
<rect x="393.10" y="812.84" width="27.00" height="26.86" fill="#6ba9d8"/>
<text x="394.50" y="689.70" font-size="8.9" font-weight="normal" text-anchor="start" fill="#fff" >N=18</text>
<text x="394.50" y="751.33" font-size="8.9" font-weight="normal" text-anchor="start" fill="#444" >N=21</text>
<text x="394.50" y="821.84" font-size="8.9" font-weight="normal" text-anchor="start" fill="#fff" >N=8</text>
<rect x="434.80" y="681.90" width="27.00" height="46.03" fill="#d9766c"/>
<rect x="434.80" y="727.92" width="27.00" height="88.76" fill="#e8dca2"/>
<rect x="434.80" y="816.69" width="27.00" height="23.01" fill="#6ba9d8"/>
<text x="436.20" y="689.70" font-size="8.9" font-weight="normal" text-anchor="start" fill="#fff" >N=14</text>
<text x="436.20" y="736.92" font-size="8.9" font-weight="normal" text-anchor="start" fill="#444" >N=27</text>
<text x="436.20" y="825.69" font-size="8.9" font-weight="normal" text-anchor="start" fill="#fff" >N=7</text>
<rect x="476.30" y="681.90" width="27.00" height="9.17" fill="#b8463b"/>
<rect x="476.30" y="691.07" width="27.00" height="95.41" fill="#dcc462"/>
<rect x="476.30" y="786.49" width="27.00" height="53.21" fill="#4077a7"/>
<text x="477.70" y="689.70" font-size="8.9" font-weight="normal" text-anchor="start" fill="#fff" >N=5</text>
<text x="477.70" y="700.07" font-size="8.9" font-weight="normal" text-anchor="start" fill="#444" >N=52</text>
<text x="477.70" y="795.49" font-size="8.9" font-weight="normal" text-anchor="start" fill="#fff" >N=29</text>
<rect x="518.10" y="681.90" width="27.00" height="11.01" fill="#b8463b"/>
<rect x="518.10" y="692.91" width="27.00" height="104.59" fill="#dcc462"/>
<rect x="518.10" y="797.50" width="27.00" height="42.20" fill="#4077a7"/>
<text x="519.50" y="689.70" font-size="8.9" font-weight="normal" text-anchor="start" fill="#fff" >N=6</text>
<text x="519.50" y="701.91" font-size="8.9" font-weight="normal" text-anchor="start" fill="#444" >N=57</text>
<text x="519.50" y="806.50" font-size="8.9" font-weight="normal" text-anchor="start" fill="#fff" >N=23</text>
<line x1="379.20" y1="641.80" x2="379.20" y2="840.70" stroke="#000" stroke-width="2.2" stroke-linecap="butt"/>
<line x1="373.70" y1="839.70" x2="560.00" y2="839.70" stroke="#000" stroke-width="2.2" stroke-linecap="butt"/>
<line x1="375.20" y1="642.80" x2="379.20" y2="642.80" stroke="#000" stroke-width="1.5" stroke-linecap="butt"/>
<line x1="373.20" y1="681.90" x2="379.20" y2="681.90" stroke="#000" stroke-width="2" stroke-linecap="butt"/>
<text x="370.60" y="686.20" font-size="12" font-weight="bold" text-anchor="end" fill="#000" >100%</text>
<line x1="373.20" y1="760.80" x2="379.20" y2="760.80" stroke="#000" stroke-width="2" stroke-linecap="butt"/>
<text x="370.60" y="765.10" font-size="12" font-weight="bold" text-anchor="end" fill="#000" >50%</text>
<line x1="373.20" y1="839.70" x2="379.20" y2="839.70" stroke="#000" stroke-width="2" stroke-linecap="butt"/>
<text x="370.60" y="844.00" font-size="12" font-weight="bold" text-anchor="end" fill="#000" >0%</text>
<line x1="375.20" y1="721.35" x2="379.20" y2="721.35" stroke="#000" stroke-width="1.6" stroke-linecap="butt"/>
<line x1="375.20" y1="800.25" x2="379.20" y2="800.25" stroke="#000" stroke-width="1.6" stroke-linecap="butt"/>
<text transform="translate(325.70,759.1) rotate(-90)" font-size="15" font-weight="bold" text-anchor="middle">Proportion of lesions</text>
<text x="406.60" y="859.20" font-size="11.8" font-weight="bold" text-anchor="middle" fill="#000" >Low</text>
<text x="406.60" y="872.40" font-size="10" font-weight="normal" text-anchor="middle" fill="#222" >(N=47)</text>
<text x="448.30" y="859.20" font-size="11.8" font-weight="bold" text-anchor="middle" fill="#000" >High</text>
<text x="448.30" y="872.40" font-size="10" font-weight="normal" text-anchor="middle" fill="#222" >(N=48)</text>
<text x="489.80" y="859.20" font-size="11.8" font-weight="bold" text-anchor="middle" fill="#000" >Low</text>
<text x="489.80" y="872.40" font-size="10" font-weight="normal" text-anchor="middle" fill="#222" >(N=86)</text>
<text x="531.60" y="859.20" font-size="11.8" font-weight="bold" text-anchor="middle" fill="#000" >High</text>
<text x="531.60" y="872.40" font-size="10" font-weight="normal" text-anchor="middle" fill="#222" >(N=86)</text>
<text x="378.30" y="865.30" font-size="12.5" font-weight="bold" text-anchor="end" fill="#000" >FDG Uptake</text>
<text x="378.30" y="895.30" font-size="12.5" font-weight="bold" text-anchor="end" fill="#000" >PSMA Uptake</text>
<line x1="391.00" y1="877.90" x2="464.60" y2="877.90" stroke="#666" stroke-width="1.3" stroke-linecap="butt"/>
<line x1="474.20" y1="877.90" x2="547.70" y2="877.90" stroke="#666" stroke-width="1.3" stroke-linecap="butt"/>
<text x="427.80" y="893.30" font-size="11.8" font-weight="bold" text-anchor="middle" fill="#000" >Low</text>
<text x="427.80" y="905.30" font-size="10" font-weight="normal" text-anchor="middle" fill="#222" dy="0.8">(miPSMA=1-2)</text>
<text x="510.50" y="893.30" font-size="11.8" font-weight="bold" text-anchor="middle" fill="#000" >High</text>
<text x="510.50" y="905.30" font-size="10" font-weight="normal" text-anchor="middle" fill="#222" dy="0.8">(miPSMA=3)</text>
<path d="M405.70,677.50 V675.50 H449.20 V677.50" fill="none" stroke="#444" stroke-width="1.3"/>
<text x="427.45" y="674.10" font-size="10.3" font-weight="normal" text-anchor="middle" fill="#222" >NS</text>
<path d="M488.90,677.50 V675.50 H532.40 V677.50" fill="none" stroke="#444" stroke-width="1.3"/>
<text x="510.65" y="674.10" font-size="10.3" font-weight="normal" text-anchor="middle" fill="#222" >NS</text>
<path d="M405.70,666.40 V664.40 H490.00 V666.40" fill="none" stroke="#444" stroke-width="1.3"/>
<text x="447.85" y="663.00" font-size="10.3" font-weight="normal" text-anchor="middle" fill="#222" >P&lt;0.001</text>
<path d="M448.00,652.70 V650.70 H532.40 V652.70" fill="none" stroke="#444" stroke-width="1.3"/>
<text x="490.20" y="649.30" font-size="10.3" font-weight="normal" text-anchor="middle" fill="#222" >P=0.002</text>
<rect x="566.00" y="681.80" width="19.00" height="6.00" fill="#d9766c"/>
<rect x="586.00" y="681.80" width="19.00" height="6.00" fill="#b8463b"/>
<text x="566.40" y="700.40" font-size="12.5" font-weight="bold" text-anchor="start" fill="#000" >Minimal response</text>
<rect x="566.00" y="711.80" width="19.00" height="6.00" fill="#e8dca2"/>
<rect x="586.00" y="711.80" width="19.00" height="6.00" fill="#dcc462"/>
<text x="566.40" y="730.40" font-size="12.5" font-weight="bold" text-anchor="start" fill="#000" >Partial response</text>
<rect x="566.00" y="740.80" width="19.00" height="6.00" fill="#6ba9d8"/>
<rect x="586.00" y="740.80" width="19.00" height="6.00" fill="#4077a7"/>
<text x="566.40" y="759.40" font-size="12.5" font-weight="bold" text-anchor="start" fill="#000" >Complete response</text>
</svg>
</body></html>
